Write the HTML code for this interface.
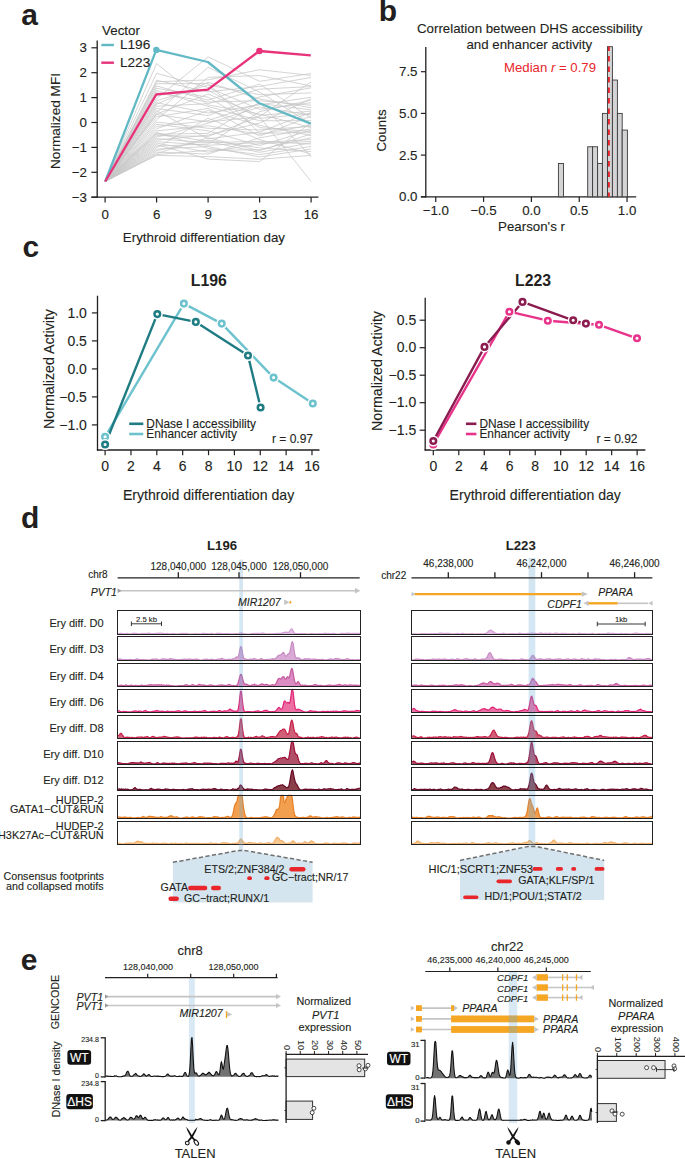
<!DOCTYPE html>
<html><head><meta charset="utf-8"><style>
html,body{margin:0;padding:0;background:#fff;overflow:hidden;width:685px;height:1158px;}
svg{display:block;}
text{font-family:"Liberation Sans", sans-serif;}
</style></head><body>
<svg width="685" height="1158" viewBox="0 0 685 1158" font-family='"Liberation Sans", sans-serif'>
<rect width="685" height="1158" fill="#fff"/>
<text x="21.3" y="24.6" font-size="30" font-weight="bold" fill="#231f20">a</text>
<text x="378.8" y="20.8" font-size="30" font-weight="bold" fill="#231f20">b</text>
<text x="22.4" y="256.6" font-size="30" font-weight="bold" fill="#231f20">c</text>
<text x="20.9" y="528.1" font-size="30" font-weight="bold" fill="#231f20">d</text>
<text x="20.7" y="970.1" font-size="30" font-weight="bold" fill="#231f20">e</text>
<line x1="97.2" y1="40.6" x2="97.2" y2="197.8" stroke="#231f20" stroke-width="1.3" />
<line x1="91.4" y1="197.2" x2="97.2" y2="197.2" stroke="#231f20" stroke-width="1.2" />
<text x="87" y="201.8" font-size="13.3" text-anchor="end" fill="#231f20" stroke="#231f20" stroke-width="0.12">−3</text>
<line x1="91.4" y1="172.3" x2="97.2" y2="172.3" stroke="#231f20" stroke-width="1.2" />
<text x="87" y="176.9" font-size="13.3" text-anchor="end" fill="#231f20" stroke="#231f20" stroke-width="0.12">−2</text>
<line x1="91.4" y1="147.4" x2="97.2" y2="147.4" stroke="#231f20" stroke-width="1.2" />
<text x="87" y="152" font-size="13.3" text-anchor="end" fill="#231f20" stroke="#231f20" stroke-width="0.12">−1</text>
<line x1="91.4" y1="122.5" x2="97.2" y2="122.5" stroke="#231f20" stroke-width="1.2" />
<text x="87" y="127.1" font-size="13.3" text-anchor="end" fill="#231f20" stroke="#231f20" stroke-width="0.12">0</text>
<line x1="91.4" y1="97.6" x2="97.2" y2="97.6" stroke="#231f20" stroke-width="1.2" />
<text x="87" y="102.2" font-size="13.3" text-anchor="end" fill="#231f20" stroke="#231f20" stroke-width="0.12">1</text>
<line x1="91.4" y1="72.7" x2="97.2" y2="72.7" stroke="#231f20" stroke-width="1.2" />
<text x="87" y="77.3" font-size="13.3" text-anchor="end" fill="#231f20" stroke="#231f20" stroke-width="0.12">2</text>
<line x1="91.4" y1="47.8" x2="97.2" y2="47.8" stroke="#231f20" stroke-width="1.2" />
<text x="87" y="52.4" font-size="13.3" text-anchor="end" fill="#231f20" stroke="#231f20" stroke-width="0.12">3</text>
<line x1="91.4" y1="197.2" x2="318.4" y2="197.2" stroke="#231f20" stroke-width="1.3" />
<line x1="105.1" y1="197.2" x2="105.1" y2="202.4" stroke="#231f20" stroke-width="1.2" />
<text x="105.1" y="219" font-size="13.3" text-anchor="middle" fill="#231f20" stroke="#231f20" stroke-width="0.12">0</text>
<line x1="156.6" y1="197.2" x2="156.6" y2="202.4" stroke="#231f20" stroke-width="1.2" />
<text x="156.6" y="219" font-size="13.3" text-anchor="middle" fill="#231f20" stroke="#231f20" stroke-width="0.12">6</text>
<line x1="208.1" y1="197.2" x2="208.1" y2="202.4" stroke="#231f20" stroke-width="1.2" />
<text x="208.1" y="219" font-size="13.3" text-anchor="middle" fill="#231f20" stroke="#231f20" stroke-width="0.12">9</text>
<line x1="259.6" y1="197.2" x2="259.6" y2="202.4" stroke="#231f20" stroke-width="1.2" />
<text x="259.6" y="219" font-size="13.3" text-anchor="middle" fill="#231f20" stroke="#231f20" stroke-width="0.12">13</text>
<line x1="311.1" y1="197.2" x2="311.1" y2="202.4" stroke="#231f20" stroke-width="1.2" />
<text x="311.1" y="219" font-size="13.3" text-anchor="middle" fill="#231f20" stroke="#231f20" stroke-width="0.12">16</text>
<text x="203.9" y="241.9" font-size="13.35" text-anchor="middle" fill="#231f20" stroke="#231f20" stroke-width="0.12">Erythroid differentiation day</text>
<text transform="translate(59.9,121) rotate(-90)" x="0" y="0" font-size="13.6" text-anchor="middle" fill="#231f20" stroke="#231f20" stroke-width="0.12">Normalized MFI</text>
<polyline points="105.1,181.5 156.6,98.49 208.1,56.87 259.6,81.32 311.1,73.5" fill="none" stroke="#c6c6c6" stroke-width="0.75" />
<polyline points="105.1,181.5 156.6,154.63 208.1,150.25 259.6,149.7 311.1,137.58" fill="none" stroke="#c6c6c6" stroke-width="0.75" />
<polyline points="105.1,181.5 156.6,108.5 208.1,115.6 259.6,96.93 311.1,87.84" fill="none" stroke="#c6c6c6" stroke-width="0.75" />
<polyline points="105.1,181.5 156.6,92.74 208.1,101.98 259.6,100.74 311.1,105.21" fill="none" stroke="#c6c6c6" stroke-width="0.75" />
<polyline points="105.1,181.5 156.6,126.5 208.1,120.67 259.6,103.48 311.1,109.88" fill="none" stroke="#c6c6c6" stroke-width="0.75" />
<polyline points="105.1,181.5 156.6,153.62 208.1,137.64 259.6,150.85 311.1,133.95" fill="none" stroke="#c6c6c6" stroke-width="0.75" />
<polyline points="105.1,181.5 156.6,141.62 208.1,145.26 259.6,142.6 311.1,139.49" fill="none" stroke="#c6c6c6" stroke-width="0.75" />
<polyline points="105.1,181.5 156.6,114.15 208.1,94.07 259.6,115.36 311.1,111.15" fill="none" stroke="#c6c6c6" stroke-width="0.75" />
<polyline points="105.1,181.5 156.6,90.49 208.1,106.45 259.6,120.73 311.1,120.62" fill="none" stroke="#c6c6c6" stroke-width="0.75" />
<polyline points="105.1,181.5 156.6,104.17 208.1,82.3 259.6,99.01 311.1,107.75" fill="none" stroke="#c6c6c6" stroke-width="0.75" />
<polyline points="105.1,181.5 156.6,143.12 208.1,152.15 259.6,143.76 311.1,141.39" fill="none" stroke="#c6c6c6" stroke-width="0.75" />
<polyline points="105.1,181.5 156.6,122 208.1,128.29 259.6,129.96 311.1,126.33" fill="none" stroke="#c6c6c6" stroke-width="0.75" />
<polyline points="105.1,181.5 156.6,81.72 208.1,79.88 259.6,69.78 311.1,75.4" fill="none" stroke="#c6c6c6" stroke-width="0.75" />
<polyline points="105.1,181.5 156.6,128.75 208.1,110.52 259.6,125.35 311.1,135.68" fill="none" stroke="#c6c6c6" stroke-width="0.75" />
<polyline points="105.1,181.5 156.6,133.46 208.1,141.45 259.6,152.36 311.1,142.78" fill="none" stroke="#c6c6c6" stroke-width="0.75" />
<polyline points="105.1,181.5 156.6,138.62 208.1,142.72 259.6,141.3 311.1,144.05" fill="none" stroke="#c6c6c6" stroke-width="0.75" />
<polyline points="105.1,181.5 156.6,110.75 208.1,138.91 259.6,132.04 311.1,112.42" fill="none" stroke="#c6c6c6" stroke-width="0.75" />
<polyline points="105.1,181.5 156.6,63.57 208.1,104.95 259.6,113.98 311.1,127.6" fill="none" stroke="#c6c6c6" stroke-width="0.75" />
<polyline points="105.1,181.5 156.6,85.99 208.1,100.07 259.6,84.15 311.1,118.08" fill="none" stroke="#c6c6c6" stroke-width="0.75" />
<polyline points="105.1,181.5 156.6,132.36 208.1,148.34 259.6,154.66 311.1,146.41" fill="none" stroke="#c6c6c6" stroke-width="0.75" />
<polyline points="105.1,181.5 156.6,106.25 208.1,103.68 259.6,89.17 311.1,86.6" fill="none" stroke="#c6c6c6" stroke-width="0.75" />
<polyline points="105.1,181.5 156.6,149.12 208.1,146.53 259.6,156.97 311.1,148.95" fill="none" stroke="#c6c6c6" stroke-width="0.75" />
<polyline points="105.1,181.5 156.6,116.87 208.1,108.35 259.6,136.11 311.1,116.23" fill="none" stroke="#c6c6c6" stroke-width="0.75" />
<polyline points="105.1,181.5 156.6,73.33 208.1,87.55 259.6,109.36 311.1,102.67" fill="none" stroke="#c6c6c6" stroke-width="0.75" />
<polyline points="105.1,181.5 156.6,119.75 208.1,77.34 259.6,75.55 311.1,85.96" fill="none" stroke="#c6c6c6" stroke-width="0.75" />
<polyline points="105.1,181.5 156.6,124.25 208.1,130.83 259.6,145.6 311.1,130.14" fill="none" stroke="#c6c6c6" stroke-width="0.75" />
<polyline points="105.1,181.5 156.6,130.86 208.1,125.75 259.6,134.38 311.1,125.06" fill="none" stroke="#c6c6c6" stroke-width="0.75" />
<polyline points="105.1,181.5 156.6,112.65 208.1,67.28 259.6,92.05 311.1,123.79" fill="none" stroke="#c6c6c6" stroke-width="0.75" />
<polyline points="105.1,181.5 156.6,80.22 208.1,91.88 259.6,86.45 311.1,77.42" fill="none" stroke="#c6c6c6" stroke-width="0.75" />
<polyline points="105.1,181.5 156.6,83.74 208.1,83.57 259.6,133.2 311.1,132.68" fill="none" stroke="#c6c6c6" stroke-width="0.75" />
<polyline points="105.1,181.5 156.6,95.54 208.1,89.97 259.6,118.42 311.1,113.69" fill="none" stroke="#c6c6c6" stroke-width="0.75" />
<polyline points="105.1,181.5 156.6,152.12 208.1,154.06 259.6,137.84 311.1,128.87" fill="none" stroke="#c6c6c6" stroke-width="0.75" />
<polyline points="105.1,181.5 156.6,88.24 208.1,97.25 259.6,127.66 311.1,131.41" fill="none" stroke="#c6c6c6" stroke-width="0.75" />
<polyline points="105.1,181.5 156.6,146.12 208.1,143.99 259.6,111.67 311.1,100.13" fill="none" stroke="#c6c6c6" stroke-width="0.75" />
<polyline points="105.1,181.5 156.6,137.12 208.1,123.21 259.6,107.06 311.1,114.96" fill="none" stroke="#c6c6c6" stroke-width="0.75" />
<polyline points="105.1,181.5 156.6,150.62 208.1,140.18 259.6,147.91 311.1,151.49" fill="none" stroke="#c6c6c6" stroke-width="0.75" />
<polyline points="105.1,181.5 156.6,100.74 208.1,85.01 259.6,94.62 311.1,92.92" fill="none" stroke="#c6c6c6" stroke-width="0.75" />
<polyline points="105.1,181.5 156.6,102.67 208.1,113.06 259.6,104.75 311.1,97.3" fill="none" stroke="#c6c6c6" stroke-width="0.75" />
<polyline points="105.1,181.5 156.6,147.62 208.1,118.13 259.6,139.57 311.1,154.03" fill="none" stroke="#c6c6c6" stroke-width="0.75" />
<polyline points="105.1,181.5 156.6,140.12 208.1,135.1 259.6,123.04 311.1,98.57" fill="none" stroke="#c6c6c6" stroke-width="0.75" />
<polyline points="105.1,181.5 156.6,155.38 208.1,156.57 259.6,159.28 311.1,155.36" fill="none" stroke="#c6c6c6" stroke-width="0.75" />
<polyline points="105.1,181.5 156.6,135.62 208.1,136.37 259.6,116.52 311.1,81.87" fill="none" stroke="#c6c6c6" stroke-width="0.75" />
<polyline points="105.1,181.5 156.6,144.62 208.1,159.11 259.6,161.59 311.1,122.52" fill="none" stroke="#c6c6c6" stroke-width="0.75" />
<polyline points="105.1,181.5 156.6,134.21 208.1,133.37 259.6,102.32 311.1,156.63" fill="none" stroke="#c6c6c6" stroke-width="0.75" />
<polyline points="105.1,181.5 156.6,114.44 208.1,121.89 259.6,116.92 311.1,181.44" fill="none" stroke="#c6c6c6" stroke-width="0.75" />
<polyline points="105.2,181.5 156.3,49.9 207.8,62 259.4,103.3 310.8,123.6" fill="none" stroke="#62b9c5" stroke-width="2.3" stroke-linejoin="round"/>
<polyline points="105.2,181.5 156.3,94.3 207.8,89.6 259.4,51 310.8,55.4" fill="none" stroke="#e8327a" stroke-width="2.3" stroke-linejoin="round"/>
<circle cx="156.3" cy="49.9" r="3.2" fill="#62b9c5" stroke="none" stroke-width="0"/>
<circle cx="259.4" cy="51" r="3.2" fill="#e8327a" stroke="none" stroke-width="0"/>
<text x="102" y="35.2" font-size="13.4" fill="#231f20" stroke="#231f20" stroke-width="0.12">Vector</text>
<line x1="101.3" y1="45" x2="113.9" y2="45" stroke="#62b9c5" stroke-width="2.4" />
<line x1="101.3" y1="62.7" x2="113.9" y2="62.7" stroke="#e8327a" stroke-width="2.4" />
<text x="120" y="49.4" font-size="13.6" fill="#231f20" stroke="#231f20" stroke-width="0.12">L196</text>
<text x="120" y="67.2" font-size="13.6" fill="#231f20" stroke="#231f20" stroke-width="0.12">L223</text>
<text x="529.7" y="33.3" font-size="13.3" text-anchor="middle" fill="#231f20" stroke="#231f20" stroke-width="0.12">Correlation between DHS accessibility</text>
<text x="529.3" y="49.1" font-size="13.3" text-anchor="middle" fill="#231f20" stroke="#231f20" stroke-width="0.12">and enhancer activity</text>
<line x1="425.8" y1="47.1" x2="425.8" y2="197.4" stroke="#231f20" stroke-width="1.3" />
<line x1="420.9" y1="196.8" x2="425.8" y2="196.8" stroke="#231f20" stroke-width="1.2" />
<text x="417.5" y="201.4" font-size="13.3" text-anchor="end" fill="#231f20" stroke="#231f20" stroke-width="0.12">0.0</text>
<line x1="420.9" y1="155.1" x2="425.8" y2="155.1" stroke="#231f20" stroke-width="1.2" />
<text x="417.5" y="159.7" font-size="13.3" text-anchor="end" fill="#231f20" stroke="#231f20" stroke-width="0.12">2.5</text>
<line x1="420.9" y1="113.4" x2="425.8" y2="113.4" stroke="#231f20" stroke-width="1.2" />
<text x="417.5" y="118" font-size="13.3" text-anchor="end" fill="#231f20" stroke="#231f20" stroke-width="0.12">5.0</text>
<line x1="420.9" y1="71.7" x2="425.8" y2="71.7" stroke="#231f20" stroke-width="1.2" />
<text x="417.5" y="76.3" font-size="13.3" text-anchor="end" fill="#231f20" stroke="#231f20" stroke-width="0.12">7.5</text>
<line x1="420.9" y1="196.8" x2="636.2" y2="196.8" stroke="#231f20" stroke-width="1.3" />
<line x1="435.75" y1="196.8" x2="435.75" y2="201.9" stroke="#231f20" stroke-width="1.2" />
<text x="435.75" y="215.4" font-size="13.3" text-anchor="middle" fill="#231f20" stroke="#231f20" stroke-width="0.12">−1.0</text>
<line x1="483.57" y1="196.8" x2="483.57" y2="201.9" stroke="#231f20" stroke-width="1.2" />
<text x="483.57" y="215.4" font-size="13.3" text-anchor="middle" fill="#231f20" stroke="#231f20" stroke-width="0.12">−0.5</text>
<line x1="531.4" y1="196.8" x2="531.4" y2="201.9" stroke="#231f20" stroke-width="1.2" />
<text x="531.4" y="215.4" font-size="13.3" text-anchor="middle" fill="#231f20" stroke="#231f20" stroke-width="0.12">0.0</text>
<line x1="579.23" y1="196.8" x2="579.23" y2="201.9" stroke="#231f20" stroke-width="1.2" />
<text x="579.23" y="215.4" font-size="13.3" text-anchor="middle" fill="#231f20" stroke="#231f20" stroke-width="0.12">0.5</text>
<line x1="627.05" y1="196.8" x2="627.05" y2="201.9" stroke="#231f20" stroke-width="1.2" />
<text x="627.05" y="215.4" font-size="13.3" text-anchor="middle" fill="#231f20" stroke="#231f20" stroke-width="0.12">1.0</text>
<text x="531.5" y="231.4" font-size="13.3" text-anchor="middle" fill="#231f20" stroke="#231f20" stroke-width="0.12">Pearson's r</text>
<text transform="translate(386.1,130.5) rotate(-90)" x="0" y="0" font-size="13.3" text-anchor="middle" fill="#231f20" stroke="#231f20" stroke-width="0.12">Counts</text>
<rect x="558.4" y="163.44" width="5.1" height="33.36" fill="#d4d4d6" stroke="#3a3a3a" stroke-width="0.9" />
<rect x="587.7" y="146.76" width="4.9" height="50.04" fill="#d4d4d6" stroke="#3a3a3a" stroke-width="0.9" />
<rect x="592.6" y="146.76" width="5" height="50.04" fill="#d4d4d6" stroke="#3a3a3a" stroke-width="0.9" />
<rect x="597.6" y="163.44" width="4.8" height="33.36" fill="#d4d4d6" stroke="#3a3a3a" stroke-width="0.9" />
<rect x="602.4" y="113.4" width="5.1" height="83.4" fill="#d4d4d6" stroke="#3a3a3a" stroke-width="0.9" />
<rect x="607.5" y="46.68" width="4.9" height="150.12" fill="#d4d4d6" stroke="#3a3a3a" stroke-width="0.9" />
<rect x="612.4" y="80.04" width="5" height="116.76" fill="#d4d4d6" stroke="#3a3a3a" stroke-width="0.9" />
<rect x="617.4" y="113.4" width="4.8" height="83.4" fill="#d4d4d6" stroke="#3a3a3a" stroke-width="0.9" />
<rect x="622.2" y="130.08" width="5.2" height="66.72" fill="#d4d4d6" stroke="#3a3a3a" stroke-width="0.9" />
<line x1="608.9" y1="46.6" x2="608.9" y2="196.8" stroke="#e8262b" stroke-width="1.9" stroke-dasharray="5.4 5.1" stroke-dashoffset="1.1"/>
<text x="504" y="72.1" font-size="13.2" fill="#e8262b">Median <tspan font-style="italic">r</tspan> = 0.79</text>
<text x="208.8" y="285.9" font-size="15.8" text-anchor="middle" font-weight="bold" fill="#231f20">L196</text>
<line x1="97.5" y1="295.7" x2="97.5" y2="450.6" stroke="#231f20" stroke-width="1.3" />
<line x1="91.9" y1="312.9" x2="97.5" y2="312.9" stroke="#231f20" stroke-width="1.2" />
<text x="86.9" y="317.5" font-size="14" text-anchor="end" fill="#231f20" stroke="#231f20" stroke-width="0.12">1.0</text>
<line x1="91.9" y1="340.9" x2="97.5" y2="340.9" stroke="#231f20" stroke-width="1.2" />
<text x="86.9" y="345.5" font-size="14" text-anchor="end" fill="#231f20" stroke="#231f20" stroke-width="0.12">0.5</text>
<line x1="91.9" y1="368.9" x2="97.5" y2="368.9" stroke="#231f20" stroke-width="1.2" />
<text x="86.9" y="373.5" font-size="14" text-anchor="end" fill="#231f20" stroke="#231f20" stroke-width="0.12">0.0</text>
<line x1="91.9" y1="396.9" x2="97.5" y2="396.9" stroke="#231f20" stroke-width="1.2" />
<text x="86.9" y="401.5" font-size="14" text-anchor="end" fill="#231f20" stroke="#231f20" stroke-width="0.12">−0.5</text>
<line x1="91.9" y1="424.9" x2="97.5" y2="424.9" stroke="#231f20" stroke-width="1.2" />
<text x="86.9" y="429.5" font-size="14" text-anchor="end" fill="#231f20" stroke="#231f20" stroke-width="0.12">−1.0</text>
<line x1="96.9" y1="450" x2="319.5" y2="450" stroke="#231f20" stroke-width="1.3" />
<line x1="105.1" y1="450" x2="105.1" y2="455.2" stroke="#231f20" stroke-width="1.2" />
<text x="105.1" y="470.8" font-size="14" text-anchor="middle" fill="#231f20" stroke="#231f20" stroke-width="0.12">0</text>
<line x1="130.96" y1="450" x2="130.96" y2="455.2" stroke="#231f20" stroke-width="1.2" />
<text x="130.96" y="470.8" font-size="14" text-anchor="middle" fill="#231f20" stroke="#231f20" stroke-width="0.12">2</text>
<line x1="156.82" y1="450" x2="156.82" y2="455.2" stroke="#231f20" stroke-width="1.2" />
<text x="156.82" y="470.8" font-size="14" text-anchor="middle" fill="#231f20" stroke="#231f20" stroke-width="0.12">4</text>
<line x1="182.68" y1="450" x2="182.68" y2="455.2" stroke="#231f20" stroke-width="1.2" />
<text x="182.68" y="470.8" font-size="14" text-anchor="middle" fill="#231f20" stroke="#231f20" stroke-width="0.12">6</text>
<line x1="208.54" y1="450" x2="208.54" y2="455.2" stroke="#231f20" stroke-width="1.2" />
<text x="208.54" y="470.8" font-size="14" text-anchor="middle" fill="#231f20" stroke="#231f20" stroke-width="0.12">8</text>
<line x1="234.4" y1="450" x2="234.4" y2="455.2" stroke="#231f20" stroke-width="1.2" />
<text x="234.4" y="470.8" font-size="14" text-anchor="middle" fill="#231f20" stroke="#231f20" stroke-width="0.12">10</text>
<line x1="260.26" y1="450" x2="260.26" y2="455.2" stroke="#231f20" stroke-width="1.2" />
<text x="260.26" y="470.8" font-size="14" text-anchor="middle" fill="#231f20" stroke="#231f20" stroke-width="0.12">12</text>
<line x1="286.12" y1="450" x2="286.12" y2="455.2" stroke="#231f20" stroke-width="1.2" />
<text x="286.12" y="470.8" font-size="14" text-anchor="middle" fill="#231f20" stroke="#231f20" stroke-width="0.12">14</text>
<line x1="311.98" y1="450" x2="311.98" y2="455.2" stroke="#231f20" stroke-width="1.2" />
<text x="311.98" y="470.8" font-size="14" text-anchor="middle" fill="#231f20" stroke="#231f20" stroke-width="0.12">16</text>
<text x="208.54" y="499.6" font-size="14.1" text-anchor="middle" fill="#231f20" stroke="#231f20" stroke-width="0.12">Erythroid differentiation day</text>
<text transform="translate(53.6,369) rotate(-90)" x="0" y="0" font-size="14.2" text-anchor="middle" fill="#231f20" stroke="#231f20" stroke-width="0.12">Normalized Activity</text>
<polyline points="105.1,436.8 183.9,303.6 221.7,323.6 273.6,377.6 312.8,403.5" fill="none" stroke="#6cc2cd" stroke-width="2.4" stroke-linejoin="round"/>
<polyline points="105.1,444.5 157.3,314.1 195.8,321.9 248,355.5 260.6,407.5" fill="none" stroke="#1f7c83" stroke-width="2.4" stroke-linejoin="round"/>
<circle cx="105.1" cy="436.8" r="5.5" fill="white" stroke="none" stroke-width="0"/>
<circle cx="105.1" cy="436.8" r="2.8" fill="white" stroke="#6cc2cd" stroke-width="2.5"/>
<circle cx="183.9" cy="303.6" r="5.5" fill="white" stroke="none" stroke-width="0"/>
<circle cx="183.9" cy="303.6" r="2.8" fill="white" stroke="#6cc2cd" stroke-width="2.5"/>
<circle cx="221.7" cy="323.6" r="5.5" fill="white" stroke="none" stroke-width="0"/>
<circle cx="221.7" cy="323.6" r="2.8" fill="white" stroke="#6cc2cd" stroke-width="2.5"/>
<circle cx="273.6" cy="377.6" r="5.5" fill="white" stroke="none" stroke-width="0"/>
<circle cx="273.6" cy="377.6" r="2.8" fill="white" stroke="#6cc2cd" stroke-width="2.5"/>
<circle cx="312.8" cy="403.5" r="5.5" fill="white" stroke="none" stroke-width="0"/>
<circle cx="312.8" cy="403.5" r="2.8" fill="white" stroke="#6cc2cd" stroke-width="2.5"/>
<circle cx="105.1" cy="444.5" r="5.5" fill="white" stroke="none" stroke-width="0"/>
<circle cx="105.1" cy="444.5" r="2.8" fill="white" stroke="#1f7c83" stroke-width="2.5"/>
<circle cx="157.3" cy="314.1" r="5.5" fill="white" stroke="none" stroke-width="0"/>
<circle cx="157.3" cy="314.1" r="2.8" fill="white" stroke="#1f7c83" stroke-width="2.5"/>
<circle cx="195.8" cy="321.9" r="5.5" fill="white" stroke="none" stroke-width="0"/>
<circle cx="195.8" cy="321.9" r="2.8" fill="white" stroke="#1f7c83" stroke-width="2.5"/>
<circle cx="248" cy="355.5" r="5.5" fill="white" stroke="none" stroke-width="0"/>
<circle cx="248" cy="355.5" r="2.8" fill="white" stroke="#1f7c83" stroke-width="2.5"/>
<circle cx="260.6" cy="407.5" r="5.5" fill="white" stroke="none" stroke-width="0"/>
<circle cx="260.6" cy="407.5" r="2.8" fill="white" stroke="#1f7c83" stroke-width="2.5"/>
<line x1="129.2" y1="423.8" x2="143.3" y2="423.8" stroke="#1f7c83" stroke-width="2.6" />
<line x1="129.2" y1="434" x2="143.3" y2="434" stroke="#6cc2cd" stroke-width="2.6" />
<text x="146.3" y="427.5" font-size="11.9" fill="#231f20" stroke="#231f20" stroke-width="0.12">DNase I accessibility</text>
<text x="146.3" y="437.9" font-size="11.9" fill="#231f20" stroke="#231f20" stroke-width="0.12">Enhancer activity</text>
<text x="313" y="442.6" font-size="12.0" text-anchor="end" fill="#231f20" stroke="#231f20" stroke-width="0.12">r = 0.97</text>
<text x="533" y="285.9" font-size="15.8" text-anchor="middle" font-weight="bold" fill="#231f20">L223</text>
<line x1="425.2" y1="297.8" x2="425.2" y2="450.6" stroke="#231f20" stroke-width="1.3" />
<line x1="419.6" y1="320.2" x2="425.2" y2="320.2" stroke="#231f20" stroke-width="1.2" />
<text x="416.2" y="324.8" font-size="14" text-anchor="end" fill="#231f20" stroke="#231f20" stroke-width="0.12">0.5</text>
<line x1="419.6" y1="347.7" x2="425.2" y2="347.7" stroke="#231f20" stroke-width="1.2" />
<text x="416.2" y="352.3" font-size="14" text-anchor="end" fill="#231f20" stroke="#231f20" stroke-width="0.12">0.0</text>
<line x1="419.6" y1="375.2" x2="425.2" y2="375.2" stroke="#231f20" stroke-width="1.2" />
<text x="416.2" y="379.8" font-size="14" text-anchor="end" fill="#231f20" stroke="#231f20" stroke-width="0.12">−0.5</text>
<line x1="419.6" y1="402.7" x2="425.2" y2="402.7" stroke="#231f20" stroke-width="1.2" />
<text x="416.2" y="407.3" font-size="14" text-anchor="end" fill="#231f20" stroke="#231f20" stroke-width="0.12">−1.0</text>
<line x1="419.6" y1="430.2" x2="425.2" y2="430.2" stroke="#231f20" stroke-width="1.2" />
<text x="416.2" y="434.8" font-size="14" text-anchor="end" fill="#231f20" stroke="#231f20" stroke-width="0.12">−1.5</text>
<line x1="424.6" y1="450" x2="645.4" y2="450" stroke="#231f20" stroke-width="1.3" />
<line x1="433.3" y1="450" x2="433.3" y2="455.2" stroke="#231f20" stroke-width="1.2" />
<text x="433.3" y="470.8" font-size="14" text-anchor="middle" fill="#231f20" stroke="#231f20" stroke-width="0.12">0</text>
<line x1="458.78" y1="450" x2="458.78" y2="455.2" stroke="#231f20" stroke-width="1.2" />
<text x="458.78" y="470.8" font-size="14" text-anchor="middle" fill="#231f20" stroke="#231f20" stroke-width="0.12">2</text>
<line x1="484.26" y1="450" x2="484.26" y2="455.2" stroke="#231f20" stroke-width="1.2" />
<text x="484.26" y="470.8" font-size="14" text-anchor="middle" fill="#231f20" stroke="#231f20" stroke-width="0.12">4</text>
<line x1="509.74" y1="450" x2="509.74" y2="455.2" stroke="#231f20" stroke-width="1.2" />
<text x="509.74" y="470.8" font-size="14" text-anchor="middle" fill="#231f20" stroke="#231f20" stroke-width="0.12">6</text>
<line x1="535.22" y1="450" x2="535.22" y2="455.2" stroke="#231f20" stroke-width="1.2" />
<text x="535.22" y="470.8" font-size="14" text-anchor="middle" fill="#231f20" stroke="#231f20" stroke-width="0.12">8</text>
<line x1="560.7" y1="450" x2="560.7" y2="455.2" stroke="#231f20" stroke-width="1.2" />
<text x="560.7" y="470.8" font-size="14" text-anchor="middle" fill="#231f20" stroke="#231f20" stroke-width="0.12">10</text>
<line x1="586.18" y1="450" x2="586.18" y2="455.2" stroke="#231f20" stroke-width="1.2" />
<text x="586.18" y="470.8" font-size="14" text-anchor="middle" fill="#231f20" stroke="#231f20" stroke-width="0.12">12</text>
<line x1="611.66" y1="450" x2="611.66" y2="455.2" stroke="#231f20" stroke-width="1.2" />
<text x="611.66" y="470.8" font-size="14" text-anchor="middle" fill="#231f20" stroke="#231f20" stroke-width="0.12">14</text>
<line x1="637.14" y1="450" x2="637.14" y2="455.2" stroke="#231f20" stroke-width="1.2" />
<text x="637.14" y="470.8" font-size="14" text-anchor="middle" fill="#231f20" stroke="#231f20" stroke-width="0.12">16</text>
<text x="535.22" y="499.6" font-size="14.1" text-anchor="middle" fill="#231f20" stroke="#231f20" stroke-width="0.12">Erythroid differentiation day</text>
<text transform="translate(381.6,371) rotate(-90)" x="0" y="0" font-size="14.2" text-anchor="middle" fill="#231f20" stroke="#231f20" stroke-width="0.12">Normalized Activity</text>
<polyline points="433.3,444.5 509.4,311.7 547.8,320.7 599,324.8 637,338.3" fill="none" stroke="#e8338a" stroke-width="2.4" stroke-linejoin="round"/>
<polyline points="433.3,441 484.5,346.9 522.5,301.9 573.2,320.3 585.9,323.6" fill="none" stroke="#8b1c50" stroke-width="2.4" stroke-linejoin="round"/>
<circle cx="433.3" cy="444.5" r="5.5" fill="white" stroke="none" stroke-width="0"/>
<circle cx="433.3" cy="444.5" r="2.8" fill="white" stroke="#e8338a" stroke-width="2.5"/>
<circle cx="509.4" cy="311.7" r="5.5" fill="white" stroke="none" stroke-width="0"/>
<circle cx="509.4" cy="311.7" r="2.8" fill="white" stroke="#e8338a" stroke-width="2.5"/>
<circle cx="547.8" cy="320.7" r="5.5" fill="white" stroke="none" stroke-width="0"/>
<circle cx="547.8" cy="320.7" r="2.8" fill="white" stroke="#e8338a" stroke-width="2.5"/>
<circle cx="599" cy="324.8" r="5.5" fill="white" stroke="none" stroke-width="0"/>
<circle cx="599" cy="324.8" r="2.8" fill="white" stroke="#e8338a" stroke-width="2.5"/>
<circle cx="637" cy="338.3" r="5.5" fill="white" stroke="none" stroke-width="0"/>
<circle cx="637" cy="338.3" r="2.8" fill="white" stroke="#e8338a" stroke-width="2.5"/>
<circle cx="433.3" cy="441" r="5.5" fill="white" stroke="none" stroke-width="0"/>
<circle cx="433.3" cy="441" r="2.8" fill="white" stroke="#8b1c50" stroke-width="2.5"/>
<circle cx="484.5" cy="346.9" r="5.5" fill="white" stroke="none" stroke-width="0"/>
<circle cx="484.5" cy="346.9" r="2.8" fill="white" stroke="#8b1c50" stroke-width="2.5"/>
<circle cx="522.5" cy="301.9" r="5.5" fill="white" stroke="none" stroke-width="0"/>
<circle cx="522.5" cy="301.9" r="2.8" fill="white" stroke="#8b1c50" stroke-width="2.5"/>
<circle cx="573.2" cy="320.3" r="5.5" fill="white" stroke="none" stroke-width="0"/>
<circle cx="573.2" cy="320.3" r="2.8" fill="white" stroke="#8b1c50" stroke-width="2.5"/>
<circle cx="585.9" cy="323.6" r="5.5" fill="white" stroke="none" stroke-width="0"/>
<circle cx="585.9" cy="323.6" r="2.8" fill="white" stroke="#8b1c50" stroke-width="2.5"/>
<line x1="465.9" y1="423.8" x2="476.4" y2="423.8" stroke="#8b1c50" stroke-width="2.6" />
<line x1="465.9" y1="434" x2="476.4" y2="434" stroke="#e8338a" stroke-width="2.6" />
<text x="479.4" y="427.5" font-size="11.9" fill="#231f20" stroke="#231f20" stroke-width="0.12">DNase I accessibility</text>
<text x="479.4" y="437.9" font-size="11.9" fill="#231f20" stroke="#231f20" stroke-width="0.12">Enhancer activity</text>
<text x="637.5" y="442.6" font-size="12.0" text-anchor="end" fill="#231f20" stroke="#231f20" stroke-width="0.12">r = 0.92</text>
<rect x="239.3" y="559.6" width="3.6" height="51" fill="#d3e5f1" stroke="none" stroke-width="0" />
<rect x="528.6" y="558" width="6.7" height="52.6" fill="#d3e5f1" stroke="none" stroke-width="0" />
<text x="222.1" y="549.8" font-size="13.2" text-anchor="middle" font-weight="bold" fill="#231f20">L196</text>
<text x="520.7" y="549.9" font-size="13.2" text-anchor="middle" font-weight="bold" fill="#231f20">L223</text>
<line x1="117.6" y1="577.9" x2="359.7" y2="577.9" stroke="#231f20" stroke-width="1.3" />
<line x1="178.3" y1="572.2" x2="178.3" y2="577.9" stroke="#231f20" stroke-width="1.3" />
<text x="178.3" y="569.5" font-size="10" text-anchor="middle" fill="#231f20" stroke="#231f20" stroke-width="0.12">128,040,000</text>
<line x1="239" y1="572.2" x2="239" y2="577.9" stroke="#231f20" stroke-width="1.3" />
<text x="239" y="569.5" font-size="10" text-anchor="middle" fill="#231f20" stroke="#231f20" stroke-width="0.12">128,045,000</text>
<line x1="300.5" y1="572.2" x2="300.5" y2="577.9" stroke="#231f20" stroke-width="1.3" />
<text x="300.5" y="569.5" font-size="10" text-anchor="middle" fill="#231f20" stroke="#231f20" stroke-width="0.12">128,050,000</text>
<text x="107.6" y="578" font-size="10" text-anchor="end" fill="#231f20" stroke="#231f20" stroke-width="0.12">chr8</text>
<line x1="411.5" y1="577.9" x2="652.4" y2="577.9" stroke="#231f20" stroke-width="1.3" />
<line x1="448.3" y1="572.2" x2="448.3" y2="577.9" stroke="#231f20" stroke-width="1.3" />
<line x1="494.9" y1="572.2" x2="494.9" y2="577.9" stroke="#231f20" stroke-width="1.3" />
<line x1="541.5" y1="572.2" x2="541.5" y2="577.9" stroke="#231f20" stroke-width="1.3" />
<line x1="588" y1="572.2" x2="588" y2="577.9" stroke="#231f20" stroke-width="1.3" />
<line x1="634.6" y1="572.2" x2="634.6" y2="577.9" stroke="#231f20" stroke-width="1.3" />
<text x="448.3" y="567.3" font-size="10" text-anchor="middle" fill="#231f20" stroke="#231f20" stroke-width="0.12">46,238,000</text>
<text x="541.5" y="567.3" font-size="10" text-anchor="middle" fill="#231f20" stroke="#231f20" stroke-width="0.12">46,242,000</text>
<text x="634.6" y="567.3" font-size="10" text-anchor="middle" fill="#231f20" stroke="#231f20" stroke-width="0.12">46,246,000</text>
<text x="406.2" y="578.6" font-size="10" text-anchor="end" fill="#231f20" stroke="#231f20" stroke-width="0.12">chr22</text>
<line x1="119" y1="590.7" x2="355" y2="590.7" stroke="#c4c4c4" stroke-width="1.6" />
<polygon points="355,587.9 360.5,590.7 355,593.5" fill="#c4c4c4" stroke="none" stroke-width="0" />
<polygon points="117.6,588.5 121.6,590.7 117.6,592.9" fill="#9a9a9a" stroke="none" stroke-width="0" />
<text x="116.9" y="595.5" font-size="10.5" text-anchor="end" font-style="italic" fill="#231f20" stroke="#231f20" stroke-width="0.12">PVT1</text>
<text x="238" y="605.9" font-size="10.5" font-style="italic" fill="#231f20" stroke="#231f20" stroke-width="0.12">MIR1207</text>
<polygon points="284.2,599.5 289.6,602.2 284.2,604.9" fill="#c4c4c4" stroke="none" stroke-width="0" />
<ellipse cx="290.4" cy="602.3" rx="0.9" ry="1.5" fill="#f5a623"/>
<line x1="414.5" y1="594.1" x2="581.7" y2="594.1" stroke="#f5a623" stroke-width="2.2" />
<polygon points="581.7,591.5 588,594.1 581.7,596.7" fill="#c4c4c4" stroke="none" stroke-width="0" />
<polygon points="411.5,591.9 415.5,594.1 411.5,596.3" fill="#c4c4c4" stroke="none" stroke-width="0" />
<text x="598.2" y="595.6" font-size="10.5" font-style="italic" fill="#231f20" stroke="#231f20" stroke-width="0.12">PPARA</text>
<line x1="617.7" y1="603.3" x2="648" y2="603.3" stroke="#c4c4c4" stroke-width="1.6" />
<line x1="588" y1="603.3" x2="617.7" y2="603.3" stroke="#f5a623" stroke-width="2.4" />
<polygon points="588.5,600.8 583.4,603.3 588.5,605.8" fill="#c4c4c4" stroke="none" stroke-width="0" />
<polygon points="652.6,601.1 648.2,603.3 652.6,605.5" fill="#c4c4c4" stroke="none" stroke-width="0" />
<text x="581.8" y="608.3" font-size="10.5" text-anchor="end" font-style="italic" fill="#231f20" stroke="#231f20" stroke-width="0.12">CDPF1</text>
<polygon points="118.1,634.5 118.1,633.73 118.8,633.63 119.5,633.54 120.2,633.42 120.9,633.27 121.6,633.38 122.3,633.63 123,633.73 123.7,633.84 124.4,633.8 125.1,633.67 125.8,633.58 126.5,633.63 127.2,633.34 127.9,633.64 128.6,633.87 129.3,633.91 130,633.9 130.7,633.93 131.4,633.73 132.1,633.72 132.8,633.42 133.5,633.33 134.2,633.19 134.9,633.27 135.6,633.29 136.3,633.43 137,633.6 137.7,633.88 138.4,633.97 139.1,633.83 139.8,633.86 140.5,633.84 141.2,633.56 141.9,633.34 142.6,633.57 143.3,633.61 144,633.43 144.7,633.41 145.4,633.71 146.1,633.6 146.8,633.38 147.5,633.4 148.2,633.48 148.9,633.18 149.6,633.2 150.3,633.51 151,633.52 151.7,633.59 152.4,633.74 153.1,633.62 153.8,633.59 154.5,633.63 155.2,633.55 155.9,633.34 156.6,633.33 157.3,633.19 158,633.3 158.7,633.26 159.4,633.21 160.1,633.3 160.8,633.24 161.5,633.11 162.2,633.29 162.9,633.44 163.6,633.66 164.3,633.69 165,633.56 165.7,633.68 166.4,633.62 167.1,633.4 167.8,633.62 168.5,633.87 169.2,633.75 169.9,633.9 170.6,633.98 171.3,633.87 172,633.7 172.7,633.64 173.4,633.51 174.1,633.5 174.8,633.72 175.5,633.88 176.2,633.99 176.9,634 177.6,633.93 178.3,633.88 179,633.81 179.7,633.56 180.4,633.6 181.1,633.61 181.8,633.44 182.5,633.32 183.2,633.52 183.9,633.46 184.6,633.47 185.3,633.64 186,633.59 186.7,633.43 187.4,633.63 188.1,633.8 188.8,633.77 189.5,633.95 190.2,634.06 190.9,633.98 191.6,633.99 192.3,634.02 193,633.84 193.7,633.77 194.4,633.8 195.1,633.68 195.8,633.58 196.5,633.75 197.2,633.82 197.9,633.81 198.6,633.87 199.3,633.91 200,633.97 200.7,633.92 201.4,633.83 202.1,633.73 202.8,633.41 203.5,633.32 204.2,633.39 204.9,633.49 205.6,633.64 206.3,633.64 207,633.64 207.7,633.64 208.4,633.78 209.1,633.75 209.8,633.77 210.5,633.56 211.2,633.44 211.9,633.46 212.6,633.58 213.3,633.85 214,634 214.7,633.99 215.4,633.91 216.1,633.66 216.8,633.36 217.5,633.34 218.2,633.32 218.9,633.4 219.6,633.46 220.3,633.7 221,633.46 221.7,633.71 222.4,633.65 223.1,633.77 223.8,633.56 224.5,633.84 225.2,633.55 225.9,633.76 226.6,633.63 227.3,633.67 228,633.53 228.7,633.78 229.4,633.66 230.1,633.75 230.8,633.89 231.5,633.97 232.2,633.81 232.9,633.76 233.6,633.81 234.3,633.68 235,633.5 235.7,633.75 236.4,633.74 237.1,633.63 237.8,633.78 238.5,633.78 239.2,633.39 239.9,633.12 240.6,633.02 241.3,632.95 242,633.13 242.7,633.45 243.4,633.52 244.1,633.63 244.8,633.77 245.5,633.78 246.2,633.95 246.9,634.06 247.6,634.06 248.3,634.05 249,634.03 249.7,634.02 250.4,633.95 251.1,633.71 251.8,633.7 252.5,633.65 253.2,633.46 253.9,633.62 254.6,633.62 255.3,633.38 256,633.54 256.7,633.41 257.4,633.44 258.1,633.49 258.8,633.45 259.5,633.55 260.2,633.54 260.9,633.24 261.6,633.2 262.3,633.46 263,633.17 263.7,633.24 264.4,633.44 265.1,633.76 265.8,633.84 266.5,633.9 267.2,633.95 267.9,633.99 268.6,633.87 269.3,633.86 270,633.86 270.7,633.87 271.4,633.85 272.1,633.98 272.8,633.78 273.5,633.65 274.2,633.63 274.9,633.69 275.6,633.51 276.3,633.48 277,633.51 277.7,633.46 278.4,633.43 279.1,633.36 279.8,633.55 280.5,633.35 281.2,633.39 281.9,633.11 282.6,632.77 283.3,632.56 284,632.55 284.7,632.37 285.4,632.18 286.1,632.35 286.8,632.2 287.5,632.35 288.2,632.35 288.9,632.1 289.6,631.22 290.3,630.26 291,629.2 291.7,628.79 292.4,629.56 293.1,630.86 293.8,632.14 294.5,633.15 295.2,633.62 295.9,633.74 296.6,633.69 297.3,633.77 298,633.55 298.7,633.73 299.4,633.63 300.1,633.6 300.8,633.59 301.5,633.72 302.2,633.4 302.9,633.69 303.6,633.8 304.3,633.68 305,633.73 305.7,633.94 306.4,633.9 307.1,633.95 307.8,633.99 308.5,634.01 309.2,633.86 309.9,633.61 310.6,633.62 311.3,633.68 312,633.69 312.7,633.71 313.4,633.92 314.1,633.82 314.8,633.8 315.5,633.78 316.2,633.95 316.9,633.85 317.6,633.92 318.3,633.73 319,633.68 319.7,633.59 320.4,633.79 321.1,633.64 321.8,633.87 322.5,633.87 323.2,633.7 323.9,633.4 324.6,633.6 325.3,633.21 326,633.32 326.7,633.5 327.4,633.59 328.1,633.44 328.8,633.69 329.5,633.64 330.2,633.73 330.9,633.61 331.6,633.6 332.3,633.58 333,633.43 333.7,633.29 334.4,633.58 335.1,633.67 335.8,633.75 336.5,633.9 337.2,634.01 337.9,634.03 338.6,634.02 339.3,633.87 340,633.68 340.7,633.63 341.4,633.26 342.1,633.39 342.8,633.45 343.5,633.55 344.2,633.45 344.9,633.55 345.6,633.31 346.3,633.31 347,633.35 347.7,633.16 348.4,633.13 349.1,633.38 349.8,633.25 350.5,633.3 351.2,633.64 351.9,633.56 352.6,633.32 353.3,633.51 354,633.36 354.7,633.04 355.4,633.46 356.1,633.52 356.8,633.48 357.5,633.39 358.2,633.48 358.9,633.4 359.6,633.49 359.9,633.52 359.9,634.5" fill="#e4bee4" stroke="none" stroke-width="0" />
<polyline points="118.1,633.73 118.8,633.63 119.5,633.54 120.2,633.42 120.9,633.27 121.6,633.38 122.3,633.63 123,633.73 123.7,633.84 124.4,633.8 125.1,633.67 125.8,633.58 126.5,633.63 127.2,633.34 127.9,633.64 128.6,633.87 129.3,633.91 130,633.9 130.7,633.93 131.4,633.73 132.1,633.72 132.8,633.42 133.5,633.33 134.2,633.19 134.9,633.27 135.6,633.29 136.3,633.43 137,633.6 137.7,633.88 138.4,633.97 139.1,633.83 139.8,633.86 140.5,633.84 141.2,633.56 141.9,633.34 142.6,633.57 143.3,633.61 144,633.43 144.7,633.41 145.4,633.71 146.1,633.6 146.8,633.38 147.5,633.4 148.2,633.48 148.9,633.18 149.6,633.2 150.3,633.51 151,633.52 151.7,633.59 152.4,633.74 153.1,633.62 153.8,633.59 154.5,633.63 155.2,633.55 155.9,633.34 156.6,633.33 157.3,633.19 158,633.3 158.7,633.26 159.4,633.21 160.1,633.3 160.8,633.24 161.5,633.11 162.2,633.29 162.9,633.44 163.6,633.66 164.3,633.69 165,633.56 165.7,633.68 166.4,633.62 167.1,633.4 167.8,633.62 168.5,633.87 169.2,633.75 169.9,633.9 170.6,633.98 171.3,633.87 172,633.7 172.7,633.64 173.4,633.51 174.1,633.5 174.8,633.72 175.5,633.88 176.2,633.99 176.9,634 177.6,633.93 178.3,633.88 179,633.81 179.7,633.56 180.4,633.6 181.1,633.61 181.8,633.44 182.5,633.32 183.2,633.52 183.9,633.46 184.6,633.47 185.3,633.64 186,633.59 186.7,633.43 187.4,633.63 188.1,633.8 188.8,633.77 189.5,633.95 190.2,634.06 190.9,633.98 191.6,633.99 192.3,634.02 193,633.84 193.7,633.77 194.4,633.8 195.1,633.68 195.8,633.58 196.5,633.75 197.2,633.82 197.9,633.81 198.6,633.87 199.3,633.91 200,633.97 200.7,633.92 201.4,633.83 202.1,633.73 202.8,633.41 203.5,633.32 204.2,633.39 204.9,633.49 205.6,633.64 206.3,633.64 207,633.64 207.7,633.64 208.4,633.78 209.1,633.75 209.8,633.77 210.5,633.56 211.2,633.44 211.9,633.46 212.6,633.58 213.3,633.85 214,634 214.7,633.99 215.4,633.91 216.1,633.66 216.8,633.36 217.5,633.34 218.2,633.32 218.9,633.4 219.6,633.46 220.3,633.7 221,633.46 221.7,633.71 222.4,633.65 223.1,633.77 223.8,633.56 224.5,633.84 225.2,633.55 225.9,633.76 226.6,633.63 227.3,633.67 228,633.53 228.7,633.78 229.4,633.66 230.1,633.75 230.8,633.89 231.5,633.97 232.2,633.81 232.9,633.76 233.6,633.81 234.3,633.68 235,633.5 235.7,633.75 236.4,633.74 237.1,633.63 237.8,633.78 238.5,633.78 239.2,633.39 239.9,633.12 240.6,633.02 241.3,632.95 242,633.13 242.7,633.45 243.4,633.52 244.1,633.63 244.8,633.77 245.5,633.78 246.2,633.95 246.9,634.06 247.6,634.06 248.3,634.05 249,634.03 249.7,634.02 250.4,633.95 251.1,633.71 251.8,633.7 252.5,633.65 253.2,633.46 253.9,633.62 254.6,633.62 255.3,633.38 256,633.54 256.7,633.41 257.4,633.44 258.1,633.49 258.8,633.45 259.5,633.55 260.2,633.54 260.9,633.24 261.6,633.2 262.3,633.46 263,633.17 263.7,633.24 264.4,633.44 265.1,633.76 265.8,633.84 266.5,633.9 267.2,633.95 267.9,633.99 268.6,633.87 269.3,633.86 270,633.86 270.7,633.87 271.4,633.85 272.1,633.98 272.8,633.78 273.5,633.65 274.2,633.63 274.9,633.69 275.6,633.51 276.3,633.48 277,633.51 277.7,633.46 278.4,633.43 279.1,633.36 279.8,633.55 280.5,633.35 281.2,633.39 281.9,633.11 282.6,632.77 283.3,632.56 284,632.55 284.7,632.37 285.4,632.18 286.1,632.35 286.8,632.2 287.5,632.35 288.2,632.35 288.9,632.1 289.6,631.22 290.3,630.26 291,629.2 291.7,628.79 292.4,629.56 293.1,630.86 293.8,632.14 294.5,633.15 295.2,633.62 295.9,633.74 296.6,633.69 297.3,633.77 298,633.55 298.7,633.73 299.4,633.63 300.1,633.6 300.8,633.59 301.5,633.72 302.2,633.4 302.9,633.69 303.6,633.8 304.3,633.68 305,633.73 305.7,633.94 306.4,633.9 307.1,633.95 307.8,633.99 308.5,634.01 309.2,633.86 309.9,633.61 310.6,633.62 311.3,633.68 312,633.69 312.7,633.71 313.4,633.92 314.1,633.82 314.8,633.8 315.5,633.78 316.2,633.95 316.9,633.85 317.6,633.92 318.3,633.73 319,633.68 319.7,633.59 320.4,633.79 321.1,633.64 321.8,633.87 322.5,633.87 323.2,633.7 323.9,633.4 324.6,633.6 325.3,633.21 326,633.32 326.7,633.5 327.4,633.59 328.1,633.44 328.8,633.69 329.5,633.64 330.2,633.73 330.9,633.61 331.6,633.6 332.3,633.58 333,633.43 333.7,633.29 334.4,633.58 335.1,633.67 335.8,633.75 336.5,633.9 337.2,634.01 337.9,634.03 338.6,634.02 339.3,633.87 340,633.68 340.7,633.63 341.4,633.26 342.1,633.39 342.8,633.45 343.5,633.55 344.2,633.45 344.9,633.55 345.6,633.31 346.3,633.31 347,633.35 347.7,633.16 348.4,633.13 349.1,633.38 349.8,633.25 350.5,633.3 351.2,633.64 351.9,633.56 352.6,633.32 353.3,633.51 354,633.36 354.7,633.04 355.4,633.46 356.1,633.52 356.8,633.48 357.5,633.39 358.2,633.48 358.9,633.4 359.6,633.49 359.9,633.52" fill="none" stroke="#d2a0d2" stroke-width="1.25" stroke-linejoin="round"/>
<polygon points="412.1,634.5 412.1,633.92 412.8,633.97 413.5,633.83 414.2,633.76 414.9,633.82 415.6,633.89 416.3,633.89 417,634.04 417.7,634.04 418.4,633.97 419.1,634.01 419.8,633.87 420.5,633.79 421.2,633.66 421.9,633.7 422.6,633.73 423.3,633.85 424,633.74 424.7,633.8 425.4,633.71 426.1,633.7 426.8,633.8 427.5,633.94 428.2,633.94 428.9,633.89 429.6,633.82 430.3,633.59 431,633.6 431.7,633.69 432.4,633.76 433.1,633.62 433.8,633.63 434.5,633.62 435.2,633.49 435.9,633.66 436.6,633.67 437.3,633.74 438,633.55 438.7,633.45 439.4,633.09 440.1,633.24 440.8,633.02 441.5,633.23 442.2,633.18 442.9,633.57 443.6,633.47 444.3,633.51 445,633.4 445.7,633.61 446.4,633.31 447.1,633.26 447.8,633.35 448.5,633.44 449.2,633.37 449.9,633.7 450.6,633.79 451.3,633.9 452,633.81 452.7,633.93 453.4,633.82 454.1,633.93 454.8,633.92 455.5,633.84 456.2,633.61 456.9,633.53 457.6,633.43 458.3,633.53 459,633.85 459.7,633.9 460.4,633.81 461.1,633.7 461.8,633.66 462.5,633.26 463.2,633.41 463.9,633.76 464.6,633.83 465.3,633.76 466,633.98 466.7,633.82 467.4,633.75 468.1,633.78 468.8,633.89 469.5,633.91 470.2,633.9 470.9,633.71 471.6,633.63 472.3,633.62 473,633.58 473.7,633.84 474.4,634.03 475.1,634.01 475.8,633.93 476.5,633.96 477.2,633.93 477.9,633.82 478.6,633.89 479.3,633.87 480,633.85 480.7,633.68 481.4,633.8 482.1,633.82 482.8,633.75 483.5,633.75 484.2,633.91 484.9,633.6 485.6,633.36 486.3,633.26 487,632.64 487.7,632.02 488.4,631.36 489.1,630.86 489.8,630.33 490.5,630.18 491.2,630.2 491.9,630.66 492.6,631.28 493.3,631.78 494,632.35 494.7,632.9 495.4,633.29 496.1,633.47 496.8,633.59 497.5,633.66 498.2,633.77 498.9,633.79 499.6,633.71 500.3,633.9 501,633.73 501.7,633.5 502.4,633.58 503.1,633.47 503.8,633.13 504.5,633.55 505.2,633.79 505.9,633.78 506.6,633.88 507.3,633.9 508,633.87 508.7,633.85 509.4,633.88 510.1,633.71 510.8,633.9 511.5,633.67 512.2,633.49 512.9,633.5 513.6,633.81 514.3,633.68 515,633.84 515.7,633.97 516.4,633.96 517.1,633.74 517.8,633.56 518.5,633.45 519.2,633.3 519.9,633.06 520.6,633.49 521.3,633.58 522,633.58 522.7,633.67 523.4,633.82 524.1,633.71 524.8,633.69 525.5,633.72 526.2,633.69 526.9,633.52 527.6,633.49 528.3,633.47 529,633.51 529.7,633.37 530.4,633.39 531.1,633.32 531.8,633.23 532.5,633.17 533.2,633.29 533.9,633.36 534.6,633.29 535.3,633.28 536,633.54 536.7,633.66 537.4,633.56 538.1,633.46 538.8,633.55 539.5,633.38 540.2,632.95 540.9,632.95 541.6,633.38 542.3,633.39 543,633.27 543.7,633.57 544.4,633.6 545.1,633.24 545.8,633.33 546.5,633.5 547.2,633.37 547.9,633.37 548.6,633.48 549.3,633.26 550,633.23 550.7,633.35 551.4,633.62 552.1,633.6 552.8,633.75 553.5,633.71 554.2,633.46 554.9,633.12 555.6,633.1 556.3,633.06 557,633.24 557.7,633.46 558.4,633.67 559.1,633.76 559.8,633.64 560.5,633.52 561.2,633.4 561.9,633.27 562.6,633.29 563.3,633.34 564,633.3 564.7,633.5 565.4,633.57 566.1,633.48 566.8,633.48 567.5,633.69 568.2,633.78 568.9,633.71 569.6,633.83 570.3,633.99 571,633.8 571.7,633.64 572.4,633.79 573.1,633.57 573.8,633.46 574.5,633.77 575.2,633.92 575.9,633.92 576.6,633.93 577.3,633.88 578,633.67 578.7,633.42 579.4,633.15 580.1,633.41 580.8,633.52 581.5,633.63 582.2,633.61 582.9,633.74 583.6,633.59 584.3,633.66 585,633.65 585.7,633.72 586.4,633.8 587.1,633.96 587.8,633.87 588.5,633.94 589.2,633.95 589.9,633.74 590.6,633.55 591.3,633.54 592,633.36 592.7,633.44 593.4,633.72 594.1,633.83 594.8,633.95 595.5,634.02 596.2,633.98 596.9,633.9 597.6,633.77 598.3,633.64 599,633.67 599.7,633.71 600.4,633.77 601.1,633.93 601.8,633.82 602.5,633.79 603.2,633.69 603.9,633.75 604.6,633.64 605.3,633.87 606,633.65 606.7,633.66 607.4,633.4 608.1,633.16 608.8,633.11 609.5,633.35 610.2,633.42 610.9,633.47 611.6,633.53 612.3,633.43 613,633.45 613.7,633.3 614.4,633.52 615.1,633.65 615.8,633.78 616.5,633.71 617.2,633.84 617.9,633.89 618.6,633.83 619.3,633.56 620,633.61 620.7,633.74 621.4,633.39 622.1,633.57 622.8,633.69 623.5,633.82 624.2,633.64 624.9,633.69 625.6,633.7 626.3,633.79 627,633.45 627.7,633.66 628.4,633.76 629.1,633.84 629.8,633.84 630.5,633.88 631.2,633.87 631.9,633.85 632.6,633.67 633.3,633.5 634,633.5 634.7,633.21 635.4,633.17 636.1,633.01 636.8,633.07 637.5,633.34 638.2,633.62 638.9,633.62 639.6,633.76 640.3,633.69 641,633.73 641.7,633.64 642.4,633.64 643.1,633.68 643.8,633.85 644.5,633.76 645.2,633.74 645.9,633.68 646.6,633.46 647.3,633.5 648,633.57 648.7,633.68 649.4,633.8 650.1,633.8 650.8,633.76 651.5,633.69 651.9,633.42 651.9,634.5" fill="#e4bee4" stroke="none" stroke-width="0" />
<polyline points="412.1,633.92 412.8,633.97 413.5,633.83 414.2,633.76 414.9,633.82 415.6,633.89 416.3,633.89 417,634.04 417.7,634.04 418.4,633.97 419.1,634.01 419.8,633.87 420.5,633.79 421.2,633.66 421.9,633.7 422.6,633.73 423.3,633.85 424,633.74 424.7,633.8 425.4,633.71 426.1,633.7 426.8,633.8 427.5,633.94 428.2,633.94 428.9,633.89 429.6,633.82 430.3,633.59 431,633.6 431.7,633.69 432.4,633.76 433.1,633.62 433.8,633.63 434.5,633.62 435.2,633.49 435.9,633.66 436.6,633.67 437.3,633.74 438,633.55 438.7,633.45 439.4,633.09 440.1,633.24 440.8,633.02 441.5,633.23 442.2,633.18 442.9,633.57 443.6,633.47 444.3,633.51 445,633.4 445.7,633.61 446.4,633.31 447.1,633.26 447.8,633.35 448.5,633.44 449.2,633.37 449.9,633.7 450.6,633.79 451.3,633.9 452,633.81 452.7,633.93 453.4,633.82 454.1,633.93 454.8,633.92 455.5,633.84 456.2,633.61 456.9,633.53 457.6,633.43 458.3,633.53 459,633.85 459.7,633.9 460.4,633.81 461.1,633.7 461.8,633.66 462.5,633.26 463.2,633.41 463.9,633.76 464.6,633.83 465.3,633.76 466,633.98 466.7,633.82 467.4,633.75 468.1,633.78 468.8,633.89 469.5,633.91 470.2,633.9 470.9,633.71 471.6,633.63 472.3,633.62 473,633.58 473.7,633.84 474.4,634.03 475.1,634.01 475.8,633.93 476.5,633.96 477.2,633.93 477.9,633.82 478.6,633.89 479.3,633.87 480,633.85 480.7,633.68 481.4,633.8 482.1,633.82 482.8,633.75 483.5,633.75 484.2,633.91 484.9,633.6 485.6,633.36 486.3,633.26 487,632.64 487.7,632.02 488.4,631.36 489.1,630.86 489.8,630.33 490.5,630.18 491.2,630.2 491.9,630.66 492.6,631.28 493.3,631.78 494,632.35 494.7,632.9 495.4,633.29 496.1,633.47 496.8,633.59 497.5,633.66 498.2,633.77 498.9,633.79 499.6,633.71 500.3,633.9 501,633.73 501.7,633.5 502.4,633.58 503.1,633.47 503.8,633.13 504.5,633.55 505.2,633.79 505.9,633.78 506.6,633.88 507.3,633.9 508,633.87 508.7,633.85 509.4,633.88 510.1,633.71 510.8,633.9 511.5,633.67 512.2,633.49 512.9,633.5 513.6,633.81 514.3,633.68 515,633.84 515.7,633.97 516.4,633.96 517.1,633.74 517.8,633.56 518.5,633.45 519.2,633.3 519.9,633.06 520.6,633.49 521.3,633.58 522,633.58 522.7,633.67 523.4,633.82 524.1,633.71 524.8,633.69 525.5,633.72 526.2,633.69 526.9,633.52 527.6,633.49 528.3,633.47 529,633.51 529.7,633.37 530.4,633.39 531.1,633.32 531.8,633.23 532.5,633.17 533.2,633.29 533.9,633.36 534.6,633.29 535.3,633.28 536,633.54 536.7,633.66 537.4,633.56 538.1,633.46 538.8,633.55 539.5,633.38 540.2,632.95 540.9,632.95 541.6,633.38 542.3,633.39 543,633.27 543.7,633.57 544.4,633.6 545.1,633.24 545.8,633.33 546.5,633.5 547.2,633.37 547.9,633.37 548.6,633.48 549.3,633.26 550,633.23 550.7,633.35 551.4,633.62 552.1,633.6 552.8,633.75 553.5,633.71 554.2,633.46 554.9,633.12 555.6,633.1 556.3,633.06 557,633.24 557.7,633.46 558.4,633.67 559.1,633.76 559.8,633.64 560.5,633.52 561.2,633.4 561.9,633.27 562.6,633.29 563.3,633.34 564,633.3 564.7,633.5 565.4,633.57 566.1,633.48 566.8,633.48 567.5,633.69 568.2,633.78 568.9,633.71 569.6,633.83 570.3,633.99 571,633.8 571.7,633.64 572.4,633.79 573.1,633.57 573.8,633.46 574.5,633.77 575.2,633.92 575.9,633.92 576.6,633.93 577.3,633.88 578,633.67 578.7,633.42 579.4,633.15 580.1,633.41 580.8,633.52 581.5,633.63 582.2,633.61 582.9,633.74 583.6,633.59 584.3,633.66 585,633.65 585.7,633.72 586.4,633.8 587.1,633.96 587.8,633.87 588.5,633.94 589.2,633.95 589.9,633.74 590.6,633.55 591.3,633.54 592,633.36 592.7,633.44 593.4,633.72 594.1,633.83 594.8,633.95 595.5,634.02 596.2,633.98 596.9,633.9 597.6,633.77 598.3,633.64 599,633.67 599.7,633.71 600.4,633.77 601.1,633.93 601.8,633.82 602.5,633.79 603.2,633.69 603.9,633.75 604.6,633.64 605.3,633.87 606,633.65 606.7,633.66 607.4,633.4 608.1,633.16 608.8,633.11 609.5,633.35 610.2,633.42 610.9,633.47 611.6,633.53 612.3,633.43 613,633.45 613.7,633.3 614.4,633.52 615.1,633.65 615.8,633.78 616.5,633.71 617.2,633.84 617.9,633.89 618.6,633.83 619.3,633.56 620,633.61 620.7,633.74 621.4,633.39 622.1,633.57 622.8,633.69 623.5,633.82 624.2,633.64 624.9,633.69 625.6,633.7 626.3,633.79 627,633.45 627.7,633.66 628.4,633.76 629.1,633.84 629.8,633.84 630.5,633.88 631.2,633.87 631.9,633.85 632.6,633.67 633.3,633.5 634,633.5 634.7,633.21 635.4,633.17 636.1,633.01 636.8,633.07 637.5,633.34 638.2,633.62 638.9,633.62 639.6,633.76 640.3,633.69 641,633.73 641.7,633.64 642.4,633.64 643.1,633.68 643.8,633.85 644.5,633.76 645.2,633.74 645.9,633.68 646.6,633.46 647.3,633.5 648,633.57 648.7,633.68 649.4,633.8 650.1,633.8 650.8,633.76 651.5,633.69 651.9,633.42" fill="none" stroke="#d2a0d2" stroke-width="1.25" stroke-linejoin="round"/>
<text x="103.6" y="626.8" font-size="11" text-anchor="end" fill="#231f20" stroke="#231f20" stroke-width="0.12">Ery diff. D0</text>
<polygon points="118.1,660.5 118.1,659.21 118.8,658.93 119.5,659.06 120.2,659.01 120.9,659 121.6,659.44 122.3,659.74 123,659.64 123.7,659.82 124.4,659.5 125.1,659.57 125.8,659.62 126.5,659.85 127.2,659.64 127.9,659.87 128.6,659.72 129.3,659.67 130,659.4 130.7,659.59 131.4,659.66 132.1,659.68 132.8,659.68 133.5,659.88 134.2,659.73 134.9,659.52 135.6,659.4 136.3,659.04 137,658.85 137.7,659.15 138.4,659.3 139.1,659.45 139.8,659.56 140.5,659.73 141.2,659.69 141.9,659.64 142.6,659.67 143.3,659.9 144,659.65 144.7,659.82 145.4,659.81 146.1,659.88 146.8,659.87 147.5,660.01 148.2,659.99 148.9,660.06 149.6,659.97 150.3,659.75 151,659.68 151.7,659.4 152.4,659.21 153.1,659.32 153.8,659.23 154.5,659.26 155.2,659.13 155.9,658.99 156.6,658.86 157.3,659.41 158,659.52 158.7,659.86 159.4,659.96 160.1,659.89 160.8,659.55 161.5,659.13 162.2,659.07 162.9,658.82 163.6,658.94 164.3,658.99 165,659.02 165.7,659 166.4,659.33 167.1,659.32 167.8,659.36 168.5,659.31 169.2,659.12 169.9,658.61 170.6,659.08 171.3,658.93 172,658.94 172.7,659.01 173.4,659.5 174.1,659.27 174.8,659.43 175.5,659.68 176.2,659.79 176.9,659.71 177.6,659.59 178.3,659.83 179,659.59 179.7,659.5 180.4,659.54 181.1,659.83 181.8,659.45 182.5,659.47 183.2,659.43 183.9,659.49 184.6,659.18 185.3,659.24 186,659.69 186.7,659.55 187.4,659.12 188.1,659.24 188.8,659.42 189.5,658.93 190.2,659.19 190.9,659.52 191.6,659.42 192.3,659.42 193,659.56 193.7,659.51 194.4,659.14 195.1,659.36 195.8,659.29 196.5,659.06 197.2,659.02 197.9,659.53 198.6,659.57 199.3,659.82 200,660.02 200.7,660.06 201.4,660.01 202.1,659.98 202.8,659.88 203.5,659.7 204.2,659.44 204.9,659.24 205.6,659.25 206.3,659.11 207,659.19 207.7,659.5 208.4,659.57 209.1,659.59 209.8,659.58 210.5,659.49 211.2,659.43 211.9,659.49 212.6,659.42 213.3,659.61 214,659.87 214.7,659.93 215.4,659.74 216.1,659.63 216.8,659.56 217.5,659.22 218.2,659.08 218.9,659.26 219.6,659.13 220.3,658.9 221,659.04 221.7,658.51 222.4,658.33 223.1,659.02 223.8,659.25 224.5,659.26 225.2,659.63 225.9,659.75 226.6,659.72 227.3,659.57 228,659.36 228.7,659.48 229.4,659.44 230.1,659.37 230.8,659.43 231.5,659.52 232.2,658.97 232.9,658.9 233.6,658.81 234.3,658.56 235,658.34 235.7,657.49 236.4,656.95 237.1,657.13 237.8,657.53 238.5,656.29 239.2,653.18 239.9,649.36 240.6,646.64 241.3,646.89 242,649.96 242.7,653.98 243.4,656.98 244.1,658.54 244.8,658.85 245.5,658.87 246.2,659.35 246.9,659.57 247.6,659.64 248.3,659.72 249,659.5 249.7,659.24 250.4,659.22 251.1,659.17 251.8,659.03 252.5,659.39 253.2,659.14 253.9,658.66 254.6,658.67 255.3,659 256,659.14 256.7,659.59 257.4,659.91 258.1,659.9 258.8,659.83 259.5,659.46 260.2,659.17 260.9,658.48 261.6,658.65 262.3,659.07 263,659.59 263.7,659.73 264.4,659.89 265.1,659.68 265.8,659.61 266.5,659.52 267.2,659.29 267.9,659.37 268.6,659.59 269.3,659.65 270,659.34 270.7,659.23 271.4,658.99 272.1,658.71 272.8,658.54 273.5,659.06 274.2,659.26 274.9,658.89 275.6,658.6 276.3,657.91 277,656.94 277.7,656.08 278.4,655.58 279.1,655.19 279.8,655.05 280.5,654.99 281.2,654.46 281.9,653.84 282.6,652.72 283.3,652.41 284,653.01 284.7,654.75 285.4,655.74 286.1,656.34 286.8,655.54 287.5,654.6 288.2,653.82 288.9,653.84 289.6,652.98 290.3,650.52 291,646.5 291.7,642.94 292.4,641.6 293.1,643.42 293.8,648.37 294.5,652.91 295.2,656.17 295.9,657.71 296.6,658.28 297.3,657.88 298,658.16 298.7,657.81 299.4,658.39 300.1,658.84 300.8,659.41 301.5,659.63 302.2,659.78 302.9,659.6 303.6,659.2 304.3,659.11 305,658.72 305.7,658.86 306.4,658.94 307.1,659.35 307.8,658.84 308.5,658.81 309.2,658.89 309.9,659.19 310.6,659.11 311.3,659.24 312,659.36 312.7,659.47 313.4,659.1 314.1,659.08 314.8,659.02 315.5,659.31 316.2,659.29 316.9,659.4 317.6,659.61 318.3,659.68 319,659.57 319.7,659.53 320.4,659.57 321.1,659.51 321.8,659.38 322.5,659.4 323.2,659.64 323.9,659.72 324.6,659.75 325.3,660 326,659.86 326.7,659.87 327.4,659.84 328.1,659.5 328.8,659.31 329.5,659.28 330.2,658.79 330.9,659.05 331.6,659.52 332.3,659.35 333,659.32 333.7,659.3 334.4,658.95 335.1,658.63 335.8,658.49 336.5,658.6 337.2,658.67 337.9,658.51 338.6,658.86 339.3,659.01 340,659.11 340.7,659.54 341.4,659.81 342.1,659.54 342.8,659.64 343.5,659.65 344.2,659.52 344.9,659.35 345.6,659.26 346.3,658.97 347,658.97 347.7,658.65 348.4,659 349.1,659.44 349.8,659.65 350.5,659.52 351.2,659.78 351.9,659.76 352.6,659.61 353.3,659.72 354,659.94 354.7,659.93 355.4,659.85 356.1,659.75 356.8,659.8 357.5,659.52 358.2,659.56 358.9,659.64 359.6,659.82 359.9,659.72 359.9,660.5" fill="#daaad6" stroke="none" stroke-width="0" />
<polyline points="118.1,659.21 118.8,658.93 119.5,659.06 120.2,659.01 120.9,659 121.6,659.44 122.3,659.74 123,659.64 123.7,659.82 124.4,659.5 125.1,659.57 125.8,659.62 126.5,659.85 127.2,659.64 127.9,659.87 128.6,659.72 129.3,659.67 130,659.4 130.7,659.59 131.4,659.66 132.1,659.68 132.8,659.68 133.5,659.88 134.2,659.73 134.9,659.52 135.6,659.4 136.3,659.04 137,658.85 137.7,659.15 138.4,659.3 139.1,659.45 139.8,659.56 140.5,659.73 141.2,659.69 141.9,659.64 142.6,659.67 143.3,659.9 144,659.65 144.7,659.82 145.4,659.81 146.1,659.88 146.8,659.87 147.5,660.01 148.2,659.99 148.9,660.06 149.6,659.97 150.3,659.75 151,659.68 151.7,659.4 152.4,659.21 153.1,659.32 153.8,659.23 154.5,659.26 155.2,659.13 155.9,658.99 156.6,658.86 157.3,659.41 158,659.52 158.7,659.86 159.4,659.96 160.1,659.89 160.8,659.55 161.5,659.13 162.2,659.07 162.9,658.82 163.6,658.94 164.3,658.99 165,659.02 165.7,659 166.4,659.33 167.1,659.32 167.8,659.36 168.5,659.31 169.2,659.12 169.9,658.61 170.6,659.08 171.3,658.93 172,658.94 172.7,659.01 173.4,659.5 174.1,659.27 174.8,659.43 175.5,659.68 176.2,659.79 176.9,659.71 177.6,659.59 178.3,659.83 179,659.59 179.7,659.5 180.4,659.54 181.1,659.83 181.8,659.45 182.5,659.47 183.2,659.43 183.9,659.49 184.6,659.18 185.3,659.24 186,659.69 186.7,659.55 187.4,659.12 188.1,659.24 188.8,659.42 189.5,658.93 190.2,659.19 190.9,659.52 191.6,659.42 192.3,659.42 193,659.56 193.7,659.51 194.4,659.14 195.1,659.36 195.8,659.29 196.5,659.06 197.2,659.02 197.9,659.53 198.6,659.57 199.3,659.82 200,660.02 200.7,660.06 201.4,660.01 202.1,659.98 202.8,659.88 203.5,659.7 204.2,659.44 204.9,659.24 205.6,659.25 206.3,659.11 207,659.19 207.7,659.5 208.4,659.57 209.1,659.59 209.8,659.58 210.5,659.49 211.2,659.43 211.9,659.49 212.6,659.42 213.3,659.61 214,659.87 214.7,659.93 215.4,659.74 216.1,659.63 216.8,659.56 217.5,659.22 218.2,659.08 218.9,659.26 219.6,659.13 220.3,658.9 221,659.04 221.7,658.51 222.4,658.33 223.1,659.02 223.8,659.25 224.5,659.26 225.2,659.63 225.9,659.75 226.6,659.72 227.3,659.57 228,659.36 228.7,659.48 229.4,659.44 230.1,659.37 230.8,659.43 231.5,659.52 232.2,658.97 232.9,658.9 233.6,658.81 234.3,658.56 235,658.34 235.7,657.49 236.4,656.95 237.1,657.13 237.8,657.53 238.5,656.29 239.2,653.18 239.9,649.36 240.6,646.64 241.3,646.89 242,649.96 242.7,653.98 243.4,656.98 244.1,658.54 244.8,658.85 245.5,658.87 246.2,659.35 246.9,659.57 247.6,659.64 248.3,659.72 249,659.5 249.7,659.24 250.4,659.22 251.1,659.17 251.8,659.03 252.5,659.39 253.2,659.14 253.9,658.66 254.6,658.67 255.3,659 256,659.14 256.7,659.59 257.4,659.91 258.1,659.9 258.8,659.83 259.5,659.46 260.2,659.17 260.9,658.48 261.6,658.65 262.3,659.07 263,659.59 263.7,659.73 264.4,659.89 265.1,659.68 265.8,659.61 266.5,659.52 267.2,659.29 267.9,659.37 268.6,659.59 269.3,659.65 270,659.34 270.7,659.23 271.4,658.99 272.1,658.71 272.8,658.54 273.5,659.06 274.2,659.26 274.9,658.89 275.6,658.6 276.3,657.91 277,656.94 277.7,656.08 278.4,655.58 279.1,655.19 279.8,655.05 280.5,654.99 281.2,654.46 281.9,653.84 282.6,652.72 283.3,652.41 284,653.01 284.7,654.75 285.4,655.74 286.1,656.34 286.8,655.54 287.5,654.6 288.2,653.82 288.9,653.84 289.6,652.98 290.3,650.52 291,646.5 291.7,642.94 292.4,641.6 293.1,643.42 293.8,648.37 294.5,652.91 295.2,656.17 295.9,657.71 296.6,658.28 297.3,657.88 298,658.16 298.7,657.81 299.4,658.39 300.1,658.84 300.8,659.41 301.5,659.63 302.2,659.78 302.9,659.6 303.6,659.2 304.3,659.11 305,658.72 305.7,658.86 306.4,658.94 307.1,659.35 307.8,658.84 308.5,658.81 309.2,658.89 309.9,659.19 310.6,659.11 311.3,659.24 312,659.36 312.7,659.47 313.4,659.1 314.1,659.08 314.8,659.02 315.5,659.31 316.2,659.29 316.9,659.4 317.6,659.61 318.3,659.68 319,659.57 319.7,659.53 320.4,659.57 321.1,659.51 321.8,659.38 322.5,659.4 323.2,659.64 323.9,659.72 324.6,659.75 325.3,660 326,659.86 326.7,659.87 327.4,659.84 328.1,659.5 328.8,659.31 329.5,659.28 330.2,658.79 330.9,659.05 331.6,659.52 332.3,659.35 333,659.32 333.7,659.3 334.4,658.95 335.1,658.63 335.8,658.49 336.5,658.6 337.2,658.67 337.9,658.51 338.6,658.86 339.3,659.01 340,659.11 340.7,659.54 341.4,659.81 342.1,659.54 342.8,659.64 343.5,659.65 344.2,659.52 344.9,659.35 345.6,659.26 346.3,658.97 347,658.97 347.7,658.65 348.4,659 349.1,659.44 349.8,659.65 350.5,659.52 351.2,659.78 351.9,659.76 352.6,659.61 353.3,659.72 354,659.94 354.7,659.93 355.4,659.85 356.1,659.75 356.8,659.8 357.5,659.52 358.2,659.56 358.9,659.64 359.6,659.82 359.9,659.72" fill="none" stroke="#c88cc3" stroke-width="1.25" stroke-linejoin="round"/>
<polygon points="412.1,660.5 412.1,660.05 412.8,660.02 413.5,659.88 414.2,659.65 414.9,659.59 415.6,659.18 416.3,659.07 417,659 417.7,659.05 418.4,659.26 419.1,659.37 419.8,659.35 420.5,659.53 421.2,659.71 421.9,659.45 422.6,659.63 423.3,659.7 424,659.82 424.7,659.8 425.4,659.95 426.1,659.78 426.8,659.63 427.5,659.72 428.2,659.59 428.9,659.63 429.6,659.68 430.3,659.78 431,659.57 431.7,659.48 432.4,659.07 433.1,659.04 433.8,659.11 434.5,659.38 435.2,659.47 435.9,659.59 436.6,659.49 437.3,659.16 438,659.1 438.7,659.21 439.4,659.1 440.1,659.38 440.8,659.33 441.5,659.43 442.2,659.43 442.9,659.36 443.6,659.03 444.3,659.32 445,659.17 445.7,659.06 446.4,659.38 447.1,659.51 447.8,659.59 448.5,659.62 449.2,659.62 449.9,659.39 450.6,659.5 451.3,659.37 452,659.14 452.7,659.18 453.4,659.6 454.1,659.65 454.8,659.52 455.5,659.55 456.2,659.41 456.9,658.81 457.6,659.05 458.3,659.14 459,659.15 459.7,659.58 460.4,659.87 461.1,659.71 461.8,659.81 462.5,659.66 463.2,659.49 463.9,659.17 464.6,659.22 465.3,658.9 466,658.83 466.7,658.96 467.4,658.94 468.1,659.14 468.8,659.49 469.5,659.53 470.2,659.39 470.9,659.76 471.6,659.8 472.3,659.53 473,659.54 473.7,659.25 474.4,659.05 475.1,658.84 475.8,659.05 476.5,659.52 477.2,659.69 477.9,659.76 478.6,659.8 479.3,659.78 480,659.71 480.7,659.53 481.4,659.25 482.1,658.98 482.8,659.06 483.5,659.05 484.2,659.03 484.9,659.3 485.6,658.88 486.3,658.4 487,657.21 487.7,656.05 488.4,654.22 489.1,653.23 489.8,652.67 490.5,653.02 491.2,654.34 491.9,655.78 492.6,657 493.3,658.28 494,659.19 494.7,659.26 495.4,659.52 496.1,659.8 496.8,659.61 497.5,659.39 498.2,659.46 498.9,659.49 499.6,659.02 500.3,659.34 501,659.14 501.7,659.14 502.4,659.2 503.1,659.64 503.8,659.58 504.5,659.66 505.2,659.68 505.9,659.61 506.6,659.62 507.3,659.64 508,659.73 508.7,659.92 509.4,659.98 510.1,659.99 510.8,659.96 511.5,659.95 512.2,659.72 512.9,659.82 513.6,659.72 514.3,659.68 515,659.81 515.7,659.93 516.4,659.93 517.1,659.96 517.8,659.98 518.5,659.79 519.2,659.83 519.9,659.54 520.6,659.23 521.3,658.95 522,659.22 522.7,659.21 523.4,659.31 524.1,659.53 524.8,659.7 525.5,659.73 526.2,659.82 526.9,659.79 527.6,659.76 528.3,659.77 529,659.6 529.7,659.18 530.4,658.48 531.1,657.43 531.8,656.06 532.5,655.6 533.2,655.49 533.9,656.11 534.6,657.34 535.3,658.52 536,658.89 536.7,659.42 537.4,659.69 538.1,659.43 538.8,659.17 539.5,658.96 540.2,659.03 540.9,658.88 541.6,658.99 542.3,659.36 543,659.69 543.7,659.37 544.4,659.53 545.1,659.44 545.8,659.44 546.5,659.07 547.2,659.06 547.9,659.03 548.6,659.16 549.3,658.76 550,658.86 550.7,659.15 551.4,659.31 552.1,659.38 552.8,659.45 553.5,659.51 554.2,659.53 554.9,659.24 555.6,659.17 556.3,659.39 557,659.34 557.7,659.07 558.4,658.86 559.1,659.31 559.8,658.95 560.5,658.93 561.2,659.28 561.9,659.68 562.6,659.52 563.3,659.67 564,659.73 564.7,659.61 565.4,659.25 566.1,659.15 566.8,659.16 567.5,659.09 568.2,658.79 568.9,659.26 569.6,659.5 570.3,659.56 571,659.5 571.7,659.47 572.4,659.26 573.1,659.22 573.8,659.12 574.5,659.1 575.2,659.19 575.9,659.41 576.6,659.46 577.3,659.55 578,659.8 578.7,659.94 579.4,659.75 580.1,659.42 580.8,659.36 581.5,658.93 582.2,658.65 582.9,659.07 583.6,659.3 584.3,659.45 585,659.41 585.7,659.56 586.4,659.5 587.1,659.25 587.8,658.81 588.5,659.23 589.2,659.31 589.9,659.28 590.6,659.69 591.3,659.81 592,659.91 592.7,659.67 593.4,659.43 594.1,659.23 594.8,659.27 595.5,658.72 596.2,659.31 596.9,659.38 597.6,659.1 598.3,659.15 599,659.12 599.7,659.04 600.4,659.44 601.1,659.73 601.8,659.52 602.5,659.75 603.2,659.72 603.9,659.69 604.6,659.62 605.3,659.9 606,659.85 606.7,659.94 607.4,659.93 608.1,660.01 608.8,659.83 609.5,659.73 610.2,659.66 610.9,659.57 611.6,659.47 612.3,659.67 613,659.78 613.7,659.56 614.4,659.4 615.1,659.5 615.8,659.45 616.5,659.68 617.2,659.79 617.9,659.96 618.6,659.87 619.3,659.99 620,659.8 620.7,659.8 621.4,659.49 622.1,659.63 622.8,659.58 623.5,659.67 624.2,659.63 624.9,659.85 625.6,659.59 626.3,659.34 627,658.99 627.7,658.46 628.4,657.73 629.1,657.79 629.8,657.61 630.5,657.9 631.2,658.59 631.9,658.9 632.6,659.15 633.3,659.52 634,659.61 634.7,659.62 635.4,659.52 636.1,659.19 636.8,659.23 637.5,659.01 638.2,659.04 638.9,659.23 639.6,659.23 640.3,659.14 641,659.26 641.7,659.07 642.4,659.32 643.1,659.37 643.8,659.27 644.5,659.28 645.2,659.02 645.9,658.88 646.6,658.74 647.3,658.56 648,658.6 648.7,658.87 649.4,658.59 650.1,659.2 650.8,659.53 651.5,659.67 651.9,659.78 651.9,660.5" fill="#daaad6" stroke="none" stroke-width="0" />
<polyline points="412.1,660.05 412.8,660.02 413.5,659.88 414.2,659.65 414.9,659.59 415.6,659.18 416.3,659.07 417,659 417.7,659.05 418.4,659.26 419.1,659.37 419.8,659.35 420.5,659.53 421.2,659.71 421.9,659.45 422.6,659.63 423.3,659.7 424,659.82 424.7,659.8 425.4,659.95 426.1,659.78 426.8,659.63 427.5,659.72 428.2,659.59 428.9,659.63 429.6,659.68 430.3,659.78 431,659.57 431.7,659.48 432.4,659.07 433.1,659.04 433.8,659.11 434.5,659.38 435.2,659.47 435.9,659.59 436.6,659.49 437.3,659.16 438,659.1 438.7,659.21 439.4,659.1 440.1,659.38 440.8,659.33 441.5,659.43 442.2,659.43 442.9,659.36 443.6,659.03 444.3,659.32 445,659.17 445.7,659.06 446.4,659.38 447.1,659.51 447.8,659.59 448.5,659.62 449.2,659.62 449.9,659.39 450.6,659.5 451.3,659.37 452,659.14 452.7,659.18 453.4,659.6 454.1,659.65 454.8,659.52 455.5,659.55 456.2,659.41 456.9,658.81 457.6,659.05 458.3,659.14 459,659.15 459.7,659.58 460.4,659.87 461.1,659.71 461.8,659.81 462.5,659.66 463.2,659.49 463.9,659.17 464.6,659.22 465.3,658.9 466,658.83 466.7,658.96 467.4,658.94 468.1,659.14 468.8,659.49 469.5,659.53 470.2,659.39 470.9,659.76 471.6,659.8 472.3,659.53 473,659.54 473.7,659.25 474.4,659.05 475.1,658.84 475.8,659.05 476.5,659.52 477.2,659.69 477.9,659.76 478.6,659.8 479.3,659.78 480,659.71 480.7,659.53 481.4,659.25 482.1,658.98 482.8,659.06 483.5,659.05 484.2,659.03 484.9,659.3 485.6,658.88 486.3,658.4 487,657.21 487.7,656.05 488.4,654.22 489.1,653.23 489.8,652.67 490.5,653.02 491.2,654.34 491.9,655.78 492.6,657 493.3,658.28 494,659.19 494.7,659.26 495.4,659.52 496.1,659.8 496.8,659.61 497.5,659.39 498.2,659.46 498.9,659.49 499.6,659.02 500.3,659.34 501,659.14 501.7,659.14 502.4,659.2 503.1,659.64 503.8,659.58 504.5,659.66 505.2,659.68 505.9,659.61 506.6,659.62 507.3,659.64 508,659.73 508.7,659.92 509.4,659.98 510.1,659.99 510.8,659.96 511.5,659.95 512.2,659.72 512.9,659.82 513.6,659.72 514.3,659.68 515,659.81 515.7,659.93 516.4,659.93 517.1,659.96 517.8,659.98 518.5,659.79 519.2,659.83 519.9,659.54 520.6,659.23 521.3,658.95 522,659.22 522.7,659.21 523.4,659.31 524.1,659.53 524.8,659.7 525.5,659.73 526.2,659.82 526.9,659.79 527.6,659.76 528.3,659.77 529,659.6 529.7,659.18 530.4,658.48 531.1,657.43 531.8,656.06 532.5,655.6 533.2,655.49 533.9,656.11 534.6,657.34 535.3,658.52 536,658.89 536.7,659.42 537.4,659.69 538.1,659.43 538.8,659.17 539.5,658.96 540.2,659.03 540.9,658.88 541.6,658.99 542.3,659.36 543,659.69 543.7,659.37 544.4,659.53 545.1,659.44 545.8,659.44 546.5,659.07 547.2,659.06 547.9,659.03 548.6,659.16 549.3,658.76 550,658.86 550.7,659.15 551.4,659.31 552.1,659.38 552.8,659.45 553.5,659.51 554.2,659.53 554.9,659.24 555.6,659.17 556.3,659.39 557,659.34 557.7,659.07 558.4,658.86 559.1,659.31 559.8,658.95 560.5,658.93 561.2,659.28 561.9,659.68 562.6,659.52 563.3,659.67 564,659.73 564.7,659.61 565.4,659.25 566.1,659.15 566.8,659.16 567.5,659.09 568.2,658.79 568.9,659.26 569.6,659.5 570.3,659.56 571,659.5 571.7,659.47 572.4,659.26 573.1,659.22 573.8,659.12 574.5,659.1 575.2,659.19 575.9,659.41 576.6,659.46 577.3,659.55 578,659.8 578.7,659.94 579.4,659.75 580.1,659.42 580.8,659.36 581.5,658.93 582.2,658.65 582.9,659.07 583.6,659.3 584.3,659.45 585,659.41 585.7,659.56 586.4,659.5 587.1,659.25 587.8,658.81 588.5,659.23 589.2,659.31 589.9,659.28 590.6,659.69 591.3,659.81 592,659.91 592.7,659.67 593.4,659.43 594.1,659.23 594.8,659.27 595.5,658.72 596.2,659.31 596.9,659.38 597.6,659.1 598.3,659.15 599,659.12 599.7,659.04 600.4,659.44 601.1,659.73 601.8,659.52 602.5,659.75 603.2,659.72 603.9,659.69 604.6,659.62 605.3,659.9 606,659.85 606.7,659.94 607.4,659.93 608.1,660.01 608.8,659.83 609.5,659.73 610.2,659.66 610.9,659.57 611.6,659.47 612.3,659.67 613,659.78 613.7,659.56 614.4,659.4 615.1,659.5 615.8,659.45 616.5,659.68 617.2,659.79 617.9,659.96 618.6,659.87 619.3,659.99 620,659.8 620.7,659.8 621.4,659.49 622.1,659.63 622.8,659.58 623.5,659.67 624.2,659.63 624.9,659.85 625.6,659.59 626.3,659.34 627,658.99 627.7,658.46 628.4,657.73 629.1,657.79 629.8,657.61 630.5,657.9 631.2,658.59 631.9,658.9 632.6,659.15 633.3,659.52 634,659.61 634.7,659.62 635.4,659.52 636.1,659.19 636.8,659.23 637.5,659.01 638.2,659.04 638.9,659.23 639.6,659.23 640.3,659.14 641,659.26 641.7,659.07 642.4,659.32 643.1,659.37 643.8,659.27 644.5,659.28 645.2,659.02 645.9,658.88 646.6,658.74 647.3,658.56 648,658.6 648.7,658.87 649.4,658.59 650.1,659.2 650.8,659.53 651.5,659.67 651.9,659.78" fill="none" stroke="#c88cc3" stroke-width="1.25" stroke-linejoin="round"/>
<text x="103.6" y="652.8" font-size="11" text-anchor="end" fill="#231f20" stroke="#231f20" stroke-width="0.12">Ery diff. D3</text>
<polygon points="118.1,686.5 118.1,685.84 118.8,685.65 119.5,685.56 120.2,685.45 120.9,685.44 121.6,685.22 122.3,685.58 123,685.62 123.7,685.5 124.4,685.55 125.1,685.39 125.8,684.96 126.5,685.06 127.2,685.31 127.9,685.52 128.6,685.55 129.3,685.57 130,685.46 130.7,685.34 131.4,685.12 132.1,685.46 132.8,685.54 133.5,685.74 134.2,685.67 134.9,685.61 135.6,685.39 136.3,685.53 137,685.56 137.7,685.69 138.4,685.67 139.1,685.73 139.8,685.51 140.5,685.32 141.2,685.29 141.9,685.15 142.6,685.36 143.3,685.63 144,685.56 144.7,685.44 145.4,685.67 146.1,685.48 146.8,685.36 147.5,685.31 148.2,685.16 148.9,684.89 149.6,684.83 150.3,684.81 151,684.6 151.7,684.93 152.4,685.07 153.1,684.91 153.8,684.75 154.5,685.14 155.2,684.94 155.9,684.96 156.6,684.93 157.3,684.97 158,684.87 158.7,684.7 159.4,684.75 160.1,685.11 160.8,684.9 161.5,684.59 162.2,685.16 162.9,685.43 163.6,685.16 164.3,685.19 165,685.51 165.7,685.46 166.4,685.11 167.1,685.05 167.8,685.45 168.5,685.42 169.2,685.18 169.9,685.45 170.6,685.69 171.3,685.72 172,685.71 172.7,685.87 173.4,685.91 174.1,685.92 174.8,685.91 175.5,686 176.2,686.02 176.9,685.94 177.6,685.96 178.3,685.78 179,685.67 179.7,685.62 180.4,685.72 181.1,685.73 181.8,685.72 182.5,685.8 183.2,685.72 183.9,685.43 184.6,685.12 185.3,685.29 186,684.87 186.7,684.74 187.4,685.15 188.1,685.56 188.8,685.69 189.5,685.71 190.2,685.81 190.9,685.55 191.6,685.05 192.3,684.49 193,684.74 193.7,685.02 194.4,685.36 195.1,685.72 195.8,685.82 196.5,685.74 197.2,685.29 197.9,685.02 198.6,684.46 199.3,684.47 200,684.65 200.7,684.72 201.4,685.03 202.1,685.15 202.8,685.09 203.5,684.82 204.2,685.33 204.9,685.37 205.6,685.28 206.3,685.59 207,685.76 207.7,685.53 208.4,685.37 209.1,685.41 209.8,684.9 210.5,684.98 211.2,685.28 211.9,685 212.6,685.27 213.3,685.64 214,685.72 214.7,685.77 215.4,685.88 216.1,685.93 216.8,685.84 217.5,685.52 218.2,685.26 218.9,685.02 219.6,685.16 220.3,685.03 221,685.14 221.7,684.81 222.4,685.4 223.1,685.14 223.8,685.27 224.5,685.36 225.2,685.61 225.9,685.49 226.6,685.27 227.3,685.07 228,685 228.7,684.64 229.4,684.41 230.1,685.04 230.8,685.16 231.5,685.5 232.2,685.6 232.9,685.55 233.6,685.49 234.3,685.73 235,685.73 235.7,685.88 236.4,685.62 237.1,685.14 237.8,683.76 238.5,681.76 239.2,678.87 239.9,676.19 240.6,674.29 241.3,674.4 242,676.38 242.7,679.19 243.4,681.84 244.1,683.45 244.8,684.11 245.5,684.14 246.2,684.21 246.9,684.27 247.6,684.69 248.3,685.34 249,685.47 249.7,685.36 250.4,685.72 251.1,685.58 251.8,685.05 252.5,684.96 253.2,684.96 253.9,684.58 254.6,684.13 255.3,684.89 256,685.14 256.7,685.22 257.4,685.3 258.1,685.54 258.8,685.25 259.5,685.11 260.2,684.82 260.9,684.12 261.6,683.99 262.3,684.05 263,684.02 263.7,684.42 264.4,684.84 265.1,684.75 265.8,684.39 266.5,684.4 267.2,684.5 267.9,684.91 268.6,685.29 269.3,685.33 270,685.32 270.7,685.16 271.4,685.17 272.1,684.71 272.8,684.63 273.5,685 274.2,685.26 274.9,684.83 275.6,684.21 276.3,683.07 277,681.46 277.7,679.84 278.4,678.86 279.1,678.32 279.8,678.52 280.5,679.14 281.2,678.7 281.9,677.65 282.6,677 283.3,676.57 284,677.02 284.7,678.31 285.4,679.07 286.1,678.83 286.8,677.57 287.5,676.66 288.2,677.18 288.9,677.94 289.6,676.52 290.3,673.46 291,670.15 291.7,668.4 292.4,669.22 293.1,672.77 293.8,676.89 294.5,680.66 295.2,683.04 295.9,684.05 296.6,683.31 297.3,682.3 298,681.41 298.7,682.1 299.4,683.31 300.1,684.35 300.8,685.11 301.5,685.34 302.2,685.13 302.9,685.22 303.6,685.47 304.3,685.22 305,685.39 305.7,685.32 306.4,685.34 307.1,685.54 307.8,685.74 308.5,685.76 309.2,685.85 309.9,685.6 310.6,685.59 311.3,685.59 312,685.55 312.7,685.39 313.4,685.35 314.1,684.8 314.8,684.62 315.5,684.64 316.2,684.85 316.9,685.06 317.6,685.38 318.3,685.6 319,685.46 319.7,685.3 320.4,685.47 321.1,685.48 321.8,685.54 322.5,685.67 323.2,685.86 323.9,685.9 324.6,685.81 325.3,685.74 326,685.55 326.7,685.62 327.4,685.29 328.1,685.08 328.8,685.19 329.5,685.44 330.2,685 330.9,685.22 331.6,685.57 332.3,685.58 333,685.34 333.7,685.66 334.4,685.43 335.1,685.3 335.8,685.29 336.5,685.19 337.2,684.8 337.9,684.89 338.6,684.86 339.3,684.41 340,684.45 340.7,684.99 341.4,685.31 342.1,685.21 342.8,685.4 343.5,685.38 344.2,684.99 344.9,684.79 345.6,685.2 346.3,685.08 347,685.31 347.7,685.45 348.4,685.31 349.1,685.12 349.8,684.93 350.5,684.93 351.2,685.21 351.9,685.18 352.6,685.37 353.3,685.36 354,685.16 354.7,685.14 355.4,685.49 356.1,685.19 356.8,685.45 357.5,685.71 358.2,685.45 358.9,685.37 359.6,685.49 359.9,685.47 359.9,686.5" fill="#da8cc3" stroke="none" stroke-width="0" />
<polyline points="118.1,685.84 118.8,685.65 119.5,685.56 120.2,685.45 120.9,685.44 121.6,685.22 122.3,685.58 123,685.62 123.7,685.5 124.4,685.55 125.1,685.39 125.8,684.96 126.5,685.06 127.2,685.31 127.9,685.52 128.6,685.55 129.3,685.57 130,685.46 130.7,685.34 131.4,685.12 132.1,685.46 132.8,685.54 133.5,685.74 134.2,685.67 134.9,685.61 135.6,685.39 136.3,685.53 137,685.56 137.7,685.69 138.4,685.67 139.1,685.73 139.8,685.51 140.5,685.32 141.2,685.29 141.9,685.15 142.6,685.36 143.3,685.63 144,685.56 144.7,685.44 145.4,685.67 146.1,685.48 146.8,685.36 147.5,685.31 148.2,685.16 148.9,684.89 149.6,684.83 150.3,684.81 151,684.6 151.7,684.93 152.4,685.07 153.1,684.91 153.8,684.75 154.5,685.14 155.2,684.94 155.9,684.96 156.6,684.93 157.3,684.97 158,684.87 158.7,684.7 159.4,684.75 160.1,685.11 160.8,684.9 161.5,684.59 162.2,685.16 162.9,685.43 163.6,685.16 164.3,685.19 165,685.51 165.7,685.46 166.4,685.11 167.1,685.05 167.8,685.45 168.5,685.42 169.2,685.18 169.9,685.45 170.6,685.69 171.3,685.72 172,685.71 172.7,685.87 173.4,685.91 174.1,685.92 174.8,685.91 175.5,686 176.2,686.02 176.9,685.94 177.6,685.96 178.3,685.78 179,685.67 179.7,685.62 180.4,685.72 181.1,685.73 181.8,685.72 182.5,685.8 183.2,685.72 183.9,685.43 184.6,685.12 185.3,685.29 186,684.87 186.7,684.74 187.4,685.15 188.1,685.56 188.8,685.69 189.5,685.71 190.2,685.81 190.9,685.55 191.6,685.05 192.3,684.49 193,684.74 193.7,685.02 194.4,685.36 195.1,685.72 195.8,685.82 196.5,685.74 197.2,685.29 197.9,685.02 198.6,684.46 199.3,684.47 200,684.65 200.7,684.72 201.4,685.03 202.1,685.15 202.8,685.09 203.5,684.82 204.2,685.33 204.9,685.37 205.6,685.28 206.3,685.59 207,685.76 207.7,685.53 208.4,685.37 209.1,685.41 209.8,684.9 210.5,684.98 211.2,685.28 211.9,685 212.6,685.27 213.3,685.64 214,685.72 214.7,685.77 215.4,685.88 216.1,685.93 216.8,685.84 217.5,685.52 218.2,685.26 218.9,685.02 219.6,685.16 220.3,685.03 221,685.14 221.7,684.81 222.4,685.4 223.1,685.14 223.8,685.27 224.5,685.36 225.2,685.61 225.9,685.49 226.6,685.27 227.3,685.07 228,685 228.7,684.64 229.4,684.41 230.1,685.04 230.8,685.16 231.5,685.5 232.2,685.6 232.9,685.55 233.6,685.49 234.3,685.73 235,685.73 235.7,685.88 236.4,685.62 237.1,685.14 237.8,683.76 238.5,681.76 239.2,678.87 239.9,676.19 240.6,674.29 241.3,674.4 242,676.38 242.7,679.19 243.4,681.84 244.1,683.45 244.8,684.11 245.5,684.14 246.2,684.21 246.9,684.27 247.6,684.69 248.3,685.34 249,685.47 249.7,685.36 250.4,685.72 251.1,685.58 251.8,685.05 252.5,684.96 253.2,684.96 253.9,684.58 254.6,684.13 255.3,684.89 256,685.14 256.7,685.22 257.4,685.3 258.1,685.54 258.8,685.25 259.5,685.11 260.2,684.82 260.9,684.12 261.6,683.99 262.3,684.05 263,684.02 263.7,684.42 264.4,684.84 265.1,684.75 265.8,684.39 266.5,684.4 267.2,684.5 267.9,684.91 268.6,685.29 269.3,685.33 270,685.32 270.7,685.16 271.4,685.17 272.1,684.71 272.8,684.63 273.5,685 274.2,685.26 274.9,684.83 275.6,684.21 276.3,683.07 277,681.46 277.7,679.84 278.4,678.86 279.1,678.32 279.8,678.52 280.5,679.14 281.2,678.7 281.9,677.65 282.6,677 283.3,676.57 284,677.02 284.7,678.31 285.4,679.07 286.1,678.83 286.8,677.57 287.5,676.66 288.2,677.18 288.9,677.94 289.6,676.52 290.3,673.46 291,670.15 291.7,668.4 292.4,669.22 293.1,672.77 293.8,676.89 294.5,680.66 295.2,683.04 295.9,684.05 296.6,683.31 297.3,682.3 298,681.41 298.7,682.1 299.4,683.31 300.1,684.35 300.8,685.11 301.5,685.34 302.2,685.13 302.9,685.22 303.6,685.47 304.3,685.22 305,685.39 305.7,685.32 306.4,685.34 307.1,685.54 307.8,685.74 308.5,685.76 309.2,685.85 309.9,685.6 310.6,685.59 311.3,685.59 312,685.55 312.7,685.39 313.4,685.35 314.1,684.8 314.8,684.62 315.5,684.64 316.2,684.85 316.9,685.06 317.6,685.38 318.3,685.6 319,685.46 319.7,685.3 320.4,685.47 321.1,685.48 321.8,685.54 322.5,685.67 323.2,685.86 323.9,685.9 324.6,685.81 325.3,685.74 326,685.55 326.7,685.62 327.4,685.29 328.1,685.08 328.8,685.19 329.5,685.44 330.2,685 330.9,685.22 331.6,685.57 332.3,685.58 333,685.34 333.7,685.66 334.4,685.43 335.1,685.3 335.8,685.29 336.5,685.19 337.2,684.8 337.9,684.89 338.6,684.86 339.3,684.41 340,684.45 340.7,684.99 341.4,685.31 342.1,685.21 342.8,685.4 343.5,685.38 344.2,684.99 344.9,684.79 345.6,685.2 346.3,685.08 347,685.31 347.7,685.45 348.4,685.31 349.1,685.12 349.8,684.93 350.5,684.93 351.2,685.21 351.9,685.18 352.6,685.37 353.3,685.36 354,685.16 354.7,685.14 355.4,685.49 356.1,685.19 356.8,685.45 357.5,685.71 358.2,685.45 358.9,685.37 359.6,685.49 359.9,685.47" fill="none" stroke="#c85aa0" stroke-width="1.25" stroke-linejoin="round"/>
<polygon points="412.1,686.5 412.1,685.13 412.8,685.43 413.5,685.33 414.2,685.21 414.9,685.34 415.6,685.07 416.3,685.17 417,685.27 417.7,685.66 418.4,685.63 419.1,685.73 419.8,685.34 420.5,685.34 421.2,684.91 421.9,685.03 422.6,685.33 423.3,685.54 424,685.44 424.7,685.52 425.4,685.65 426.1,685.6 426.8,685.69 427.5,685.79 428.2,685.73 428.9,685.63 429.6,685.72 430.3,685.41 431,685.18 431.7,685.24 432.4,685.37 433.1,685.25 433.8,685.63 434.5,685.61 435.2,685.86 435.9,685.83 436.6,685.84 437.3,685.6 438,685.87 438.7,685.53 439.4,685.44 440.1,685.19 440.8,685.53 441.5,685.48 442.2,685.54 442.9,685.15 443.6,685.39 444.3,685.3 445,685.43 445.7,685.74 446.4,685.94 447.1,685.86 447.8,685.78 448.5,685.67 449.2,685.68 449.9,685.61 450.6,685.68 451.3,685.77 452,685.5 452.7,685.27 453.4,685.56 454.1,685.23 454.8,684.8 455.5,685.2 456.2,684.94 456.9,684.88 457.6,684.91 458.3,685.41 459,685.13 459.7,685.31 460.4,684.74 461.1,685.17 461.8,684.84 462.5,684.78 463.2,685.16 463.9,685.58 464.6,685.46 465.3,685.7 466,685.98 466.7,686.01 467.4,685.97 468.1,685.95 468.8,685.85 469.5,685.64 470.2,685.64 470.9,685.74 471.6,685.77 472.3,685.88 473,686.02 473.7,686.01 474.4,685.87 475.1,685.72 475.8,685.56 476.5,685.51 477.2,685.37 477.9,685.21 478.6,685.07 479.3,684.89 480,684.3 480.7,683.96 481.4,683.62 482.1,683.33 482.8,683.05 483.5,682.92 484.2,683.01 484.9,683.24 485.6,683.71 486.3,683.83 487,684.13 487.7,683.66 488.4,683.04 489.1,682.39 489.8,681.77 490.5,681.5 491.2,681.71 491.9,682.18 492.6,682.8 493.3,683.61 494,683.63 494.7,683.66 495.4,683.91 496.1,683.81 496.8,683.23 497.5,683.19 498.2,683.27 498.9,683.54 499.6,684.01 500.3,684.74 501,685.11 501.7,685.38 502.4,685.38 503.1,685.33 503.8,685.27 504.5,685.32 505.2,685.48 505.9,685.38 506.6,685.28 507.3,685.33 508,685.36 508.7,685 509.4,685.01 510.1,684.96 510.8,684.53 511.5,684.26 512.2,684.65 512.9,685.04 513.6,685.19 514.3,685.63 515,685.72 515.7,685.64 516.4,685.47 517.1,685.53 517.8,684.99 518.5,684.88 519.2,684.86 519.9,685.23 520.6,684.84 521.3,685.04 522,685.11 522.7,685.35 523.4,685.36 524.1,685.72 524.8,685.62 525.5,685.7 526.2,685.46 526.9,685.17 527.6,684.71 528.3,685.03 529,684.85 529.7,683.97 530.4,683 531.1,681.14 531.8,679.34 532.5,678.4 533.2,678.77 533.9,679.35 534.6,680.58 535.3,681.35 536,681.96 536.7,682.98 537.4,684.16 538.1,685.11 538.8,685.48 539.5,685.68 540.2,685.65 540.9,685.67 541.6,685.69 542.3,685.68 543,685.63 543.7,685.39 544.4,685.33 545.1,685.28 545.8,685.28 546.5,685.23 547.2,685.12 547.9,685.07 548.6,685.15 549.3,685.06 550,684.86 550.7,684.9 551.4,684.92 552.1,684.44 552.8,684.68 553.5,684.89 554.2,684.97 554.9,684.79 555.6,684.99 556.3,684.77 557,684.41 557.7,684.46 558.4,684.63 559.1,684.37 559.8,684.51 560.5,684.61 561.2,684.58 561.9,684.73 562.6,685.07 563.3,684.84 564,684.89 564.7,685.13 565.4,685.29 566.1,685.11 566.8,685.47 567.5,685.4 568.2,685.16 568.9,684.72 569.6,685.09 570.3,684.69 571,684.73 571.7,685.26 572.4,685.66 573.1,685.65 573.8,685.79 574.5,685.85 575.2,685.9 575.9,685.56 576.6,685.64 577.3,685.52 578,685.51 578.7,685.05 579.4,685.14 580.1,684.7 580.8,685.03 581.5,685.02 582.2,685.38 582.9,685.65 583.6,685.9 584.3,685.9 585,685.77 585.7,685.56 586.4,685.65 587.1,685.5 587.8,685.46 588.5,685.64 589.2,685.73 589.9,685.36 590.6,685.44 591.3,685.33 592,685.25 592.7,685.52 593.4,685.81 594.1,685.84 594.8,685.85 595.5,685.77 596.2,685.37 596.9,684.94 597.6,684.62 598.3,684.62 599,684.77 599.7,685.17 600.4,685.38 601.1,685.59 601.8,685.71 602.5,685.82 603.2,685.55 603.9,685.68 604.6,685.52 605.3,685.64 606,685.77 606.7,685.91 607.4,685.79 608.1,685.78 608.8,685.34 609.5,685.09 610.2,685.01 610.9,684.8 611.6,685.05 612.3,685.13 613,685.22 613.7,684.89 614.4,684.7 615.1,683.98 615.8,683.62 616.5,683.48 617.2,683.93 617.9,684.24 618.6,684.78 619.3,685.08 620,685.32 620.7,685.49 621.4,685.5 622.1,685.55 622.8,685.61 623.5,685.54 624.2,685.39 624.9,685.33 625.6,685.35 626.3,685.66 627,685.64 627.7,685.56 628.4,685.79 629.1,685.65 629.8,685.67 630.5,685.58 631.2,685.71 631.9,685.55 632.6,685.73 633.3,685.58 634,685.4 634.7,685.49 635.4,685.68 636.1,685.3 636.8,685.52 637.5,685.72 638.2,685.65 638.9,685.67 639.6,685.84 640.3,685.58 641,685.52 641.7,685.6 642.4,685.39 643.1,684.97 643.8,685.37 644.5,685.32 645.2,685.38 645.9,685.55 646.6,685.89 647.3,685.75 648,685.78 648.7,685.53 649.4,685.35 650.1,685.06 650.8,685.3 651.5,685.38 651.9,685.54 651.9,686.5" fill="#da8cc3" stroke="none" stroke-width="0" />
<polyline points="412.1,685.13 412.8,685.43 413.5,685.33 414.2,685.21 414.9,685.34 415.6,685.07 416.3,685.17 417,685.27 417.7,685.66 418.4,685.63 419.1,685.73 419.8,685.34 420.5,685.34 421.2,684.91 421.9,685.03 422.6,685.33 423.3,685.54 424,685.44 424.7,685.52 425.4,685.65 426.1,685.6 426.8,685.69 427.5,685.79 428.2,685.73 428.9,685.63 429.6,685.72 430.3,685.41 431,685.18 431.7,685.24 432.4,685.37 433.1,685.25 433.8,685.63 434.5,685.61 435.2,685.86 435.9,685.83 436.6,685.84 437.3,685.6 438,685.87 438.7,685.53 439.4,685.44 440.1,685.19 440.8,685.53 441.5,685.48 442.2,685.54 442.9,685.15 443.6,685.39 444.3,685.3 445,685.43 445.7,685.74 446.4,685.94 447.1,685.86 447.8,685.78 448.5,685.67 449.2,685.68 449.9,685.61 450.6,685.68 451.3,685.77 452,685.5 452.7,685.27 453.4,685.56 454.1,685.23 454.8,684.8 455.5,685.2 456.2,684.94 456.9,684.88 457.6,684.91 458.3,685.41 459,685.13 459.7,685.31 460.4,684.74 461.1,685.17 461.8,684.84 462.5,684.78 463.2,685.16 463.9,685.58 464.6,685.46 465.3,685.7 466,685.98 466.7,686.01 467.4,685.97 468.1,685.95 468.8,685.85 469.5,685.64 470.2,685.64 470.9,685.74 471.6,685.77 472.3,685.88 473,686.02 473.7,686.01 474.4,685.87 475.1,685.72 475.8,685.56 476.5,685.51 477.2,685.37 477.9,685.21 478.6,685.07 479.3,684.89 480,684.3 480.7,683.96 481.4,683.62 482.1,683.33 482.8,683.05 483.5,682.92 484.2,683.01 484.9,683.24 485.6,683.71 486.3,683.83 487,684.13 487.7,683.66 488.4,683.04 489.1,682.39 489.8,681.77 490.5,681.5 491.2,681.71 491.9,682.18 492.6,682.8 493.3,683.61 494,683.63 494.7,683.66 495.4,683.91 496.1,683.81 496.8,683.23 497.5,683.19 498.2,683.27 498.9,683.54 499.6,684.01 500.3,684.74 501,685.11 501.7,685.38 502.4,685.38 503.1,685.33 503.8,685.27 504.5,685.32 505.2,685.48 505.9,685.38 506.6,685.28 507.3,685.33 508,685.36 508.7,685 509.4,685.01 510.1,684.96 510.8,684.53 511.5,684.26 512.2,684.65 512.9,685.04 513.6,685.19 514.3,685.63 515,685.72 515.7,685.64 516.4,685.47 517.1,685.53 517.8,684.99 518.5,684.88 519.2,684.86 519.9,685.23 520.6,684.84 521.3,685.04 522,685.11 522.7,685.35 523.4,685.36 524.1,685.72 524.8,685.62 525.5,685.7 526.2,685.46 526.9,685.17 527.6,684.71 528.3,685.03 529,684.85 529.7,683.97 530.4,683 531.1,681.14 531.8,679.34 532.5,678.4 533.2,678.77 533.9,679.35 534.6,680.58 535.3,681.35 536,681.96 536.7,682.98 537.4,684.16 538.1,685.11 538.8,685.48 539.5,685.68 540.2,685.65 540.9,685.67 541.6,685.69 542.3,685.68 543,685.63 543.7,685.39 544.4,685.33 545.1,685.28 545.8,685.28 546.5,685.23 547.2,685.12 547.9,685.07 548.6,685.15 549.3,685.06 550,684.86 550.7,684.9 551.4,684.92 552.1,684.44 552.8,684.68 553.5,684.89 554.2,684.97 554.9,684.79 555.6,684.99 556.3,684.77 557,684.41 557.7,684.46 558.4,684.63 559.1,684.37 559.8,684.51 560.5,684.61 561.2,684.58 561.9,684.73 562.6,685.07 563.3,684.84 564,684.89 564.7,685.13 565.4,685.29 566.1,685.11 566.8,685.47 567.5,685.4 568.2,685.16 568.9,684.72 569.6,685.09 570.3,684.69 571,684.73 571.7,685.26 572.4,685.66 573.1,685.65 573.8,685.79 574.5,685.85 575.2,685.9 575.9,685.56 576.6,685.64 577.3,685.52 578,685.51 578.7,685.05 579.4,685.14 580.1,684.7 580.8,685.03 581.5,685.02 582.2,685.38 582.9,685.65 583.6,685.9 584.3,685.9 585,685.77 585.7,685.56 586.4,685.65 587.1,685.5 587.8,685.46 588.5,685.64 589.2,685.73 589.9,685.36 590.6,685.44 591.3,685.33 592,685.25 592.7,685.52 593.4,685.81 594.1,685.84 594.8,685.85 595.5,685.77 596.2,685.37 596.9,684.94 597.6,684.62 598.3,684.62 599,684.77 599.7,685.17 600.4,685.38 601.1,685.59 601.8,685.71 602.5,685.82 603.2,685.55 603.9,685.68 604.6,685.52 605.3,685.64 606,685.77 606.7,685.91 607.4,685.79 608.1,685.78 608.8,685.34 609.5,685.09 610.2,685.01 610.9,684.8 611.6,685.05 612.3,685.13 613,685.22 613.7,684.89 614.4,684.7 615.1,683.98 615.8,683.62 616.5,683.48 617.2,683.93 617.9,684.24 618.6,684.78 619.3,685.08 620,685.32 620.7,685.49 621.4,685.5 622.1,685.55 622.8,685.61 623.5,685.54 624.2,685.39 624.9,685.33 625.6,685.35 626.3,685.66 627,685.64 627.7,685.56 628.4,685.79 629.1,685.65 629.8,685.67 630.5,685.58 631.2,685.71 631.9,685.55 632.6,685.73 633.3,685.58 634,685.4 634.7,685.49 635.4,685.68 636.1,685.3 636.8,685.52 637.5,685.72 638.2,685.65 638.9,685.67 639.6,685.84 640.3,685.58 641,685.52 641.7,685.6 642.4,685.39 643.1,684.97 643.8,685.37 644.5,685.32 645.2,685.38 645.9,685.55 646.6,685.89 647.3,685.75 648,685.78 648.7,685.53 649.4,685.35 650.1,685.06 650.8,685.3 651.5,685.38 651.9,685.54" fill="none" stroke="#c85aa0" stroke-width="1.25" stroke-linejoin="round"/>
<text x="103.6" y="679.8" font-size="11" text-anchor="end" fill="#231f20" stroke="#231f20" stroke-width="0.12">Ery diff. D4</text>
<polygon points="118.1,712.5 118.1,710.74 118.8,710.72 119.5,711.08 120.2,711.59 120.9,711.52 121.6,711.78 122.3,711.89 123,711.65 123.7,711.23 124.4,711.5 125.1,711.52 125.8,711.6 126.5,711.62 127.2,711.93 127.9,711.9 128.6,711.89 129.3,711.92 130,711.99 130.7,711.96 131.4,711.91 132.1,711.69 132.8,711.4 133.5,711.46 134.2,711.11 134.9,711 135.6,710.93 136.3,711.24 137,711.27 137.7,711.39 138.4,711.17 139.1,711.29 139.8,711.16 140.5,711.23 141.2,711.4 141.9,711.74 142.6,711.58 143.3,711.37 144,710.97 144.7,710.8 145.4,710.41 146.1,710.94 146.8,711.21 147.5,711.61 148.2,711.66 148.9,711.83 149.6,711.89 150.3,711.74 151,711.76 151.7,711.6 152.4,711.37 153.1,711.38 153.8,711.6 154.5,711.1 155.2,710.98 155.9,711.07 156.6,710.57 157.3,710.39 158,710.93 158.7,711.22 159.4,711.2 160.1,711.42 160.8,711.36 161.5,711.27 162.2,711.15 162.9,711.45 163.6,711.43 164.3,711.78 165,711.7 165.7,711.65 166.4,711.41 167.1,711.35 167.8,710.98 168.5,711.25 169.2,711.52 169.9,711.5 170.6,711.46 171.3,711.58 172,711.46 172.7,711.49 173.4,711.5 174.1,711.48 174.8,711.51 175.5,711.4 176.2,711.09 176.9,711.1 177.6,710.89 178.3,710.91 179,710.74 179.7,711.19 180.4,711.3 181.1,711.39 181.8,711.53 182.5,711.67 183.2,711.33 183.9,710.96 184.6,711.06 185.3,710.84 186,711.04 186.7,711.19 187.4,711.65 188.1,711.89 188.8,711.7 189.5,711.57 190.2,711.77 190.9,711.62 191.6,711.5 192.3,711.5 193,711.66 193.7,711.39 194.4,711.2 195.1,711.19 195.8,711.53 196.5,711.41 197.2,711.57 197.9,711.64 198.6,711.64 199.3,711.37 200,711.42 200.7,711.55 201.4,711.46 202.1,711.14 202.8,711.21 203.5,711.13 204.2,710.6 204.9,710.47 205.6,711.12 206.3,711.24 207,711.53 207.7,711.76 208.4,711.97 209.1,711.85 209.8,711.78 210.5,711.4 211.2,711.44 211.9,711.55 212.6,711.27 213.3,711.2 214,711.38 214.7,711.46 215.4,711.44 216.1,711.48 216.8,711.6 217.5,711.45 218.2,711.05 218.9,710.53 219.6,710.63 220.3,710.84 221,711.25 221.7,711.45 222.4,711.44 223.1,711.44 223.8,711.14 224.5,710.89 225.2,710.81 225.9,711.09 226.6,710.99 227.3,710.8 228,710.53 228.7,710.08 229.4,709.34 230.1,709.06 230.8,709.59 231.5,709.99 232.2,710.37 232.9,710.84 233.6,711.39 234.3,711.12 235,711.1 235.7,711.03 236.4,711.38 237.1,711.16 237.8,710.64 238.5,707.98 239.2,703.09 239.9,696.15 240.6,691.25 241.3,691.47 242,696.96 242.7,703.52 243.4,708.51 244.1,710.91 244.8,711.57 245.5,711.78 246.2,711.78 246.9,711.57 247.6,711.49 248.3,711.59 249,711.59 249.7,711.65 250.4,711.67 251.1,711.74 251.8,711.75 252.5,711.83 253.2,711.7 253.9,711.84 254.6,711.47 255.3,711.43 256,711.1 256.7,711.19 257.4,710.84 258.1,711.03 258.8,710.92 259.5,711.32 260.2,711.52 260.9,711.56 261.6,711.69 262.3,711.54 263,711.2 263.7,710.73 264.4,710.74 265.1,710.29 265.8,710.55 266.5,710.3 267.2,710.63 267.9,710.98 268.6,711.49 269.3,711.68 270,711.7 270.7,711.6 271.4,711.69 272.1,711.72 272.8,711.61 273.5,711.7 274.2,711.69 274.9,711.46 275.6,710.99 276.3,710.24 277,709.45 277.7,708.5 278.4,707.83 279.1,707.41 279.8,708.1 280.5,708.83 281.2,709.19 281.9,708.94 282.6,707.55 283.3,704.75 284,701.74 284.7,700.9 285.4,701.68 286.1,702.73 286.8,702.92 287.5,702.47 288.2,702.32 288.9,703.05 289.6,703.3 290.3,700.71 291,695.84 291.7,690.63 292.4,689.3 293.1,691.88 293.8,698.25 294.5,704.41 295.2,708.18 295.9,709.5 296.6,709.82 297.3,709.49 298,709.17 298.7,709.36 299.4,709.65 300.1,709.91 300.8,710.29 301.5,710.6 302.2,710.72 302.9,711.18 303.6,711.58 304.3,711.87 305,711.95 305.7,712.02 306.4,712.02 307.1,711.96 307.8,711.9 308.5,711.72 309.2,711.4 309.9,710.86 310.6,710.55 311.3,710.81 312,711.2 312.7,711.16 313.4,711.34 314.1,711.27 314.8,711.16 315.5,711.15 316.2,711.64 316.9,711.71 317.6,711.88 318.3,711.79 319,711.83 319.7,711.85 320.4,711.9 321.1,711.7 321.8,711.62 322.5,711.41 323.2,711.39 323.9,711.36 324.6,711.64 325.3,711.65 326,711.72 326.7,711.37 327.4,711.45 328.1,711.25 328.8,711.58 329.5,711.7 330.2,711.7 330.9,711.42 331.6,711.63 332.3,711.54 333,711.08 333.7,711.21 334.4,711.61 335.1,711.25 335.8,711.02 336.5,711.42 337.2,711.47 337.9,711.31 338.6,711.53 339.3,711.6 340,711.57 340.7,711.46 341.4,711.49 342.1,711.35 342.8,711.16 343.5,710.76 344.2,711.16 344.9,710.78 345.6,710.87 346.3,711.24 347,711.26 347.7,711.04 348.4,711.45 349.1,711.68 349.8,711.27 350.5,711.34 351.2,711.48 351.9,711.06 352.6,711.17 353.3,711.35 354,711.44 354.7,711.07 355.4,711.06 356.1,710.54 356.8,710.42 357.5,710.56 358.2,710.51 358.9,710.88 359.6,710.92 359.9,711.12 359.9,712.5" fill="#ec70a4" stroke="none" stroke-width="0" />
<polyline points="118.1,710.74 118.8,710.72 119.5,711.08 120.2,711.59 120.9,711.52 121.6,711.78 122.3,711.89 123,711.65 123.7,711.23 124.4,711.5 125.1,711.52 125.8,711.6 126.5,711.62 127.2,711.93 127.9,711.9 128.6,711.89 129.3,711.92 130,711.99 130.7,711.96 131.4,711.91 132.1,711.69 132.8,711.4 133.5,711.46 134.2,711.11 134.9,711 135.6,710.93 136.3,711.24 137,711.27 137.7,711.39 138.4,711.17 139.1,711.29 139.8,711.16 140.5,711.23 141.2,711.4 141.9,711.74 142.6,711.58 143.3,711.37 144,710.97 144.7,710.8 145.4,710.41 146.1,710.94 146.8,711.21 147.5,711.61 148.2,711.66 148.9,711.83 149.6,711.89 150.3,711.74 151,711.76 151.7,711.6 152.4,711.37 153.1,711.38 153.8,711.6 154.5,711.1 155.2,710.98 155.9,711.07 156.6,710.57 157.3,710.39 158,710.93 158.7,711.22 159.4,711.2 160.1,711.42 160.8,711.36 161.5,711.27 162.2,711.15 162.9,711.45 163.6,711.43 164.3,711.78 165,711.7 165.7,711.65 166.4,711.41 167.1,711.35 167.8,710.98 168.5,711.25 169.2,711.52 169.9,711.5 170.6,711.46 171.3,711.58 172,711.46 172.7,711.49 173.4,711.5 174.1,711.48 174.8,711.51 175.5,711.4 176.2,711.09 176.9,711.1 177.6,710.89 178.3,710.91 179,710.74 179.7,711.19 180.4,711.3 181.1,711.39 181.8,711.53 182.5,711.67 183.2,711.33 183.9,710.96 184.6,711.06 185.3,710.84 186,711.04 186.7,711.19 187.4,711.65 188.1,711.89 188.8,711.7 189.5,711.57 190.2,711.77 190.9,711.62 191.6,711.5 192.3,711.5 193,711.66 193.7,711.39 194.4,711.2 195.1,711.19 195.8,711.53 196.5,711.41 197.2,711.57 197.9,711.64 198.6,711.64 199.3,711.37 200,711.42 200.7,711.55 201.4,711.46 202.1,711.14 202.8,711.21 203.5,711.13 204.2,710.6 204.9,710.47 205.6,711.12 206.3,711.24 207,711.53 207.7,711.76 208.4,711.97 209.1,711.85 209.8,711.78 210.5,711.4 211.2,711.44 211.9,711.55 212.6,711.27 213.3,711.2 214,711.38 214.7,711.46 215.4,711.44 216.1,711.48 216.8,711.6 217.5,711.45 218.2,711.05 218.9,710.53 219.6,710.63 220.3,710.84 221,711.25 221.7,711.45 222.4,711.44 223.1,711.44 223.8,711.14 224.5,710.89 225.2,710.81 225.9,711.09 226.6,710.99 227.3,710.8 228,710.53 228.7,710.08 229.4,709.34 230.1,709.06 230.8,709.59 231.5,709.99 232.2,710.37 232.9,710.84 233.6,711.39 234.3,711.12 235,711.1 235.7,711.03 236.4,711.38 237.1,711.16 237.8,710.64 238.5,707.98 239.2,703.09 239.9,696.15 240.6,691.25 241.3,691.47 242,696.96 242.7,703.52 243.4,708.51 244.1,710.91 244.8,711.57 245.5,711.78 246.2,711.78 246.9,711.57 247.6,711.49 248.3,711.59 249,711.59 249.7,711.65 250.4,711.67 251.1,711.74 251.8,711.75 252.5,711.83 253.2,711.7 253.9,711.84 254.6,711.47 255.3,711.43 256,711.1 256.7,711.19 257.4,710.84 258.1,711.03 258.8,710.92 259.5,711.32 260.2,711.52 260.9,711.56 261.6,711.69 262.3,711.54 263,711.2 263.7,710.73 264.4,710.74 265.1,710.29 265.8,710.55 266.5,710.3 267.2,710.63 267.9,710.98 268.6,711.49 269.3,711.68 270,711.7 270.7,711.6 271.4,711.69 272.1,711.72 272.8,711.61 273.5,711.7 274.2,711.69 274.9,711.46 275.6,710.99 276.3,710.24 277,709.45 277.7,708.5 278.4,707.83 279.1,707.41 279.8,708.1 280.5,708.83 281.2,709.19 281.9,708.94 282.6,707.55 283.3,704.75 284,701.74 284.7,700.9 285.4,701.68 286.1,702.73 286.8,702.92 287.5,702.47 288.2,702.32 288.9,703.05 289.6,703.3 290.3,700.71 291,695.84 291.7,690.63 292.4,689.3 293.1,691.88 293.8,698.25 294.5,704.41 295.2,708.18 295.9,709.5 296.6,709.82 297.3,709.49 298,709.17 298.7,709.36 299.4,709.65 300.1,709.91 300.8,710.29 301.5,710.6 302.2,710.72 302.9,711.18 303.6,711.58 304.3,711.87 305,711.95 305.7,712.02 306.4,712.02 307.1,711.96 307.8,711.9 308.5,711.72 309.2,711.4 309.9,710.86 310.6,710.55 311.3,710.81 312,711.2 312.7,711.16 313.4,711.34 314.1,711.27 314.8,711.16 315.5,711.15 316.2,711.64 316.9,711.71 317.6,711.88 318.3,711.79 319,711.83 319.7,711.85 320.4,711.9 321.1,711.7 321.8,711.62 322.5,711.41 323.2,711.39 323.9,711.36 324.6,711.64 325.3,711.65 326,711.72 326.7,711.37 327.4,711.45 328.1,711.25 328.8,711.58 329.5,711.7 330.2,711.7 330.9,711.42 331.6,711.63 332.3,711.54 333,711.08 333.7,711.21 334.4,711.61 335.1,711.25 335.8,711.02 336.5,711.42 337.2,711.47 337.9,711.31 338.6,711.53 339.3,711.6 340,711.57 340.7,711.46 341.4,711.49 342.1,711.35 342.8,711.16 343.5,710.76 344.2,711.16 344.9,710.78 345.6,710.87 346.3,711.24 347,711.26 347.7,711.04 348.4,711.45 349.1,711.68 349.8,711.27 350.5,711.34 351.2,711.48 351.9,711.06 352.6,711.17 353.3,711.35 354,711.44 354.7,711.07 355.4,711.06 356.1,710.54 356.8,710.42 357.5,710.56 358.2,710.51 358.9,710.88 359.6,710.92 359.9,711.12" fill="none" stroke="#e12878" stroke-width="1.25" stroke-linejoin="round"/>
<polygon points="412.1,712.5 412.1,709.47 412.8,708.91 413.5,708.43 414.2,708.44 414.9,709.2 415.6,710.01 416.3,710.25 417,710.58 417.7,710.9 418.4,711.4 419.1,711.25 419.8,711.57 420.5,711.67 421.2,711.35 421.9,711.2 422.6,711.55 423.3,711.42 424,711.59 424.7,711.7 425.4,711.72 426.1,711.79 426.8,711.71 427.5,711.69 428.2,711.89 428.9,711.97 429.6,711.72 430.3,711.8 431,711.67 431.7,711.53 432.4,711.04 433.1,711.49 433.8,711.36 434.5,711.22 435.2,711.34 435.9,711.57 436.6,711.43 437.3,711.59 438,711.53 438.7,711.56 439.4,711.4 440.1,711.55 440.8,711.31 441.5,711.73 442.2,711.47 442.9,711.77 443.6,711.71 444.3,711.89 445,711.82 445.7,711.83 446.4,711.66 447.1,711.73 447.8,711.76 448.5,711.71 449.2,711.73 449.9,711.68 450.6,711.47 451.3,711.11 452,710.74 452.7,710.56 453.4,710.26 454.1,709.85 454.8,709.67 455.5,709.9 456.2,710.14 456.9,710.5 457.6,710.9 458.3,711 459,711.22 459.7,711.09 460.4,711.18 461.1,711.39 461.8,711.39 462.5,711.33 463.2,711.76 463.9,711.6 464.6,711.18 465.3,711.16 466,711.18 466.7,711.07 467.4,711.43 468.1,711.56 468.8,711.65 469.5,711.61 470.2,711.58 470.9,711.61 471.6,711.39 472.3,711.2 473,710.95 473.7,710.75 474.4,710.8 475.1,711.29 475.8,711.52 476.5,711.54 477.2,711.41 477.9,711.31 478.6,710.77 479.3,710.48 480,710.44 480.7,709.98 481.4,709.29 482.1,709.03 482.8,708.93 483.5,708.81 484.2,708.69 484.9,708.86 485.6,709.09 486.3,709.34 487,709.55 487.7,710.22 488.4,709.98 489.1,709.93 489.8,709.16 490.5,708.51 491.2,707.66 491.9,707.46 492.6,707.13 493.3,707.31 494,707.66 494.7,708.17 495.4,708.72 496.1,708.97 496.8,709.63 497.5,709.73 498.2,709.53 498.9,709.09 499.6,709.24 500.3,709.03 501,709.28 501.7,709.82 502.4,710.3 503.1,710.61 503.8,710.87 504.5,711 505.2,710.67 505.9,710.55 506.6,710.31 507.3,710.5 508,710.56 508.7,710.8 509.4,710.86 510.1,711.32 510.8,711.6 511.5,711.64 512.2,711.68 512.9,711.91 513.6,711.88 514.3,711.89 515,711.66 515.7,711.7 516.4,711.46 517.1,711.57 517.8,711.42 518.5,711.4 519.2,711.18 519.9,710.94 520.6,710.91 521.3,710.53 522,710.48 522.7,710.45 523.4,710.28 524.1,709.28 524.8,709.32 525.5,709.69 526.2,709.96 526.9,710.28 527.6,710.51 528.3,709.59 529,707.25 529.7,703.85 530.4,699.98 531.1,696.69 531.8,696.15 532.5,698.31 533.2,701.62 533.9,704.33 534.6,705.37 535.3,705.2 536,705.54 536.7,706.98 537.4,708.77 538.1,710.31 538.8,711.11 539.5,711.39 540.2,711.52 540.9,711.33 541.6,711.59 542.3,711.42 543,711.53 543.7,711.62 544.4,711.79 545.1,711.38 545.8,711.7 546.5,711.73 547.2,711.46 547.9,711.42 548.6,711.8 549.3,711.52 550,711.23 550.7,711.28 551.4,711.49 552.1,711.23 552.8,711.66 553.5,711.79 554.2,711.83 554.9,711.45 555.6,711.27 556.3,711.19 557,710.74 557.7,710.48 558.4,711.13 559.1,711.61 559.8,711.61 560.5,711.56 561.2,711.83 561.9,711.65 562.6,711.35 563.3,711.23 564,711.58 564.7,711.43 565.4,711.28 566.1,711.52 566.8,711.69 567.5,711.65 568.2,711.46 568.9,711.43 569.6,711.51 570.3,711.11 571,710.79 571.7,710.88 572.4,711.4 573.1,711.44 573.8,711.57 574.5,711.55 575.2,711.52 575.9,711.37 576.6,710.76 577.3,710.48 578,710.89 578.7,711.34 579.4,711.41 580.1,711.65 580.8,711.79 581.5,711.61 582.2,711.24 582.9,710.56 583.6,710.39 584.3,710.15 585,710.01 585.7,710.3 586.4,710.8 587.1,710.97 587.8,711.03 588.5,711.19 589.2,711.24 589.9,711.34 590.6,711.66 591.3,711.63 592,711.66 592.7,711.77 593.4,711.59 594.1,711.57 594.8,711.72 595.5,711.68 596.2,711.22 596.9,711.22 597.6,710.65 598.3,710.62 599,710.52 599.7,711.06 600.4,711.4 601.1,711.59 601.8,711.34 602.5,711.51 603.2,711.26 603.9,710.75 604.6,710.58 605.3,710.77 606,710.99 606.7,711.21 607.4,711.15 608.1,711.42 608.8,711.53 609.5,711.58 610.2,711.43 610.9,711.62 611.6,711.29 612.3,711.41 613,711.44 613.7,711.73 614.4,711.89 615.1,712.04 615.8,711.92 616.5,711.63 617.2,711.57 617.9,711.06 618.6,711.17 619.3,711.2 620,711.53 620.7,711.54 621.4,711.8 622.1,711.42 622.8,711.44 623.5,711.33 624.2,710.94 624.9,710.51 625.6,710.85 626.3,710.76 627,710.59 627.7,710.64 628.4,710.9 629.1,710.62 629.8,711.2 630.5,711.51 631.2,711.48 631.9,711.42 632.6,711.67 633.3,711.64 634,711.42 634.7,711.67 635.4,711.53 636.1,711.22 636.8,710.99 637.5,710.8 638.2,710.02 638.9,709.8 639.6,709.54 640.3,709.21 641,709.42 641.7,709.94 642.4,710.3 643.1,710.61 643.8,710.72 644.5,710.87 645.2,711.23 645.9,711.26 646.6,711.63 647.3,711.66 648,711.59 648.7,711.61 649.4,711.6 650.1,711.6 650.8,711.73 651.5,711.8 651.9,711.67 651.9,712.5" fill="#ec70a4" stroke="none" stroke-width="0" />
<polyline points="412.1,709.47 412.8,708.91 413.5,708.43 414.2,708.44 414.9,709.2 415.6,710.01 416.3,710.25 417,710.58 417.7,710.9 418.4,711.4 419.1,711.25 419.8,711.57 420.5,711.67 421.2,711.35 421.9,711.2 422.6,711.55 423.3,711.42 424,711.59 424.7,711.7 425.4,711.72 426.1,711.79 426.8,711.71 427.5,711.69 428.2,711.89 428.9,711.97 429.6,711.72 430.3,711.8 431,711.67 431.7,711.53 432.4,711.04 433.1,711.49 433.8,711.36 434.5,711.22 435.2,711.34 435.9,711.57 436.6,711.43 437.3,711.59 438,711.53 438.7,711.56 439.4,711.4 440.1,711.55 440.8,711.31 441.5,711.73 442.2,711.47 442.9,711.77 443.6,711.71 444.3,711.89 445,711.82 445.7,711.83 446.4,711.66 447.1,711.73 447.8,711.76 448.5,711.71 449.2,711.73 449.9,711.68 450.6,711.47 451.3,711.11 452,710.74 452.7,710.56 453.4,710.26 454.1,709.85 454.8,709.67 455.5,709.9 456.2,710.14 456.9,710.5 457.6,710.9 458.3,711 459,711.22 459.7,711.09 460.4,711.18 461.1,711.39 461.8,711.39 462.5,711.33 463.2,711.76 463.9,711.6 464.6,711.18 465.3,711.16 466,711.18 466.7,711.07 467.4,711.43 468.1,711.56 468.8,711.65 469.5,711.61 470.2,711.58 470.9,711.61 471.6,711.39 472.3,711.2 473,710.95 473.7,710.75 474.4,710.8 475.1,711.29 475.8,711.52 476.5,711.54 477.2,711.41 477.9,711.31 478.6,710.77 479.3,710.48 480,710.44 480.7,709.98 481.4,709.29 482.1,709.03 482.8,708.93 483.5,708.81 484.2,708.69 484.9,708.86 485.6,709.09 486.3,709.34 487,709.55 487.7,710.22 488.4,709.98 489.1,709.93 489.8,709.16 490.5,708.51 491.2,707.66 491.9,707.46 492.6,707.13 493.3,707.31 494,707.66 494.7,708.17 495.4,708.72 496.1,708.97 496.8,709.63 497.5,709.73 498.2,709.53 498.9,709.09 499.6,709.24 500.3,709.03 501,709.28 501.7,709.82 502.4,710.3 503.1,710.61 503.8,710.87 504.5,711 505.2,710.67 505.9,710.55 506.6,710.31 507.3,710.5 508,710.56 508.7,710.8 509.4,710.86 510.1,711.32 510.8,711.6 511.5,711.64 512.2,711.68 512.9,711.91 513.6,711.88 514.3,711.89 515,711.66 515.7,711.7 516.4,711.46 517.1,711.57 517.8,711.42 518.5,711.4 519.2,711.18 519.9,710.94 520.6,710.91 521.3,710.53 522,710.48 522.7,710.45 523.4,710.28 524.1,709.28 524.8,709.32 525.5,709.69 526.2,709.96 526.9,710.28 527.6,710.51 528.3,709.59 529,707.25 529.7,703.85 530.4,699.98 531.1,696.69 531.8,696.15 532.5,698.31 533.2,701.62 533.9,704.33 534.6,705.37 535.3,705.2 536,705.54 536.7,706.98 537.4,708.77 538.1,710.31 538.8,711.11 539.5,711.39 540.2,711.52 540.9,711.33 541.6,711.59 542.3,711.42 543,711.53 543.7,711.62 544.4,711.79 545.1,711.38 545.8,711.7 546.5,711.73 547.2,711.46 547.9,711.42 548.6,711.8 549.3,711.52 550,711.23 550.7,711.28 551.4,711.49 552.1,711.23 552.8,711.66 553.5,711.79 554.2,711.83 554.9,711.45 555.6,711.27 556.3,711.19 557,710.74 557.7,710.48 558.4,711.13 559.1,711.61 559.8,711.61 560.5,711.56 561.2,711.83 561.9,711.65 562.6,711.35 563.3,711.23 564,711.58 564.7,711.43 565.4,711.28 566.1,711.52 566.8,711.69 567.5,711.65 568.2,711.46 568.9,711.43 569.6,711.51 570.3,711.11 571,710.79 571.7,710.88 572.4,711.4 573.1,711.44 573.8,711.57 574.5,711.55 575.2,711.52 575.9,711.37 576.6,710.76 577.3,710.48 578,710.89 578.7,711.34 579.4,711.41 580.1,711.65 580.8,711.79 581.5,711.61 582.2,711.24 582.9,710.56 583.6,710.39 584.3,710.15 585,710.01 585.7,710.3 586.4,710.8 587.1,710.97 587.8,711.03 588.5,711.19 589.2,711.24 589.9,711.34 590.6,711.66 591.3,711.63 592,711.66 592.7,711.77 593.4,711.59 594.1,711.57 594.8,711.72 595.5,711.68 596.2,711.22 596.9,711.22 597.6,710.65 598.3,710.62 599,710.52 599.7,711.06 600.4,711.4 601.1,711.59 601.8,711.34 602.5,711.51 603.2,711.26 603.9,710.75 604.6,710.58 605.3,710.77 606,710.99 606.7,711.21 607.4,711.15 608.1,711.42 608.8,711.53 609.5,711.58 610.2,711.43 610.9,711.62 611.6,711.29 612.3,711.41 613,711.44 613.7,711.73 614.4,711.89 615.1,712.04 615.8,711.92 616.5,711.63 617.2,711.57 617.9,711.06 618.6,711.17 619.3,711.2 620,711.53 620.7,711.54 621.4,711.8 622.1,711.42 622.8,711.44 623.5,711.33 624.2,710.94 624.9,710.51 625.6,710.85 626.3,710.76 627,710.59 627.7,710.64 628.4,710.9 629.1,710.62 629.8,711.2 630.5,711.51 631.2,711.48 631.9,711.42 632.6,711.67 633.3,711.64 634,711.42 634.7,711.67 635.4,711.53 636.1,711.22 636.8,710.99 637.5,710.8 638.2,710.02 638.9,709.8 639.6,709.54 640.3,709.21 641,709.42 641.7,709.94 642.4,710.3 643.1,710.61 643.8,710.72 644.5,710.87 645.2,711.23 645.9,711.26 646.6,711.63 647.3,711.66 648,711.59 648.7,711.61 649.4,711.6 650.1,711.6 650.8,711.73 651.5,711.8 651.9,711.67" fill="none" stroke="#e12878" stroke-width="1.25" stroke-linejoin="round"/>
<text x="103.6" y="705.8" font-size="11" text-anchor="end" fill="#231f20" stroke="#231f20" stroke-width="0.12">Ery diff. D6</text>
<polygon points="118.1,738.5 118.1,735.55 118.8,735.45 119.5,734.64 120.2,733.76 120.9,733.27 121.6,733.94 122.3,734.92 123,735.74 123.7,736.88 124.4,737.43 125.1,737.51 125.8,737.34 126.5,737.38 127.2,737.1 127.9,737.27 128.6,737.27 129.3,737.28 130,737.42 130.7,737.51 131.4,737.47 132.1,737.35 132.8,737.54 133.5,737.74 134.2,737.67 134.9,737.81 135.6,737.79 136.3,737.57 137,737.21 137.7,737.4 138.4,737.22 139.1,737 139.8,737.29 140.5,737.19 141.2,737.22 141.9,736.95 142.6,737.48 143.3,737.31 144,737.41 144.7,737.21 145.4,737.33 146.1,736.76 146.8,736.5 147.5,736.97 148.2,736.98 148.9,737.32 149.6,737.51 150.3,737.63 151,737.32 151.7,736.88 152.4,736.51 153.1,736.46 153.8,736.69 154.5,736.89 155.2,737.41 155.9,737.69 156.6,737.69 157.3,737.43 158,737.54 158.7,737.39 159.4,737.12 160.1,737.05 160.8,737.31 161.5,737.18 162.2,737.08 162.9,736.86 163.6,736.73 164.3,736.3 165,736.57 165.7,736.71 166.4,736.8 167.1,737.02 167.8,737.5 168.5,737.28 169.2,737.46 169.9,737.59 170.6,737.64 171.3,737.61 172,737.76 172.7,737.59 173.4,737.43 174.1,737.34 174.8,737.21 175.5,737.22 176.2,736.98 176.9,737.1 177.6,736.94 178.3,737.14 179,737.06 179.7,737.5 180.4,737.71 181.1,737.89 181.8,737.84 182.5,738 183.2,738 183.9,737.99 184.6,738 185.3,737.84 186,737.84 186.7,737.84 187.4,737.9 188.1,737.81 188.8,737.98 189.5,737.86 190.2,737.84 190.9,737.79 191.6,737.8 192.3,737.85 193,737.73 193.7,737.59 194.4,737.49 195.1,737.46 195.8,736.92 196.5,737.18 197.2,737.28 197.9,737.38 198.6,737.47 199.3,737.56 200,737.5 200.7,737.56 201.4,737.19 202.1,737.33 202.8,737.55 203.5,737.47 204.2,737.1 204.9,737.36 205.6,737.43 206.3,737.32 207,737.51 207.7,737.87 208.4,737.9 209.1,737.57 209.8,737.79 210.5,737.87 211.2,737.83 211.9,737.65 212.6,737.87 213.3,737.62 214,737.37 214.7,737.45 215.4,737.63 216.1,737.71 216.8,737.66 217.5,737.74 218.2,737.58 218.9,737.39 219.6,736.96 220.3,737.41 221,737.6 221.7,737.63 222.4,737.82 223.1,737.94 223.8,737.83 224.5,737.45 225.2,737.26 225.9,736.83 226.6,736.69 227.3,736.84 228,737.12 228.7,737.42 229.4,737.61 230.1,737.8 230.8,737.5 231.5,737.62 232.2,737.24 232.9,737.44 233.6,737.41 234.3,737.73 235,737.5 235.7,737.52 236.4,737.19 237.1,736.73 237.8,735.94 238.5,733.88 239.2,729.49 239.9,723.2 240.6,718.88 241.3,719.06 242,724.12 242.7,730.18 243.4,734.71 244.1,736.82 244.8,737.75 245.5,737.62 246.2,737.66 246.9,737.88 247.6,737.69 248.3,737.22 249,737.42 249.7,737.55 250.4,737.33 251.1,737.39 251.8,737.74 252.5,737.79 253.2,737.48 253.9,737.35 254.6,737.22 255.3,736.73 256,736.65 256.7,736.46 257.4,736.88 258.1,737.09 258.8,737.26 259.5,736.98 260.2,737.23 260.9,736.81 261.6,736.12 262.3,735.76 263,736.03 263.7,736.27 264.4,736.86 265.1,737.39 265.8,737.47 266.5,737.55 267.2,737.63 267.9,737.31 268.6,737.22 269.3,737.24 270,737.02 270.7,736.55 271.4,736.58 272.1,736.57 272.8,736.73 273.5,736.48 274.2,736.93 274.9,737.11 275.6,736.94 276.3,736.36 277,735.5 277.7,734.35 278.4,733.28 279.1,732.24 279.8,731.33 280.5,730.62 281.2,730.69 281.9,730.12 282.6,729.34 283.3,729.1 284,729.14 284.7,729.5 285.4,730.64 286.1,732.23 286.8,733.46 287.5,734.48 288.2,734.23 288.9,732.67 289.6,729.63 290.3,725.43 291,721.77 291.7,720.09 292.4,721.09 293.1,724.49 293.8,728.71 294.5,731.38 295.2,733.1 295.9,733.27 296.6,733.41 297.3,734.35 298,736.07 298.7,736.88 299.4,737.38 300.1,737.13 300.8,737.44 301.5,737.43 302.2,737.8 302.9,737.9 303.6,738.06 304.3,737.98 305,737.9 305.7,737.64 306.4,737.55 307.1,737.33 307.8,737.09 308.5,737.23 309.2,737.5 309.9,737.53 310.6,737.33 311.3,737.52 312,737.43 312.7,737.29 313.4,737.35 314.1,737.71 314.8,737.68 315.5,737.78 316.2,737.77 316.9,737.39 317.6,737.41 318.3,737.53 319,737.25 319.7,737.11 320.4,737.16 321.1,736.64 321.8,736.56 322.5,736.96 323.2,737.12 323.9,737.05 324.6,737.47 325.3,737.61 326,737.62 326.7,737.44 327.4,737.81 328.1,737.82 328.8,737.71 329.5,737.46 330.2,737.67 330.9,737.35 331.6,737.01 332.3,737.15 333,737.52 333.7,737.38 334.4,737.45 335.1,737.31 335.8,737.12 336.5,737.13 337.2,737.42 337.9,737.58 338.6,737.68 339.3,737.83 340,737.77 340.7,737.77 341.4,737.78 342.1,737.86 342.8,737.72 343.5,737.43 344.2,737.48 344.9,737.33 345.6,737.03 346.3,737.23 347,737.61 347.7,737.33 348.4,737.17 349.1,737.66 349.8,737.79 350.5,737.72 351.2,737.82 351.9,738.01 352.6,738 353.3,737.92 354,737.7 354.7,737.62 355.4,737.54 356.1,737.03 356.8,737.12 357.5,737.58 358.2,737.76 358.9,737.85 359.6,738.05 359.9,738.08 359.9,738.5" fill="#d06078" stroke="none" stroke-width="0" />
<polyline points="118.1,735.55 118.8,735.45 119.5,734.64 120.2,733.76 120.9,733.27 121.6,733.94 122.3,734.92 123,735.74 123.7,736.88 124.4,737.43 125.1,737.51 125.8,737.34 126.5,737.38 127.2,737.1 127.9,737.27 128.6,737.27 129.3,737.28 130,737.42 130.7,737.51 131.4,737.47 132.1,737.35 132.8,737.54 133.5,737.74 134.2,737.67 134.9,737.81 135.6,737.79 136.3,737.57 137,737.21 137.7,737.4 138.4,737.22 139.1,737 139.8,737.29 140.5,737.19 141.2,737.22 141.9,736.95 142.6,737.48 143.3,737.31 144,737.41 144.7,737.21 145.4,737.33 146.1,736.76 146.8,736.5 147.5,736.97 148.2,736.98 148.9,737.32 149.6,737.51 150.3,737.63 151,737.32 151.7,736.88 152.4,736.51 153.1,736.46 153.8,736.69 154.5,736.89 155.2,737.41 155.9,737.69 156.6,737.69 157.3,737.43 158,737.54 158.7,737.39 159.4,737.12 160.1,737.05 160.8,737.31 161.5,737.18 162.2,737.08 162.9,736.86 163.6,736.73 164.3,736.3 165,736.57 165.7,736.71 166.4,736.8 167.1,737.02 167.8,737.5 168.5,737.28 169.2,737.46 169.9,737.59 170.6,737.64 171.3,737.61 172,737.76 172.7,737.59 173.4,737.43 174.1,737.34 174.8,737.21 175.5,737.22 176.2,736.98 176.9,737.1 177.6,736.94 178.3,737.14 179,737.06 179.7,737.5 180.4,737.71 181.1,737.89 181.8,737.84 182.5,738 183.2,738 183.9,737.99 184.6,738 185.3,737.84 186,737.84 186.7,737.84 187.4,737.9 188.1,737.81 188.8,737.98 189.5,737.86 190.2,737.84 190.9,737.79 191.6,737.8 192.3,737.85 193,737.73 193.7,737.59 194.4,737.49 195.1,737.46 195.8,736.92 196.5,737.18 197.2,737.28 197.9,737.38 198.6,737.47 199.3,737.56 200,737.5 200.7,737.56 201.4,737.19 202.1,737.33 202.8,737.55 203.5,737.47 204.2,737.1 204.9,737.36 205.6,737.43 206.3,737.32 207,737.51 207.7,737.87 208.4,737.9 209.1,737.57 209.8,737.79 210.5,737.87 211.2,737.83 211.9,737.65 212.6,737.87 213.3,737.62 214,737.37 214.7,737.45 215.4,737.63 216.1,737.71 216.8,737.66 217.5,737.74 218.2,737.58 218.9,737.39 219.6,736.96 220.3,737.41 221,737.6 221.7,737.63 222.4,737.82 223.1,737.94 223.8,737.83 224.5,737.45 225.2,737.26 225.9,736.83 226.6,736.69 227.3,736.84 228,737.12 228.7,737.42 229.4,737.61 230.1,737.8 230.8,737.5 231.5,737.62 232.2,737.24 232.9,737.44 233.6,737.41 234.3,737.73 235,737.5 235.7,737.52 236.4,737.19 237.1,736.73 237.8,735.94 238.5,733.88 239.2,729.49 239.9,723.2 240.6,718.88 241.3,719.06 242,724.12 242.7,730.18 243.4,734.71 244.1,736.82 244.8,737.75 245.5,737.62 246.2,737.66 246.9,737.88 247.6,737.69 248.3,737.22 249,737.42 249.7,737.55 250.4,737.33 251.1,737.39 251.8,737.74 252.5,737.79 253.2,737.48 253.9,737.35 254.6,737.22 255.3,736.73 256,736.65 256.7,736.46 257.4,736.88 258.1,737.09 258.8,737.26 259.5,736.98 260.2,737.23 260.9,736.81 261.6,736.12 262.3,735.76 263,736.03 263.7,736.27 264.4,736.86 265.1,737.39 265.8,737.47 266.5,737.55 267.2,737.63 267.9,737.31 268.6,737.22 269.3,737.24 270,737.02 270.7,736.55 271.4,736.58 272.1,736.57 272.8,736.73 273.5,736.48 274.2,736.93 274.9,737.11 275.6,736.94 276.3,736.36 277,735.5 277.7,734.35 278.4,733.28 279.1,732.24 279.8,731.33 280.5,730.62 281.2,730.69 281.9,730.12 282.6,729.34 283.3,729.1 284,729.14 284.7,729.5 285.4,730.64 286.1,732.23 286.8,733.46 287.5,734.48 288.2,734.23 288.9,732.67 289.6,729.63 290.3,725.43 291,721.77 291.7,720.09 292.4,721.09 293.1,724.49 293.8,728.71 294.5,731.38 295.2,733.1 295.9,733.27 296.6,733.41 297.3,734.35 298,736.07 298.7,736.88 299.4,737.38 300.1,737.13 300.8,737.44 301.5,737.43 302.2,737.8 302.9,737.9 303.6,738.06 304.3,737.98 305,737.9 305.7,737.64 306.4,737.55 307.1,737.33 307.8,737.09 308.5,737.23 309.2,737.5 309.9,737.53 310.6,737.33 311.3,737.52 312,737.43 312.7,737.29 313.4,737.35 314.1,737.71 314.8,737.68 315.5,737.78 316.2,737.77 316.9,737.39 317.6,737.41 318.3,737.53 319,737.25 319.7,737.11 320.4,737.16 321.1,736.64 321.8,736.56 322.5,736.96 323.2,737.12 323.9,737.05 324.6,737.47 325.3,737.61 326,737.62 326.7,737.44 327.4,737.81 328.1,737.82 328.8,737.71 329.5,737.46 330.2,737.67 330.9,737.35 331.6,737.01 332.3,737.15 333,737.52 333.7,737.38 334.4,737.45 335.1,737.31 335.8,737.12 336.5,737.13 337.2,737.42 337.9,737.58 338.6,737.68 339.3,737.83 340,737.77 340.7,737.77 341.4,737.78 342.1,737.86 342.8,737.72 343.5,737.43 344.2,737.48 344.9,737.33 345.6,737.03 346.3,737.23 347,737.61 347.7,737.33 348.4,737.17 349.1,737.66 349.8,737.79 350.5,737.72 351.2,737.82 351.9,738.01 352.6,738 353.3,737.92 354,737.7 354.7,737.62 355.4,737.54 356.1,737.03 356.8,737.12 357.5,737.58 358.2,737.76 358.9,737.85 359.6,738.05 359.9,738.08" fill="none" stroke="#c82048" stroke-width="1.25" stroke-linejoin="round"/>
<polygon points="412.1,738.5 412.1,736.47 412.8,736.07 413.5,735.8 414.2,736.03 414.9,736.28 415.6,737.01 416.3,737.02 417,737.45 417.7,737.65 418.4,737.69 419.1,737.29 419.8,737.35 420.5,736.87 421.2,736.81 421.9,737.14 422.6,737.53 423.3,737.79 424,737.98 424.7,737.95 425.4,737.9 426.1,737.89 426.8,737.68 427.5,737.36 428.2,737.45 428.9,737.37 429.6,737.13 430.3,737.56 431,737.51 431.7,737.27 432.4,737.32 433.1,737.49 433.8,736.97 434.5,737.24 435.2,737.32 435.9,737 436.6,737.15 437.3,737.4 438,737.17 438.7,736.9 439.4,737.02 440.1,736.53 440.8,736.77 441.5,736.96 442.2,737.18 442.9,737.03 443.6,736.95 444.3,736.77 445,736.67 445.7,736.78 446.4,737.18 447.1,737.33 447.8,737.03 448.5,737.05 449.2,737.16 449.9,737.36 450.6,737.23 451.3,737.43 452,737.53 452.7,737.26 453.4,736.65 454.1,736.82 454.8,736.76 455.5,736.85 456.2,736.86 456.9,737 457.6,737.11 458.3,736.87 459,736.93 459.7,736.78 460.4,736.58 461.1,736.44 461.8,736.88 462.5,736.76 463.2,737.12 463.9,737.24 464.6,737.23 465.3,737.36 466,737.44 466.7,737.22 467.4,737.57 468.1,737.58 468.8,737.38 469.5,737.49 470.2,737.68 470.9,737.31 471.6,737.64 472.3,737.67 473,737.25 473.7,737.29 474.4,737.36 475.1,737.18 475.8,736.88 476.5,736.91 477.2,736.57 477.9,737 478.6,736.61 479.3,737.04 480,737.13 480.7,737.18 481.4,736.91 482.1,737.26 482.8,736.99 483.5,736.87 484.2,736.71 484.9,736.55 485.6,736.65 486.3,737.03 487,737.17 487.7,737.36 488.4,737.22 489.1,736.82 489.8,735.81 490.5,735.4 491.2,733.79 491.9,732.64 492.6,731.09 493.3,730.49 494,730.18 494.7,731.41 495.4,732.56 496.1,734.01 496.8,735.41 497.5,736.2 498.2,736.62 498.9,736.91 499.6,737.23 500.3,737.06 501,737.4 501.7,737.47 502.4,737.37 503.1,737.55 503.8,737.53 504.5,737.38 505.2,737.34 505.9,737.64 506.6,737.36 507.3,737.64 508,737.69 508.7,737.83 509.4,737.76 510.1,737.97 510.8,737.87 511.5,737.81 512.2,737.8 512.9,737.92 513.6,737.82 514.3,737.66 515,737.66 515.7,737.43 516.4,737.37 517.1,737.14 517.8,737.61 518.5,737.37 519.2,737.37 519.9,737.25 520.6,737.19 521.3,737.11 522,737.47 522.7,737.37 523.4,737.09 524.1,737.43 524.8,737.43 525.5,737.23 526.2,737.38 526.9,737.21 527.6,736.3 528.3,734.47 529,732.14 529.7,728.05 530.4,724.02 531.1,721.48 531.8,720.83 532.5,723.28 533.2,726.9 533.9,729.9 534.6,730.78 535.3,730.96 536,731.04 536.7,732.25 537.4,733.88 538.1,735.11 538.8,735.16 539.5,735.17 540.2,735.51 540.9,735.78 541.6,736.35 542.3,737.04 543,737.31 543.7,737.4 544.4,737.51 545.1,737.29 545.8,737.24 546.5,737.06 547.2,737.22 547.9,737.11 548.6,737.55 549.3,737.74 550,737.8 550.7,737.53 551.4,737.51 552.1,737.37 552.8,737.38 553.5,737.25 554.2,737.33 554.9,737.63 555.6,737.37 556.3,737.42 557,737.8 557.7,737.87 558.4,737.52 559.1,737.78 559.8,737.71 560.5,737.4 561.2,737.25 561.9,737.21 562.6,737.11 563.3,736.99 564,737.08 564.7,737.43 565.4,737.75 566.1,737.64 566.8,737.71 567.5,737.58 568.2,737.44 568.9,737.48 569.6,737.7 570.3,737.69 571,737.85 571.7,737.72 572.4,737.35 573.1,737.28 573.8,737.17 574.5,736.95 575.2,737.21 575.9,737.58 576.6,737.42 577.3,737.6 578,737.54 578.7,737.62 579.4,737.63 580.1,737.7 580.8,737.65 581.5,737.93 582.2,737.64 582.9,737.54 583.6,737.5 584.3,737.05 585,736.6 585.7,736.78 586.4,736.58 587.1,736.27 587.8,736.35 588.5,736.73 589.2,736.75 589.9,737.11 590.6,737.64 591.3,737.85 592,737.61 592.7,737.79 593.4,737.47 594.1,736.93 594.8,736.52 595.5,736.71 596.2,736.64 596.9,736.41 597.6,736.69 598.3,736.41 599,735.95 599.7,735.57 600.4,735.68 601.1,735.43 601.8,735.97 602.5,736.34 603.2,736.56 603.9,736.69 604.6,736.85 605.3,736.9 606,736.84 606.7,736.78 607.4,737.27 608.1,737.29 608.8,737.19 609.5,737.45 610.2,737.58 610.9,737.3 611.6,737.29 612.3,737.54 613,737.34 613.7,737.18 614.4,737.52 615.1,737.4 615.8,737.02 616.5,737.42 617.2,737.47 617.9,737.52 618.6,737.55 619.3,737.68 620,737.52 620.7,737.45 621.4,736.89 622.1,737.22 622.8,737.38 623.5,737.22 624.2,737.13 624.9,737.46 625.6,737.29 626.3,737.2 627,737.51 627.7,737.59 628.4,737.71 629.1,737.83 629.8,737.84 630.5,737.62 631.2,737.61 631.9,737.42 632.6,737.47 633.3,737.21 634,737.47 634.7,737.55 635.4,737.75 636.1,737.47 636.8,737.53 637.5,737.53 638.2,737.62 638.9,737.56 639.6,737.5 640.3,737.49 641,737.1 641.7,736.78 642.4,736.45 643.1,735.99 643.8,735.55 644.5,735.3 645.2,735.32 645.9,735.27 646.6,736.04 647.3,736.68 648,737.04 648.7,737.1 649.4,737.48 650.1,737.48 650.8,737.27 651.5,737.44 651.9,737.69 651.9,738.5" fill="#d06078" stroke="none" stroke-width="0" />
<polyline points="412.1,736.47 412.8,736.07 413.5,735.8 414.2,736.03 414.9,736.28 415.6,737.01 416.3,737.02 417,737.45 417.7,737.65 418.4,737.69 419.1,737.29 419.8,737.35 420.5,736.87 421.2,736.81 421.9,737.14 422.6,737.53 423.3,737.79 424,737.98 424.7,737.95 425.4,737.9 426.1,737.89 426.8,737.68 427.5,737.36 428.2,737.45 428.9,737.37 429.6,737.13 430.3,737.56 431,737.51 431.7,737.27 432.4,737.32 433.1,737.49 433.8,736.97 434.5,737.24 435.2,737.32 435.9,737 436.6,737.15 437.3,737.4 438,737.17 438.7,736.9 439.4,737.02 440.1,736.53 440.8,736.77 441.5,736.96 442.2,737.18 442.9,737.03 443.6,736.95 444.3,736.77 445,736.67 445.7,736.78 446.4,737.18 447.1,737.33 447.8,737.03 448.5,737.05 449.2,737.16 449.9,737.36 450.6,737.23 451.3,737.43 452,737.53 452.7,737.26 453.4,736.65 454.1,736.82 454.8,736.76 455.5,736.85 456.2,736.86 456.9,737 457.6,737.11 458.3,736.87 459,736.93 459.7,736.78 460.4,736.58 461.1,736.44 461.8,736.88 462.5,736.76 463.2,737.12 463.9,737.24 464.6,737.23 465.3,737.36 466,737.44 466.7,737.22 467.4,737.57 468.1,737.58 468.8,737.38 469.5,737.49 470.2,737.68 470.9,737.31 471.6,737.64 472.3,737.67 473,737.25 473.7,737.29 474.4,737.36 475.1,737.18 475.8,736.88 476.5,736.91 477.2,736.57 477.9,737 478.6,736.61 479.3,737.04 480,737.13 480.7,737.18 481.4,736.91 482.1,737.26 482.8,736.99 483.5,736.87 484.2,736.71 484.9,736.55 485.6,736.65 486.3,737.03 487,737.17 487.7,737.36 488.4,737.22 489.1,736.82 489.8,735.81 490.5,735.4 491.2,733.79 491.9,732.64 492.6,731.09 493.3,730.49 494,730.18 494.7,731.41 495.4,732.56 496.1,734.01 496.8,735.41 497.5,736.2 498.2,736.62 498.9,736.91 499.6,737.23 500.3,737.06 501,737.4 501.7,737.47 502.4,737.37 503.1,737.55 503.8,737.53 504.5,737.38 505.2,737.34 505.9,737.64 506.6,737.36 507.3,737.64 508,737.69 508.7,737.83 509.4,737.76 510.1,737.97 510.8,737.87 511.5,737.81 512.2,737.8 512.9,737.92 513.6,737.82 514.3,737.66 515,737.66 515.7,737.43 516.4,737.37 517.1,737.14 517.8,737.61 518.5,737.37 519.2,737.37 519.9,737.25 520.6,737.19 521.3,737.11 522,737.47 522.7,737.37 523.4,737.09 524.1,737.43 524.8,737.43 525.5,737.23 526.2,737.38 526.9,737.21 527.6,736.3 528.3,734.47 529,732.14 529.7,728.05 530.4,724.02 531.1,721.48 531.8,720.83 532.5,723.28 533.2,726.9 533.9,729.9 534.6,730.78 535.3,730.96 536,731.04 536.7,732.25 537.4,733.88 538.1,735.11 538.8,735.16 539.5,735.17 540.2,735.51 540.9,735.78 541.6,736.35 542.3,737.04 543,737.31 543.7,737.4 544.4,737.51 545.1,737.29 545.8,737.24 546.5,737.06 547.2,737.22 547.9,737.11 548.6,737.55 549.3,737.74 550,737.8 550.7,737.53 551.4,737.51 552.1,737.37 552.8,737.38 553.5,737.25 554.2,737.33 554.9,737.63 555.6,737.37 556.3,737.42 557,737.8 557.7,737.87 558.4,737.52 559.1,737.78 559.8,737.71 560.5,737.4 561.2,737.25 561.9,737.21 562.6,737.11 563.3,736.99 564,737.08 564.7,737.43 565.4,737.75 566.1,737.64 566.8,737.71 567.5,737.58 568.2,737.44 568.9,737.48 569.6,737.7 570.3,737.69 571,737.85 571.7,737.72 572.4,737.35 573.1,737.28 573.8,737.17 574.5,736.95 575.2,737.21 575.9,737.58 576.6,737.42 577.3,737.6 578,737.54 578.7,737.62 579.4,737.63 580.1,737.7 580.8,737.65 581.5,737.93 582.2,737.64 582.9,737.54 583.6,737.5 584.3,737.05 585,736.6 585.7,736.78 586.4,736.58 587.1,736.27 587.8,736.35 588.5,736.73 589.2,736.75 589.9,737.11 590.6,737.64 591.3,737.85 592,737.61 592.7,737.79 593.4,737.47 594.1,736.93 594.8,736.52 595.5,736.71 596.2,736.64 596.9,736.41 597.6,736.69 598.3,736.41 599,735.95 599.7,735.57 600.4,735.68 601.1,735.43 601.8,735.97 602.5,736.34 603.2,736.56 603.9,736.69 604.6,736.85 605.3,736.9 606,736.84 606.7,736.78 607.4,737.27 608.1,737.29 608.8,737.19 609.5,737.45 610.2,737.58 610.9,737.3 611.6,737.29 612.3,737.54 613,737.34 613.7,737.18 614.4,737.52 615.1,737.4 615.8,737.02 616.5,737.42 617.2,737.47 617.9,737.52 618.6,737.55 619.3,737.68 620,737.52 620.7,737.45 621.4,736.89 622.1,737.22 622.8,737.38 623.5,737.22 624.2,737.13 624.9,737.46 625.6,737.29 626.3,737.2 627,737.51 627.7,737.59 628.4,737.71 629.1,737.83 629.8,737.84 630.5,737.62 631.2,737.61 631.9,737.42 632.6,737.47 633.3,737.21 634,737.47 634.7,737.55 635.4,737.75 636.1,737.47 636.8,737.53 637.5,737.53 638.2,737.62 638.9,737.56 639.6,737.5 640.3,737.49 641,737.1 641.7,736.78 642.4,736.45 643.1,735.99 643.8,735.55 644.5,735.3 645.2,735.32 645.9,735.27 646.6,736.04 647.3,736.68 648,737.04 648.7,737.1 649.4,737.48 650.1,737.48 650.8,737.27 651.5,737.44 651.9,737.69" fill="none" stroke="#c82048" stroke-width="1.25" stroke-linejoin="round"/>
<text x="103.6" y="731.8" font-size="11" text-anchor="end" fill="#231f20" stroke="#231f20" stroke-width="0.12">Ery diff. D8</text>
<polygon points="118.1,764.5 118.1,762.91 118.8,762.65 119.5,762.96 120.2,763.04 120.9,763.05 121.6,763.42 122.3,763.71 123,763.51 123.7,763.78 124.4,763.65 125.1,763.56 125.8,763.64 126.5,763.77 127.2,763.68 127.9,763.76 128.6,763.53 129.3,763.1 130,763.23 130.7,762.82 131.4,762.71 132.1,762.65 132.8,762.73 133.5,762.49 134.2,763.04 134.9,762.82 135.6,762.79 136.3,762.93 137,763.2 137.7,762.81 138.4,762.93 139.1,763.01 139.8,762.76 140.5,762.04 141.2,762.12 141.9,762.44 142.6,762.72 143.3,763.06 144,763.2 144.7,763.26 145.4,762.98 146.1,763 146.8,762.94 147.5,762.79 148.2,762.66 148.9,762.58 149.6,762.43 150.3,762.8 151,763.17 151.7,763.46 152.4,763.76 153.1,763.94 153.8,763.95 154.5,763.93 155.2,763.77 155.9,763.51 156.6,763.01 157.3,762.67 158,763.01 158.7,763.37 159.4,763.75 160.1,763.79 160.8,763.88 161.5,763.61 162.2,763.48 162.9,763.18 163.6,763.19 164.3,762.97 165,763.38 165.7,763.27 166.4,763.4 167.1,763.33 167.8,763.54 168.5,763.45 169.2,763.29 169.9,763.26 170.6,763.71 171.3,763.46 172,763.06 172.7,763.33 173.4,763.46 174.1,762.99 174.8,763.28 175.5,763.63 176.2,763.81 176.9,763.5 177.6,763.78 178.3,763.85 179,763.81 179.7,763.54 180.4,763.48 181.1,763.5 181.8,763.22 182.5,763.27 183.2,763.18 183.9,763.47 184.6,763.2 185.3,763.06 186,762.88 186.7,763.14 187.4,763.42 188.1,763.67 188.8,763.73 189.5,763.63 190.2,763.59 190.9,763.57 191.6,763.26 192.3,763.16 193,763.1 193.7,762.98 194.4,762.52 195.1,762.83 195.8,763.16 196.5,763.53 197.2,763.59 197.9,763.73 198.6,763.52 199.3,763.58 200,763.55 200.7,763.78 201.4,763.81 202.1,763.82 202.8,763.57 203.5,763.22 204.2,763.25 204.9,762.99 205.6,763.13 206.3,763.41 207,763.4 207.7,763.01 208.4,763.24 209.1,763.07 209.8,763.01 210.5,763.31 211.2,763.42 211.9,763.33 212.6,763.72 213.3,763.56 214,763.63 214.7,763.65 215.4,763.77 216.1,763.53 216.8,763.84 217.5,763.92 218.2,763.98 218.9,763.77 219.6,763.73 220.3,763.43 221,763.39 221.7,763.26 222.4,763.34 223.1,763.3 223.8,763.45 224.5,763.46 225.2,763.5 225.9,763.39 226.6,763.3 227.3,763.21 228,763.03 228.7,762.87 229.4,763.13 230.1,763.38 230.8,763.25 231.5,763.11 232.2,763.41 232.9,763.31 233.6,763.07 234.3,763.12 235,762.4 235.7,761.21 236.4,761.3 237.1,761.9 237.8,761.71 238.5,760.29 239.2,756.83 239.9,752.46 240.6,749.25 241.3,749.74 242,753.39 242.7,758.11 243.4,761.2 244.1,762.49 244.8,762.92 245.5,763.24 246.2,763.44 246.9,763.62 247.6,763.64 248.3,763.67 249,763.55 249.7,763.19 250.4,763.15 251.1,763.42 251.8,763.3 252.5,763.38 253.2,763.71 253.9,763.51 254.6,763.71 255.3,763.84 256,763.66 256.7,763.47 257.4,763.66 258.1,763.44 258.8,763.21 259.5,763.51 260.2,763.65 260.9,763.68 261.6,763.63 262.3,763.69 263,763.54 263.7,763.71 264.4,763.41 265.1,763.69 265.8,763.63 266.5,763.72 267.2,763.69 267.9,763.69 268.6,763.49 269.3,763.63 270,763.65 270.7,763.62 271.4,763.77 272.1,763.51 272.8,762.99 273.5,762.88 274.2,762.22 274.9,761.72 275.6,761.2 276.3,760.83 277,760.01 277.7,759.41 278.4,758.63 279.1,758.49 279.8,758.34 280.5,758.15 281.2,758.09 281.9,758.13 282.6,757.71 283.3,757.54 284,757.44 284.7,757.28 285.4,757.58 286.1,758.52 286.8,759.09 287.5,759.57 288.2,759.2 288.9,757.42 289.6,754.17 290.3,749.65 291,744.63 291.7,741.3 292.4,741.3 293.1,742.22 293.8,745.91 294.5,750.41 295.2,753.26 295.9,754.1 296.6,754.45 297.3,755.45 298,757.84 298.7,760.39 299.4,762.33 300.1,763.2 300.8,763.73 301.5,763.52 302.2,763.6 302.9,763.64 303.6,763.75 304.3,763.43 305,763.39 305.7,763.48 306.4,763.48 307.1,763.39 307.8,763.71 308.5,763.73 309.2,763.54 309.9,763.26 310.6,763 311.3,762.9 312,762.93 312.7,763.26 313.4,763.44 314.1,763.53 314.8,763.65 315.5,763.84 316.2,763.68 316.9,763.85 317.6,763.97 318.3,763.82 319,763.53 319.7,763.5 320.4,762.98 321.1,762.68 321.8,763.04 322.5,763.47 323.2,763.39 323.9,763.1 324.6,762.37 325.3,761.23 326,760.65 326.7,760.68 327.4,761.55 328.1,762.58 328.8,763.19 329.5,763.49 330.2,763.51 330.9,763.38 331.6,763.35 332.3,763.56 333,763.55 333.7,763.87 334.4,764.02 335.1,763.83 335.8,763.5 336.5,763.43 337.2,762.89 337.9,762.89 338.6,762.86 339.3,763.1 340,762.98 340.7,763.36 341.4,763.46 342.1,763.67 342.8,763.65 343.5,763.61 344.2,763.35 344.9,762.75 345.6,763.11 346.3,763.08 347,763.44 347.7,763.4 348.4,763.6 349.1,763.61 349.8,763.73 350.5,763.37 351.2,763.35 351.9,763.12 352.6,762.76 353.3,762.54 354,762.66 354.7,762.95 355.4,763.06 356.1,763.28 356.8,763.52 357.5,763.55 358.2,763.43 358.9,763.31 359.6,763.01 359.9,762.49 359.9,764.5" fill="#b05068" stroke="none" stroke-width="0" />
<polyline points="118.1,762.91 118.8,762.65 119.5,762.96 120.2,763.04 120.9,763.05 121.6,763.42 122.3,763.71 123,763.51 123.7,763.78 124.4,763.65 125.1,763.56 125.8,763.64 126.5,763.77 127.2,763.68 127.9,763.76 128.6,763.53 129.3,763.1 130,763.23 130.7,762.82 131.4,762.71 132.1,762.65 132.8,762.73 133.5,762.49 134.2,763.04 134.9,762.82 135.6,762.79 136.3,762.93 137,763.2 137.7,762.81 138.4,762.93 139.1,763.01 139.8,762.76 140.5,762.04 141.2,762.12 141.9,762.44 142.6,762.72 143.3,763.06 144,763.2 144.7,763.26 145.4,762.98 146.1,763 146.8,762.94 147.5,762.79 148.2,762.66 148.9,762.58 149.6,762.43 150.3,762.8 151,763.17 151.7,763.46 152.4,763.76 153.1,763.94 153.8,763.95 154.5,763.93 155.2,763.77 155.9,763.51 156.6,763.01 157.3,762.67 158,763.01 158.7,763.37 159.4,763.75 160.1,763.79 160.8,763.88 161.5,763.61 162.2,763.48 162.9,763.18 163.6,763.19 164.3,762.97 165,763.38 165.7,763.27 166.4,763.4 167.1,763.33 167.8,763.54 168.5,763.45 169.2,763.29 169.9,763.26 170.6,763.71 171.3,763.46 172,763.06 172.7,763.33 173.4,763.46 174.1,762.99 174.8,763.28 175.5,763.63 176.2,763.81 176.9,763.5 177.6,763.78 178.3,763.85 179,763.81 179.7,763.54 180.4,763.48 181.1,763.5 181.8,763.22 182.5,763.27 183.2,763.18 183.9,763.47 184.6,763.2 185.3,763.06 186,762.88 186.7,763.14 187.4,763.42 188.1,763.67 188.8,763.73 189.5,763.63 190.2,763.59 190.9,763.57 191.6,763.26 192.3,763.16 193,763.1 193.7,762.98 194.4,762.52 195.1,762.83 195.8,763.16 196.5,763.53 197.2,763.59 197.9,763.73 198.6,763.52 199.3,763.58 200,763.55 200.7,763.78 201.4,763.81 202.1,763.82 202.8,763.57 203.5,763.22 204.2,763.25 204.9,762.99 205.6,763.13 206.3,763.41 207,763.4 207.7,763.01 208.4,763.24 209.1,763.07 209.8,763.01 210.5,763.31 211.2,763.42 211.9,763.33 212.6,763.72 213.3,763.56 214,763.63 214.7,763.65 215.4,763.77 216.1,763.53 216.8,763.84 217.5,763.92 218.2,763.98 218.9,763.77 219.6,763.73 220.3,763.43 221,763.39 221.7,763.26 222.4,763.34 223.1,763.3 223.8,763.45 224.5,763.46 225.2,763.5 225.9,763.39 226.6,763.3 227.3,763.21 228,763.03 228.7,762.87 229.4,763.13 230.1,763.38 230.8,763.25 231.5,763.11 232.2,763.41 232.9,763.31 233.6,763.07 234.3,763.12 235,762.4 235.7,761.21 236.4,761.3 237.1,761.9 237.8,761.71 238.5,760.29 239.2,756.83 239.9,752.46 240.6,749.25 241.3,749.74 242,753.39 242.7,758.11 243.4,761.2 244.1,762.49 244.8,762.92 245.5,763.24 246.2,763.44 246.9,763.62 247.6,763.64 248.3,763.67 249,763.55 249.7,763.19 250.4,763.15 251.1,763.42 251.8,763.3 252.5,763.38 253.2,763.71 253.9,763.51 254.6,763.71 255.3,763.84 256,763.66 256.7,763.47 257.4,763.66 258.1,763.44 258.8,763.21 259.5,763.51 260.2,763.65 260.9,763.68 261.6,763.63 262.3,763.69 263,763.54 263.7,763.71 264.4,763.41 265.1,763.69 265.8,763.63 266.5,763.72 267.2,763.69 267.9,763.69 268.6,763.49 269.3,763.63 270,763.65 270.7,763.62 271.4,763.77 272.1,763.51 272.8,762.99 273.5,762.88 274.2,762.22 274.9,761.72 275.6,761.2 276.3,760.83 277,760.01 277.7,759.41 278.4,758.63 279.1,758.49 279.8,758.34 280.5,758.15 281.2,758.09 281.9,758.13 282.6,757.71 283.3,757.54 284,757.44 284.7,757.28 285.4,757.58 286.1,758.52 286.8,759.09 287.5,759.57 288.2,759.2 288.9,757.42 289.6,754.17 290.3,749.65 291,744.63 291.7,741.3 292.4,741.3 293.1,742.22 293.8,745.91 294.5,750.41 295.2,753.26 295.9,754.1 296.6,754.45 297.3,755.45 298,757.84 298.7,760.39 299.4,762.33 300.1,763.2 300.8,763.73 301.5,763.52 302.2,763.6 302.9,763.64 303.6,763.75 304.3,763.43 305,763.39 305.7,763.48 306.4,763.48 307.1,763.39 307.8,763.71 308.5,763.73 309.2,763.54 309.9,763.26 310.6,763 311.3,762.9 312,762.93 312.7,763.26 313.4,763.44 314.1,763.53 314.8,763.65 315.5,763.84 316.2,763.68 316.9,763.85 317.6,763.97 318.3,763.82 319,763.53 319.7,763.5 320.4,762.98 321.1,762.68 321.8,763.04 322.5,763.47 323.2,763.39 323.9,763.1 324.6,762.37 325.3,761.23 326,760.65 326.7,760.68 327.4,761.55 328.1,762.58 328.8,763.19 329.5,763.49 330.2,763.51 330.9,763.38 331.6,763.35 332.3,763.56 333,763.55 333.7,763.87 334.4,764.02 335.1,763.83 335.8,763.5 336.5,763.43 337.2,762.89 337.9,762.89 338.6,762.86 339.3,763.1 340,762.98 340.7,763.36 341.4,763.46 342.1,763.67 342.8,763.65 343.5,763.61 344.2,763.35 344.9,762.75 345.6,763.11 346.3,763.08 347,763.44 347.7,763.4 348.4,763.6 349.1,763.61 349.8,763.73 350.5,763.37 351.2,763.35 351.9,763.12 352.6,762.76 353.3,762.54 354,762.66 354.7,762.95 355.4,763.06 356.1,763.28 356.8,763.52 357.5,763.55 358.2,763.43 358.9,763.31 359.6,763.01 359.9,762.49" fill="none" stroke="#a0103a" stroke-width="1.25" stroke-linejoin="round"/>
<polygon points="412.1,764.5 412.1,761.96 412.8,761.51 413.5,761.14 414.2,761.47 414.9,761.82 415.6,762.37 416.3,763.01 417,763.28 417.7,763.37 418.4,763.4 419.1,763.32 419.8,763.26 420.5,763.12 421.2,763.06 421.9,763.07 422.6,763.47 423.3,763.42 424,763.59 424.7,763.61 425.4,763.85 426.1,763.82 426.8,763.7 427.5,763.6 428.2,763.59 428.9,763.42 429.6,763.17 430.3,763.11 431,763.02 431.7,762.85 432.4,763.07 433.1,763.1 433.8,763.09 434.5,763.09 435.2,762.78 435.9,762.82 436.6,763.09 437.3,762.93 438,763.42 438.7,763.57 439.4,763.64 440.1,763.45 440.8,763.56 441.5,763.15 442.2,763.34 442.9,763.17 443.6,762.97 444.3,763.11 445,763.58 445.7,763.59 446.4,763.67 447.1,763.69 447.8,763.64 448.5,763.65 449.2,763.57 449.9,763.29 450.6,763.24 451.3,763.2 452,762.87 452.7,762.88 453.4,762.74 454.1,763.01 454.8,763.31 455.5,763.46 456.2,763.52 456.9,763.76 457.6,763.83 458.3,763.78 459,763.55 459.7,763.65 460.4,763.76 461.1,763.78 461.8,763.85 462.5,763.81 463.2,763.52 463.9,763.12 464.6,763.26 465.3,762.94 466,763.11 466.7,763.48 467.4,763.73 468.1,763.5 468.8,763.63 469.5,763.77 470.2,763.63 470.9,763.37 471.6,763.22 472.3,762.91 473,762.6 473.7,762.86 474.4,762.97 475.1,763.31 475.8,763.48 476.5,763.69 477.2,763.33 477.9,763.42 478.6,763.28 479.3,763.43 480,763.35 480.7,763.52 481.4,763.68 482.1,763.45 482.8,763.34 483.5,763.49 484.2,763.36 484.9,763.39 485.6,763.52 486.3,763.57 487,763.15 487.7,763.41 488.4,762.55 489.1,761.71 489.8,759.87 490.5,757.81 491.2,754.95 491.9,753 492.6,752.54 493.3,753.58 494,755.91 494.7,758.34 495.4,760.44 496.1,761.89 496.8,762.87 497.5,763.41 498.2,763.79 498.9,764 499.6,763.79 500.3,763.8 501,763.67 501.7,763.38 502.4,763.29 503.1,763.72 503.8,763.86 504.5,763.93 505.2,764.03 505.9,764.02 506.6,763.95 507.3,763.88 508,763.59 508.7,763.47 509.4,763.11 510.1,763.02 510.8,762.87 511.5,762.8 512.2,763.12 512.9,763.07 513.6,762.86 514.3,763.19 515,763.68 515.7,763.55 516.4,763.83 517.1,763.9 517.8,763.81 518.5,763.52 519.2,763.44 519.9,763.4 520.6,763.6 521.3,763.45 522,763.7 522.7,763.7 523.4,763.76 524.1,763.59 524.8,763.58 525.5,763.42 526.2,763.21 526.9,762.66 527.6,762.4 528.3,760.87 529,757.75 529.7,753.08 530.4,747.73 531.1,743.14 531.8,742.15 532.5,744.67 533.2,749.53 533.9,753.38 534.6,755.4 535.3,755.54 536,756.18 536.7,757.94 537.4,760.11 538.1,762.06 538.8,763.28 539.5,763.77 540.2,763.85 540.9,763.88 541.6,763.5 542.3,763.58 543,763.54 543.7,763.05 544.4,762.89 545.1,762.98 545.8,762.59 546.5,762.63 547.2,763.28 547.9,763.67 548.6,763.78 549.3,763.99 550,763.86 550.7,763.87 551.4,763.53 552.1,763.45 552.8,763.03 553.5,763.21 554.2,762.7 554.9,762.77 555.6,762.83 556.3,763.03 557,762.9 557.7,762.87 558.4,763.4 559.1,763.41 559.8,763.57 560.5,763.61 561.2,763.9 561.9,763.61 562.6,763.7 563.3,763.48 564,763.42 564.7,763.18 565.4,763.45 566.1,763.22 566.8,763.38 567.5,763.46 568.2,763.45 568.9,763.52 569.6,763.45 570.3,763.16 571,762.86 571.7,763 572.4,762.64 573.1,762.7 573.8,762.85 574.5,762.85 575.2,762.83 575.9,762.77 576.6,763.15 577.3,763.1 578,763.53 578.7,763.63 579.4,763.74 580.1,763.55 580.8,763.75 581.5,763.5 582.2,763.46 582.9,763.21 583.6,763.45 584.3,763.26 585,763.54 585.7,763.29 586.4,763.73 587.1,763.5 587.8,763.65 588.5,763.46 589.2,763.47 589.9,762.98 590.6,763 591.3,762.55 592,762.45 592.7,762.83 593.4,763.32 594.1,763.57 594.8,763.78 595.5,763.86 596.2,763.7 596.9,763.42 597.6,763.03 598.3,762.59 599,761.97 599.7,761.35 600.4,761.06 601.1,761.34 601.8,761.26 602.5,762.01 603.2,762.33 603.9,762.84 604.6,763 605.3,763.22 606,763.28 606.7,763.5 607.4,763.1 608.1,762.73 608.8,763.02 609.5,762.85 610.2,762.65 610.9,763.03 611.6,762.91 612.3,762.34 613,762.06 613.7,761.54 614.4,761.33 615.1,761.14 615.8,761.67 616.5,761.97 617.2,762.7 617.9,762.99 618.6,763.49 619.3,763.66 620,763.6 620.7,763.51 621.4,763.37 622.1,763.52 622.8,763.13 623.5,763.57 624.2,763.76 624.9,763.68 625.6,763.66 626.3,763.87 627,763.64 627.7,763.32 628.4,763.65 629.1,763.28 629.8,763.36 630.5,763.7 631.2,763.77 631.9,763.6 632.6,763.65 633.3,763.66 634,763.19 634.7,762.92 635.4,763.31 636.1,763.65 636.8,763.2 637.5,763.53 638.2,763.64 638.9,763.48 639.6,763.08 640.3,763.39 641,763.42 641.7,763.64 642.4,763.45 643.1,763.68 643.8,763.45 644.5,763.1 645.2,762.76 645.9,763.1 646.6,762.78 647.3,762.9 648,763.2 648.7,763.57 649.4,763.67 650.1,763.71 650.8,763.96 651.5,764.03 651.9,763.99 651.9,764.5" fill="#b05068" stroke="none" stroke-width="0" />
<polyline points="412.1,761.96 412.8,761.51 413.5,761.14 414.2,761.47 414.9,761.82 415.6,762.37 416.3,763.01 417,763.28 417.7,763.37 418.4,763.4 419.1,763.32 419.8,763.26 420.5,763.12 421.2,763.06 421.9,763.07 422.6,763.47 423.3,763.42 424,763.59 424.7,763.61 425.4,763.85 426.1,763.82 426.8,763.7 427.5,763.6 428.2,763.59 428.9,763.42 429.6,763.17 430.3,763.11 431,763.02 431.7,762.85 432.4,763.07 433.1,763.1 433.8,763.09 434.5,763.09 435.2,762.78 435.9,762.82 436.6,763.09 437.3,762.93 438,763.42 438.7,763.57 439.4,763.64 440.1,763.45 440.8,763.56 441.5,763.15 442.2,763.34 442.9,763.17 443.6,762.97 444.3,763.11 445,763.58 445.7,763.59 446.4,763.67 447.1,763.69 447.8,763.64 448.5,763.65 449.2,763.57 449.9,763.29 450.6,763.24 451.3,763.2 452,762.87 452.7,762.88 453.4,762.74 454.1,763.01 454.8,763.31 455.5,763.46 456.2,763.52 456.9,763.76 457.6,763.83 458.3,763.78 459,763.55 459.7,763.65 460.4,763.76 461.1,763.78 461.8,763.85 462.5,763.81 463.2,763.52 463.9,763.12 464.6,763.26 465.3,762.94 466,763.11 466.7,763.48 467.4,763.73 468.1,763.5 468.8,763.63 469.5,763.77 470.2,763.63 470.9,763.37 471.6,763.22 472.3,762.91 473,762.6 473.7,762.86 474.4,762.97 475.1,763.31 475.8,763.48 476.5,763.69 477.2,763.33 477.9,763.42 478.6,763.28 479.3,763.43 480,763.35 480.7,763.52 481.4,763.68 482.1,763.45 482.8,763.34 483.5,763.49 484.2,763.36 484.9,763.39 485.6,763.52 486.3,763.57 487,763.15 487.7,763.41 488.4,762.55 489.1,761.71 489.8,759.87 490.5,757.81 491.2,754.95 491.9,753 492.6,752.54 493.3,753.58 494,755.91 494.7,758.34 495.4,760.44 496.1,761.89 496.8,762.87 497.5,763.41 498.2,763.79 498.9,764 499.6,763.79 500.3,763.8 501,763.67 501.7,763.38 502.4,763.29 503.1,763.72 503.8,763.86 504.5,763.93 505.2,764.03 505.9,764.02 506.6,763.95 507.3,763.88 508,763.59 508.7,763.47 509.4,763.11 510.1,763.02 510.8,762.87 511.5,762.8 512.2,763.12 512.9,763.07 513.6,762.86 514.3,763.19 515,763.68 515.7,763.55 516.4,763.83 517.1,763.9 517.8,763.81 518.5,763.52 519.2,763.44 519.9,763.4 520.6,763.6 521.3,763.45 522,763.7 522.7,763.7 523.4,763.76 524.1,763.59 524.8,763.58 525.5,763.42 526.2,763.21 526.9,762.66 527.6,762.4 528.3,760.87 529,757.75 529.7,753.08 530.4,747.73 531.1,743.14 531.8,742.15 532.5,744.67 533.2,749.53 533.9,753.38 534.6,755.4 535.3,755.54 536,756.18 536.7,757.94 537.4,760.11 538.1,762.06 538.8,763.28 539.5,763.77 540.2,763.85 540.9,763.88 541.6,763.5 542.3,763.58 543,763.54 543.7,763.05 544.4,762.89 545.1,762.98 545.8,762.59 546.5,762.63 547.2,763.28 547.9,763.67 548.6,763.78 549.3,763.99 550,763.86 550.7,763.87 551.4,763.53 552.1,763.45 552.8,763.03 553.5,763.21 554.2,762.7 554.9,762.77 555.6,762.83 556.3,763.03 557,762.9 557.7,762.87 558.4,763.4 559.1,763.41 559.8,763.57 560.5,763.61 561.2,763.9 561.9,763.61 562.6,763.7 563.3,763.48 564,763.42 564.7,763.18 565.4,763.45 566.1,763.22 566.8,763.38 567.5,763.46 568.2,763.45 568.9,763.52 569.6,763.45 570.3,763.16 571,762.86 571.7,763 572.4,762.64 573.1,762.7 573.8,762.85 574.5,762.85 575.2,762.83 575.9,762.77 576.6,763.15 577.3,763.1 578,763.53 578.7,763.63 579.4,763.74 580.1,763.55 580.8,763.75 581.5,763.5 582.2,763.46 582.9,763.21 583.6,763.45 584.3,763.26 585,763.54 585.7,763.29 586.4,763.73 587.1,763.5 587.8,763.65 588.5,763.46 589.2,763.47 589.9,762.98 590.6,763 591.3,762.55 592,762.45 592.7,762.83 593.4,763.32 594.1,763.57 594.8,763.78 595.5,763.86 596.2,763.7 596.9,763.42 597.6,763.03 598.3,762.59 599,761.97 599.7,761.35 600.4,761.06 601.1,761.34 601.8,761.26 602.5,762.01 603.2,762.33 603.9,762.84 604.6,763 605.3,763.22 606,763.28 606.7,763.5 607.4,763.1 608.1,762.73 608.8,763.02 609.5,762.85 610.2,762.65 610.9,763.03 611.6,762.91 612.3,762.34 613,762.06 613.7,761.54 614.4,761.33 615.1,761.14 615.8,761.67 616.5,761.97 617.2,762.7 617.9,762.99 618.6,763.49 619.3,763.66 620,763.6 620.7,763.51 621.4,763.37 622.1,763.52 622.8,763.13 623.5,763.57 624.2,763.76 624.9,763.68 625.6,763.66 626.3,763.87 627,763.64 627.7,763.32 628.4,763.65 629.1,763.28 629.8,763.36 630.5,763.7 631.2,763.77 631.9,763.6 632.6,763.65 633.3,763.66 634,763.19 634.7,762.92 635.4,763.31 636.1,763.65 636.8,763.2 637.5,763.53 638.2,763.64 638.9,763.48 639.6,763.08 640.3,763.39 641,763.42 641.7,763.64 642.4,763.45 643.1,763.68 643.8,763.45 644.5,763.1 645.2,762.76 645.9,763.1 646.6,762.78 647.3,762.9 648,763.2 648.7,763.57 649.4,763.67 650.1,763.71 650.8,763.96 651.5,764.03 651.9,763.99" fill="none" stroke="#a0103a" stroke-width="1.25" stroke-linejoin="round"/>
<text x="103.6" y="757.8" font-size="11" text-anchor="end" fill="#231f20" stroke="#231f20" stroke-width="0.12">Ery diff. D10</text>
<polygon points="118.1,790.5 118.1,789.32 118.8,789.01 119.5,788.89 120.2,789.31 120.9,789.36 121.6,788.86 122.3,789.34 123,789.26 123.7,789.06 124.4,789.28 125.1,789.37 125.8,789.07 126.5,789.21 127.2,789.26 127.9,789.24 128.6,789.52 129.3,789.71 130,789.81 130.7,789.87 131.4,789.89 132.1,789.57 132.8,789.34 133.5,788.82 134.2,788.15 134.9,787.59 135.6,788.1 136.3,788.75 137,789.26 137.7,789.43 138.4,789.63 139.1,789.42 139.8,789.24 140.5,789.43 141.2,789.57 141.9,789.75 142.6,789.89 143.3,789.96 144,789.98 144.7,789.76 145.4,789.73 146.1,789.76 146.8,789.75 147.5,789.82 148.2,789.84 148.9,789.53 149.6,789.18 150.3,788.71 151,788.37 151.7,788.67 152.4,789.08 153.1,789.15 153.8,789.55 154.5,789.56 155.2,789.59 155.9,789.45 156.6,789.33 157.3,789.08 158,789.31 158.7,789.19 159.4,789.15 160.1,789.35 160.8,789.65 161.5,789.67 162.2,789.69 162.9,789.7 163.6,789.71 164.3,789.4 165,789.13 165.7,788.94 166.4,789.26 167.1,789.05 167.8,789.04 168.5,789.31 169.2,789.62 169.9,789.58 170.6,789.6 171.3,789.65 172,789.67 172.7,789.43 173.4,789.42 174.1,789.38 174.8,789.56 175.5,789.55 176.2,789.73 176.9,789.66 177.6,789.83 178.3,789.73 179,789.73 179.7,789.75 180.4,789.9 181.1,789.7 181.8,789.72 182.5,789.64 183.2,789.69 183.9,789.42 184.6,789.85 185.3,789.94 186,789.83 186.7,789.69 187.4,789.65 188.1,789.21 188.8,789.1 189.5,789.04 190.2,788.84 190.9,788.76 191.6,788.98 192.3,788.66 193,789.17 193.7,789.52 194.4,789.63 195.1,789.63 195.8,789.69 196.5,789.52 197.2,789.59 197.9,789.7 198.6,789.83 199.3,789.81 200,789.87 200.7,789.6 201.4,789.49 202.1,789.39 202.8,789.42 203.5,789.03 204.2,789.29 204.9,789.55 205.6,789.3 206.3,789.48 207,789.48 207.7,789.4 208.4,789.2 209.1,789.21 209.8,789.31 210.5,789.33 211.2,789.44 211.9,789.23 212.6,789.16 213.3,788.64 214,789.03 214.7,788.51 215.4,788.71 216.1,789.17 216.8,789.44 217.5,789.57 218.2,789.72 218.9,789.75 219.6,789.64 220.3,789.38 221,789.17 221.7,789.51 222.4,789.43 223.1,789.66 223.8,789.77 224.5,789.74 225.2,789.55 225.9,789.52 226.6,789.52 227.3,789.64 228,789.77 228.7,789.85 229.4,790 230.1,789.97 230.8,789.82 231.5,789.5 232.2,789.28 232.9,788.85 233.6,788.99 234.3,789.32 235,789.46 235.7,789.3 236.4,789.65 237.1,789.08 237.8,788.44 238.5,788.32 239.2,787.52 239.9,785.55 240.6,784.94 241.3,785.42 242,786.34 242.7,787.64 243.4,788.74 244.1,789.29 244.8,789.28 245.5,789.53 246.2,789.37 246.9,789.29 247.6,788.81 248.3,789.07 249,789.08 249.7,789.16 250.4,789.41 251.1,789.47 251.8,789.18 252.5,789.26 253.2,789.63 253.9,789.51 254.6,789.76 255.3,789.85 256,789.62 256.7,789.65 257.4,789.88 258.1,789.81 258.8,789.93 259.5,789.99 260.2,789.91 260.9,789.91 261.6,790.01 262.3,789.8 263,789.67 263.7,789.62 264.4,789.45 265.1,788.95 265.8,789.14 266.5,789.44 267.2,789.43 267.9,789.41 268.6,789.59 269.3,789.65 270,789.49 270.7,789.7 271.4,789.61 272.1,789.42 272.8,789.14 273.5,788.79 274.2,787.81 274.9,787.55 275.6,787.34 276.3,786.63 277,786.34 277.7,786.11 278.4,785.67 279.1,785.67 279.8,785.52 280.5,785.15 281.2,785.01 281.9,784.96 282.6,784.74 283.3,785.17 284,785.83 284.7,786.25 285.4,786.85 286.1,787.31 286.8,787.64 287.5,787.43 288.2,787.1 288.9,785.7 289.6,782.87 290.3,778.82 291,774.71 291.7,771.21 292.4,769.75 293.1,771.71 293.8,775.65 294.5,779.25 295.2,781.68 295.9,783.27 296.6,784.13 297.3,785.31 298,786.81 298.7,788.28 299.4,789.04 300.1,789.55 300.8,789.78 301.5,789.95 302.2,789.86 302.9,789.79 303.6,789.46 304.3,789.49 305,789.18 305.7,789.42 306.4,789.02 307.1,789.47 307.8,789.26 308.5,789.59 309.2,789.35 309.9,789.51 310.6,789.24 311.3,789.32 312,789.37 312.7,789.58 313.4,789.45 314.1,789.57 314.8,789.67 315.5,789.71 316.2,789.62 316.9,789.63 317.6,789.55 318.3,789.22 319,789.23 319.7,789.27 320.4,789.56 321.1,789.75 321.8,789.69 322.5,789.29 323.2,789.34 323.9,788.9 324.6,788.92 325.3,788.99 326,789.25 326.7,789.2 327.4,789.2 328.1,788.8 328.8,788.9 329.5,788.76 330.2,788.59 330.9,788.72 331.6,788.79 332.3,789.04 333,789.08 333.7,789.22 334.4,789.55 335.1,789.81 335.8,789.58 336.5,789.66 337.2,789.62 337.9,789.64 338.6,789.41 339.3,789.42 340,789.26 340.7,789.18 341.4,788.9 342.1,789.25 342.8,789.7 343.5,789.91 344.2,789.92 344.9,789.84 345.6,789.44 346.3,789 347,788.53 347.7,788.85 348.4,789.35 349.1,789.45 349.8,789.67 350.5,789.71 351.2,789.36 351.9,789.36 352.6,789.36 353.3,789.32 354,789.37 354.7,789.61 355.4,789.21 356.1,789.27 356.8,788.89 357.5,788.78 358.2,788.47 358.9,788.49 359.6,788.39 359.9,788.53 359.9,790.5" fill="#8a4048" stroke="none" stroke-width="0" />
<polyline points="118.1,789.32 118.8,789.01 119.5,788.89 120.2,789.31 120.9,789.36 121.6,788.86 122.3,789.34 123,789.26 123.7,789.06 124.4,789.28 125.1,789.37 125.8,789.07 126.5,789.21 127.2,789.26 127.9,789.24 128.6,789.52 129.3,789.71 130,789.81 130.7,789.87 131.4,789.89 132.1,789.57 132.8,789.34 133.5,788.82 134.2,788.15 134.9,787.59 135.6,788.1 136.3,788.75 137,789.26 137.7,789.43 138.4,789.63 139.1,789.42 139.8,789.24 140.5,789.43 141.2,789.57 141.9,789.75 142.6,789.89 143.3,789.96 144,789.98 144.7,789.76 145.4,789.73 146.1,789.76 146.8,789.75 147.5,789.82 148.2,789.84 148.9,789.53 149.6,789.18 150.3,788.71 151,788.37 151.7,788.67 152.4,789.08 153.1,789.15 153.8,789.55 154.5,789.56 155.2,789.59 155.9,789.45 156.6,789.33 157.3,789.08 158,789.31 158.7,789.19 159.4,789.15 160.1,789.35 160.8,789.65 161.5,789.67 162.2,789.69 162.9,789.7 163.6,789.71 164.3,789.4 165,789.13 165.7,788.94 166.4,789.26 167.1,789.05 167.8,789.04 168.5,789.31 169.2,789.62 169.9,789.58 170.6,789.6 171.3,789.65 172,789.67 172.7,789.43 173.4,789.42 174.1,789.38 174.8,789.56 175.5,789.55 176.2,789.73 176.9,789.66 177.6,789.83 178.3,789.73 179,789.73 179.7,789.75 180.4,789.9 181.1,789.7 181.8,789.72 182.5,789.64 183.2,789.69 183.9,789.42 184.6,789.85 185.3,789.94 186,789.83 186.7,789.69 187.4,789.65 188.1,789.21 188.8,789.1 189.5,789.04 190.2,788.84 190.9,788.76 191.6,788.98 192.3,788.66 193,789.17 193.7,789.52 194.4,789.63 195.1,789.63 195.8,789.69 196.5,789.52 197.2,789.59 197.9,789.7 198.6,789.83 199.3,789.81 200,789.87 200.7,789.6 201.4,789.49 202.1,789.39 202.8,789.42 203.5,789.03 204.2,789.29 204.9,789.55 205.6,789.3 206.3,789.48 207,789.48 207.7,789.4 208.4,789.2 209.1,789.21 209.8,789.31 210.5,789.33 211.2,789.44 211.9,789.23 212.6,789.16 213.3,788.64 214,789.03 214.7,788.51 215.4,788.71 216.1,789.17 216.8,789.44 217.5,789.57 218.2,789.72 218.9,789.75 219.6,789.64 220.3,789.38 221,789.17 221.7,789.51 222.4,789.43 223.1,789.66 223.8,789.77 224.5,789.74 225.2,789.55 225.9,789.52 226.6,789.52 227.3,789.64 228,789.77 228.7,789.85 229.4,790 230.1,789.97 230.8,789.82 231.5,789.5 232.2,789.28 232.9,788.85 233.6,788.99 234.3,789.32 235,789.46 235.7,789.3 236.4,789.65 237.1,789.08 237.8,788.44 238.5,788.32 239.2,787.52 239.9,785.55 240.6,784.94 241.3,785.42 242,786.34 242.7,787.64 243.4,788.74 244.1,789.29 244.8,789.28 245.5,789.53 246.2,789.37 246.9,789.29 247.6,788.81 248.3,789.07 249,789.08 249.7,789.16 250.4,789.41 251.1,789.47 251.8,789.18 252.5,789.26 253.2,789.63 253.9,789.51 254.6,789.76 255.3,789.85 256,789.62 256.7,789.65 257.4,789.88 258.1,789.81 258.8,789.93 259.5,789.99 260.2,789.91 260.9,789.91 261.6,790.01 262.3,789.8 263,789.67 263.7,789.62 264.4,789.45 265.1,788.95 265.8,789.14 266.5,789.44 267.2,789.43 267.9,789.41 268.6,789.59 269.3,789.65 270,789.49 270.7,789.7 271.4,789.61 272.1,789.42 272.8,789.14 273.5,788.79 274.2,787.81 274.9,787.55 275.6,787.34 276.3,786.63 277,786.34 277.7,786.11 278.4,785.67 279.1,785.67 279.8,785.52 280.5,785.15 281.2,785.01 281.9,784.96 282.6,784.74 283.3,785.17 284,785.83 284.7,786.25 285.4,786.85 286.1,787.31 286.8,787.64 287.5,787.43 288.2,787.1 288.9,785.7 289.6,782.87 290.3,778.82 291,774.71 291.7,771.21 292.4,769.75 293.1,771.71 293.8,775.65 294.5,779.25 295.2,781.68 295.9,783.27 296.6,784.13 297.3,785.31 298,786.81 298.7,788.28 299.4,789.04 300.1,789.55 300.8,789.78 301.5,789.95 302.2,789.86 302.9,789.79 303.6,789.46 304.3,789.49 305,789.18 305.7,789.42 306.4,789.02 307.1,789.47 307.8,789.26 308.5,789.59 309.2,789.35 309.9,789.51 310.6,789.24 311.3,789.32 312,789.37 312.7,789.58 313.4,789.45 314.1,789.57 314.8,789.67 315.5,789.71 316.2,789.62 316.9,789.63 317.6,789.55 318.3,789.22 319,789.23 319.7,789.27 320.4,789.56 321.1,789.75 321.8,789.69 322.5,789.29 323.2,789.34 323.9,788.9 324.6,788.92 325.3,788.99 326,789.25 326.7,789.2 327.4,789.2 328.1,788.8 328.8,788.9 329.5,788.76 330.2,788.59 330.9,788.72 331.6,788.79 332.3,789.04 333,789.08 333.7,789.22 334.4,789.55 335.1,789.81 335.8,789.58 336.5,789.66 337.2,789.62 337.9,789.64 338.6,789.41 339.3,789.42 340,789.26 340.7,789.18 341.4,788.9 342.1,789.25 342.8,789.7 343.5,789.91 344.2,789.92 344.9,789.84 345.6,789.44 346.3,789 347,788.53 347.7,788.85 348.4,789.35 349.1,789.45 349.8,789.67 350.5,789.71 351.2,789.36 351.9,789.36 352.6,789.36 353.3,789.32 354,789.37 354.7,789.61 355.4,789.21 356.1,789.27 356.8,788.89 357.5,788.78 358.2,788.47 358.9,788.49 359.6,788.39 359.9,788.53" fill="none" stroke="#6a0a28" stroke-width="1.25" stroke-linejoin="round"/>
<polygon points="412.1,790.5 412.1,789.78 412.8,789.51 413.5,789.28 414.2,788.61 414.9,788.71 415.6,789.05 416.3,789.25 417,789.39 417.7,789.75 418.4,789.51 419.1,789.5 419.8,789.42 420.5,789.42 421.2,789.36 421.9,789.53 422.6,789.31 423.3,789.38 424,789.56 424.7,789.21 425.4,789.26 426.1,789.46 426.8,789.68 427.5,789.36 428.2,789.49 428.9,789.31 429.6,789.2 430.3,789.14 431,789.65 431.7,789.7 432.4,789.64 433.1,789.4 433.8,789.45 434.5,789.43 435.2,789.66 435.9,789.9 436.6,789.96 437.3,789.79 438,789.46 438.7,789.28 439.4,789.27 440.1,789.2 440.8,789 441.5,789.42 442.2,789.58 442.9,789.61 443.6,789.83 444.3,789.93 445,789.74 445.7,789.68 446.4,789.65 447.1,789.55 447.8,789.38 448.5,789.2 449.2,789.28 449.9,789.27 450.6,789.42 451.3,789.42 452,789.3 452.7,788.69 453.4,788.18 454.1,787.4 454.8,787.07 455.5,787.23 456.2,787.37 456.9,787.58 457.6,788.53 458.3,788.88 459,788.91 459.7,789.19 460.4,789.27 461.1,789.07 461.8,789.09 462.5,789.11 463.2,789.5 463.9,789.57 464.6,789.54 465.3,789.74 466,789.73 466.7,789.64 467.4,789.39 468.1,789.29 468.8,789.34 469.5,789.51 470.2,789.54 470.9,789.73 471.6,789.82 472.3,789.8 473,789.83 473.7,789.78 474.4,789.57 475.1,789.69 475.8,789.33 476.5,789.35 477.2,789.32 477.9,789.75 478.6,789.58 479.3,789.61 480,789.41 480.7,789.6 481.4,789.39 482.1,789.6 482.8,789.9 483.5,790.01 484.2,789.83 484.9,789.91 485.6,789.64 486.3,789.4 487,789.23 487.7,789.18 488.4,788.38 489.1,787.7 489.8,786.43 490.5,785.18 491.2,783.66 491.9,782.82 492.6,782.59 493.3,782.89 494,783.49 494.7,784.94 495.4,786.13 496.1,787.07 496.8,787.99 497.5,788.22 498.2,787.94 498.9,788.25 499.6,788.12 500.3,787.66 501,787.38 501.7,787.47 502.4,786.71 503.1,786.15 503.8,786.18 504.5,786.41 505.2,786.02 505.9,786.33 506.6,786.7 507.3,787.05 508,787.01 508.7,787.62 509.4,787.96 510.1,788.45 510.8,788.96 511.5,789.46 512.2,789.75 512.9,789.82 513.6,789.91 514.3,789.93 515,789.72 515.7,789.44 516.4,789.76 517.1,789.81 517.8,789.53 518.5,789.49 519.2,789.42 519.9,789 520.6,788.61 521.3,789 522,788.98 522.7,788.84 523.4,788.91 524.1,789.25 524.8,788.79 525.5,789.06 526.2,789.11 526.9,789.14 527.6,788.67 528.3,787.45 529,785.28 529.7,781.61 530.4,777.3 531.1,773.73 531.8,773.16 532.5,774.69 533.2,778.65 533.9,781.72 534.6,783.1 535.3,783.83 536,784.75 536.7,785.95 537.4,787.28 538.1,788.65 538.8,788.84 539.5,788.82 540.2,789.16 540.9,789.39 541.6,789.17 542.3,789.41 543,789.47 543.7,789.06 544.4,788.28 545.1,786.95 545.8,785.66 546.5,785.05 547.2,785.56 547.9,786.64 548.6,787.86 549.3,788.81 550,789.3 550.7,789.62 551.4,789.56 552.1,789.79 552.8,789.61 553.5,789.66 554.2,789.48 554.9,789.48 555.6,789.59 556.3,789.55 557,789.23 557.7,789.01 558.4,788.96 559.1,788.31 559.8,788.53 560.5,788.75 561.2,789.21 561.9,789.36 562.6,789.45 563.3,789.22 564,789.34 564.7,789.27 565.4,789.03 566.1,789.04 566.8,789.14 567.5,789.43 568.2,788.98 568.9,788.95 569.6,789.36 570.3,789.29 571,789.28 571.7,789.5 572.4,789.76 573.1,789.37 573.8,789.58 574.5,789.03 575.2,789 575.9,788.73 576.6,789.18 577.3,789.41 578,789.84 578.7,789.74 579.4,789.65 580.1,789.54 580.8,789.53 581.5,789.36 582.2,789.62 582.9,789.77 583.6,789.77 584.3,789.47 585,789.18 585.7,789.09 586.4,789.03 587.1,788.67 587.8,789.06 588.5,789.5 589.2,789.67 589.9,789.76 590.6,790.02 591.3,789.88 592,789.55 592.7,789.57 593.4,789.7 594.1,789.44 594.8,789.52 595.5,789.87 596.2,789.84 596.9,789.87 597.6,789.98 598.3,790.04 599,790 599.7,790.01 600.4,789.85 601.1,789.66 601.8,789.46 602.5,789.36 603.2,789.32 603.9,789.42 604.6,789.63 605.3,789.77 606,789.89 606.7,789.82 607.4,789.7 608.1,789.41 608.8,789.56 609.5,789.47 610.2,789.2 610.9,789.41 611.6,789.34 612.3,789.16 613,789.05 613.7,789.4 614.4,789.44 615.1,789.49 615.8,789.4 616.5,789.49 617.2,789.38 617.9,789.33 618.6,789.53 619.3,789.74 620,789.62 620.7,789.55 621.4,789.25 622.1,789.09 622.8,789.12 623.5,789.27 624.2,789.13 624.9,789.16 625.6,789.24 626.3,788.64 627,788.7 627.7,789.1 628.4,789.49 629.1,789.58 629.8,789.6 630.5,789.67 631.2,789.39 631.9,789.2 632.6,788.96 633.3,789.2 634,788.63 634.7,789.09 635.4,788.94 636.1,789.41 636.8,789.21 637.5,789.66 638.2,789.36 638.9,789.42 639.6,788.99 640.3,788.91 641,788.23 641.7,788.56 642.4,788.7 643.1,789.03 643.8,789.13 644.5,789.25 645.2,789.16 645.9,789.08 646.6,789.12 647.3,789.4 648,789.49 648.7,789.7 649.4,789.91 650.1,789.96 650.8,789.91 651.5,789.98 651.9,789.98 651.9,790.5" fill="#8a4048" stroke="none" stroke-width="0" />
<polyline points="412.1,789.78 412.8,789.51 413.5,789.28 414.2,788.61 414.9,788.71 415.6,789.05 416.3,789.25 417,789.39 417.7,789.75 418.4,789.51 419.1,789.5 419.8,789.42 420.5,789.42 421.2,789.36 421.9,789.53 422.6,789.31 423.3,789.38 424,789.56 424.7,789.21 425.4,789.26 426.1,789.46 426.8,789.68 427.5,789.36 428.2,789.49 428.9,789.31 429.6,789.2 430.3,789.14 431,789.65 431.7,789.7 432.4,789.64 433.1,789.4 433.8,789.45 434.5,789.43 435.2,789.66 435.9,789.9 436.6,789.96 437.3,789.79 438,789.46 438.7,789.28 439.4,789.27 440.1,789.2 440.8,789 441.5,789.42 442.2,789.58 442.9,789.61 443.6,789.83 444.3,789.93 445,789.74 445.7,789.68 446.4,789.65 447.1,789.55 447.8,789.38 448.5,789.2 449.2,789.28 449.9,789.27 450.6,789.42 451.3,789.42 452,789.3 452.7,788.69 453.4,788.18 454.1,787.4 454.8,787.07 455.5,787.23 456.2,787.37 456.9,787.58 457.6,788.53 458.3,788.88 459,788.91 459.7,789.19 460.4,789.27 461.1,789.07 461.8,789.09 462.5,789.11 463.2,789.5 463.9,789.57 464.6,789.54 465.3,789.74 466,789.73 466.7,789.64 467.4,789.39 468.1,789.29 468.8,789.34 469.5,789.51 470.2,789.54 470.9,789.73 471.6,789.82 472.3,789.8 473,789.83 473.7,789.78 474.4,789.57 475.1,789.69 475.8,789.33 476.5,789.35 477.2,789.32 477.9,789.75 478.6,789.58 479.3,789.61 480,789.41 480.7,789.6 481.4,789.39 482.1,789.6 482.8,789.9 483.5,790.01 484.2,789.83 484.9,789.91 485.6,789.64 486.3,789.4 487,789.23 487.7,789.18 488.4,788.38 489.1,787.7 489.8,786.43 490.5,785.18 491.2,783.66 491.9,782.82 492.6,782.59 493.3,782.89 494,783.49 494.7,784.94 495.4,786.13 496.1,787.07 496.8,787.99 497.5,788.22 498.2,787.94 498.9,788.25 499.6,788.12 500.3,787.66 501,787.38 501.7,787.47 502.4,786.71 503.1,786.15 503.8,786.18 504.5,786.41 505.2,786.02 505.9,786.33 506.6,786.7 507.3,787.05 508,787.01 508.7,787.62 509.4,787.96 510.1,788.45 510.8,788.96 511.5,789.46 512.2,789.75 512.9,789.82 513.6,789.91 514.3,789.93 515,789.72 515.7,789.44 516.4,789.76 517.1,789.81 517.8,789.53 518.5,789.49 519.2,789.42 519.9,789 520.6,788.61 521.3,789 522,788.98 522.7,788.84 523.4,788.91 524.1,789.25 524.8,788.79 525.5,789.06 526.2,789.11 526.9,789.14 527.6,788.67 528.3,787.45 529,785.28 529.7,781.61 530.4,777.3 531.1,773.73 531.8,773.16 532.5,774.69 533.2,778.65 533.9,781.72 534.6,783.1 535.3,783.83 536,784.75 536.7,785.95 537.4,787.28 538.1,788.65 538.8,788.84 539.5,788.82 540.2,789.16 540.9,789.39 541.6,789.17 542.3,789.41 543,789.47 543.7,789.06 544.4,788.28 545.1,786.95 545.8,785.66 546.5,785.05 547.2,785.56 547.9,786.64 548.6,787.86 549.3,788.81 550,789.3 550.7,789.62 551.4,789.56 552.1,789.79 552.8,789.61 553.5,789.66 554.2,789.48 554.9,789.48 555.6,789.59 556.3,789.55 557,789.23 557.7,789.01 558.4,788.96 559.1,788.31 559.8,788.53 560.5,788.75 561.2,789.21 561.9,789.36 562.6,789.45 563.3,789.22 564,789.34 564.7,789.27 565.4,789.03 566.1,789.04 566.8,789.14 567.5,789.43 568.2,788.98 568.9,788.95 569.6,789.36 570.3,789.29 571,789.28 571.7,789.5 572.4,789.76 573.1,789.37 573.8,789.58 574.5,789.03 575.2,789 575.9,788.73 576.6,789.18 577.3,789.41 578,789.84 578.7,789.74 579.4,789.65 580.1,789.54 580.8,789.53 581.5,789.36 582.2,789.62 582.9,789.77 583.6,789.77 584.3,789.47 585,789.18 585.7,789.09 586.4,789.03 587.1,788.67 587.8,789.06 588.5,789.5 589.2,789.67 589.9,789.76 590.6,790.02 591.3,789.88 592,789.55 592.7,789.57 593.4,789.7 594.1,789.44 594.8,789.52 595.5,789.87 596.2,789.84 596.9,789.87 597.6,789.98 598.3,790.04 599,790 599.7,790.01 600.4,789.85 601.1,789.66 601.8,789.46 602.5,789.36 603.2,789.32 603.9,789.42 604.6,789.63 605.3,789.77 606,789.89 606.7,789.82 607.4,789.7 608.1,789.41 608.8,789.56 609.5,789.47 610.2,789.2 610.9,789.41 611.6,789.34 612.3,789.16 613,789.05 613.7,789.4 614.4,789.44 615.1,789.49 615.8,789.4 616.5,789.49 617.2,789.38 617.9,789.33 618.6,789.53 619.3,789.74 620,789.62 620.7,789.55 621.4,789.25 622.1,789.09 622.8,789.12 623.5,789.27 624.2,789.13 624.9,789.16 625.6,789.24 626.3,788.64 627,788.7 627.7,789.1 628.4,789.49 629.1,789.58 629.8,789.6 630.5,789.67 631.2,789.39 631.9,789.2 632.6,788.96 633.3,789.2 634,788.63 634.7,789.09 635.4,788.94 636.1,789.41 636.8,789.21 637.5,789.66 638.2,789.36 638.9,789.42 639.6,788.99 640.3,788.91 641,788.23 641.7,788.56 642.4,788.7 643.1,789.03 643.8,789.13 644.5,789.25 645.2,789.16 645.9,789.08 646.6,789.12 647.3,789.4 648,789.49 648.7,789.7 649.4,789.91 650.1,789.96 650.8,789.91 651.5,789.98 651.9,789.98" fill="none" stroke="#6a0a28" stroke-width="1.25" stroke-linejoin="round"/>
<text x="103.6" y="783.8" font-size="11" text-anchor="end" fill="#231f20" stroke="#231f20" stroke-width="0.12">Ery diff. D12</text>
<polygon points="118.1,818.5 118.1,817.15 118.8,817.1 119.5,817.19 120.2,817.15 120.9,817.41 121.6,817.39 122.3,817.34 123,817.47 123.7,817.31 124.4,816.95 125.1,817.01 125.8,817.31 126.5,817.27 127.2,817.49 127.9,817.55 128.6,817.54 129.3,817.3 130,817.4 130.7,817.3 131.4,817.57 132.1,817.87 132.8,817.94 133.5,817.93 134.2,817.96 134.9,817.92 135.6,817.84 136.3,817.7 137,817.67 137.7,817.51 138.4,817.43 139.1,817.49 139.8,817.74 140.5,817.5 141.2,817.38 141.9,817.18 142.6,816.78 143.3,816.43 144,816.81 144.7,817.22 145.4,817.32 146.1,817.47 146.8,817.44 147.5,817.08 148.2,816.68 148.9,816.35 149.6,816.29 150.3,816.38 151,816.47 151.7,816.71 152.4,816.84 153.1,816.69 153.8,816.82 154.5,817.13 155.2,817.21 155.9,817.32 156.6,817.48 157.3,817.49 158,817.47 158.7,817.27 159.4,817.23 160.1,816.99 160.8,816.65 161.5,816.93 162.2,817.15 162.9,817.11 163.6,817.36 164.3,817.54 165,817.41 165.7,817.42 166.4,817.35 167.1,817.28 167.8,817.12 168.5,816.64 169.2,816.19 169.9,816.19 170.6,815.96 171.3,815.95 172,815.93 172.7,816.39 173.4,816.76 174.1,817.09 174.8,817.17 175.5,817.14 176.2,816.97 176.9,816.96 177.6,817.2 178.3,817.55 179,817.9 179.7,818.02 180.4,818.08 181.1,818.04 181.8,818.01 182.5,817.76 183.2,817.76 183.9,817.72 184.6,817.49 185.3,817.14 186,817.4 186.7,817.17 187.4,817.01 188.1,817.33 188.8,817.65 189.5,817.81 190.2,817.64 190.9,817.37 191.6,817.09 192.3,817.18 193,816.81 193.7,817.4 194.4,817.48 195.1,817.82 195.8,817.64 196.5,817.82 197.2,817.42 197.9,817.31 198.6,817.1 199.3,816.88 200,816.39 200.7,817.01 201.4,817.04 202.1,816.72 202.8,817.18 203.5,817.25 204.2,817.17 204.9,817.62 205.6,817.79 206.3,817.83 207,817.78 207.7,817.62 208.4,817.52 209.1,817.54 209.8,817.58 210.5,817.77 211.2,817.81 211.9,817.56 212.6,817.26 213.3,816.89 214,816.83 214.7,816.62 215.4,816.81 216.1,816.92 216.8,817.1 217.5,816.8 218.2,817.25 218.9,817.36 219.6,817.65 220.3,817.64 221,817.75 221.7,817.41 222.4,817.59 223.1,817.41 223.8,817.5 224.5,817.39 225.2,817.49 225.9,816.93 226.6,816.64 227.3,816.29 228,816.74 228.7,816.76 229.4,817.11 230.1,817.48 230.8,817.59 231.5,816.89 232.2,815.96 232.9,813.96 233.6,810.72 234.3,807.07 235,804.52 235.7,803.15 236.4,802.49 237.1,800.98 237.8,797.35 238.5,795.3 239.2,795.3 239.9,795.3 240.6,795.3 241.3,795.3 242,795.3 242.7,800.62 243.4,806.74 244.1,811.14 244.8,814.17 245.5,816.23 246.2,817.23 246.9,817.71 247.6,817.94 248.3,818.02 249,817.84 249.7,817.58 250.4,817.61 251.1,817.46 251.8,817.46 252.5,817.75 253.2,817.87 253.9,817.81 254.6,817.77 255.3,817.75 256,817.68 256.7,817.85 257.4,817.83 258.1,817.84 258.8,817.8 259.5,817.81 260.2,817.55 260.9,817.5 261.6,817.26 262.3,817.32 263,817.19 263.7,817.16 264.4,816.8 265.1,816.92 265.8,816.81 266.5,816.82 267.2,816.97 267.9,817.32 268.6,817.37 269.3,817.5 270,817.78 270.7,817.87 271.4,817.6 272.1,817.56 272.8,817.08 273.5,816.08 274.2,814.65 274.9,813.54 275.6,811.75 276.3,809.92 277,809.3 277.7,809.34 278.4,809.18 279.1,807.89 279.8,804.43 280.5,797.61 281.2,795.3 281.9,795.3 282.6,795.3 283.3,795.3 284,801.55 284.7,803.01 285.4,801.4 286.1,799.31 286.8,797.77 287.5,796.47 288.2,795.3 288.9,795.3 289.6,795.3 290.3,795.3 291,795.3 291.7,795.3 292.4,799.38 293.1,805.81 293.8,810.93 294.5,814.51 295.2,815.88 295.9,816.38 296.6,817.2 297.3,817.36 298,817.45 298.7,817.71 299.4,817.64 300.1,817.64 300.8,817.6 301.5,817.51 302.2,817.37 302.9,817.63 303.6,817.35 304.3,817.65 305,817.54 305.7,817.6 306.4,817.39 307.1,817.5 307.8,816.99 308.5,816.76 309.2,816.19 309.9,816.07 310.6,815.81 311.3,816.34 312,816.81 312.7,817.04 313.4,817.08 314.1,816.96 314.8,816.82 315.5,816.61 316.2,817.04 316.9,816.99 317.6,817.08 318.3,817.01 319,817.14 319.7,817.23 320.4,817.46 321.1,817.8 321.8,817.97 322.5,817.94 323.2,817.96 323.9,818 324.6,817.86 325.3,817.68 326,817.7 326.7,817.36 327.4,817.47 328.1,817.7 328.8,817.88 329.5,817.72 330.2,817.93 330.9,817.69 331.6,817.57 332.3,817.24 333,817.41 333.7,817.42 334.4,817.33 335.1,816.88 335.8,816.8 336.5,816.83 337.2,816.53 337.9,817.01 338.6,817.12 339.3,817.43 340,817.37 340.7,817.36 341.4,816.95 342.1,817.2 342.8,817.19 343.5,816.95 344.2,817.25 344.9,817.69 345.6,817.75 346.3,817.88 347,817.88 347.7,817.75 348.4,817.38 349.1,817.52 349.8,817.29 350.5,817.36 351.2,817.61 351.9,817.64 352.6,817.16 353.3,816.9 354,817.32 354.7,817.01 355.4,817.19 356.1,817.46 356.8,817.46 357.5,817.37 358.2,817.53 358.9,817.3 359.6,817.24 359.9,817.49 359.9,818.5" fill="#f2a050" stroke="none" stroke-width="0" />
<polyline points="118.1,817.15 118.8,817.1 119.5,817.19 120.2,817.15 120.9,817.41 121.6,817.39 122.3,817.34 123,817.47 123.7,817.31 124.4,816.95 125.1,817.01 125.8,817.31 126.5,817.27 127.2,817.49 127.9,817.55 128.6,817.54 129.3,817.3 130,817.4 130.7,817.3 131.4,817.57 132.1,817.87 132.8,817.94 133.5,817.93 134.2,817.96 134.9,817.92 135.6,817.84 136.3,817.7 137,817.67 137.7,817.51 138.4,817.43 139.1,817.49 139.8,817.74 140.5,817.5 141.2,817.38 141.9,817.18 142.6,816.78 143.3,816.43 144,816.81 144.7,817.22 145.4,817.32 146.1,817.47 146.8,817.44 147.5,817.08 148.2,816.68 148.9,816.35 149.6,816.29 150.3,816.38 151,816.47 151.7,816.71 152.4,816.84 153.1,816.69 153.8,816.82 154.5,817.13 155.2,817.21 155.9,817.32 156.6,817.48 157.3,817.49 158,817.47 158.7,817.27 159.4,817.23 160.1,816.99 160.8,816.65 161.5,816.93 162.2,817.15 162.9,817.11 163.6,817.36 164.3,817.54 165,817.41 165.7,817.42 166.4,817.35 167.1,817.28 167.8,817.12 168.5,816.64 169.2,816.19 169.9,816.19 170.6,815.96 171.3,815.95 172,815.93 172.7,816.39 173.4,816.76 174.1,817.09 174.8,817.17 175.5,817.14 176.2,816.97 176.9,816.96 177.6,817.2 178.3,817.55 179,817.9 179.7,818.02 180.4,818.08 181.1,818.04 181.8,818.01 182.5,817.76 183.2,817.76 183.9,817.72 184.6,817.49 185.3,817.14 186,817.4 186.7,817.17 187.4,817.01 188.1,817.33 188.8,817.65 189.5,817.81 190.2,817.64 190.9,817.37 191.6,817.09 192.3,817.18 193,816.81 193.7,817.4 194.4,817.48 195.1,817.82 195.8,817.64 196.5,817.82 197.2,817.42 197.9,817.31 198.6,817.1 199.3,816.88 200,816.39 200.7,817.01 201.4,817.04 202.1,816.72 202.8,817.18 203.5,817.25 204.2,817.17 204.9,817.62 205.6,817.79 206.3,817.83 207,817.78 207.7,817.62 208.4,817.52 209.1,817.54 209.8,817.58 210.5,817.77 211.2,817.81 211.9,817.56 212.6,817.26 213.3,816.89 214,816.83 214.7,816.62 215.4,816.81 216.1,816.92 216.8,817.1 217.5,816.8 218.2,817.25 218.9,817.36 219.6,817.65 220.3,817.64 221,817.75 221.7,817.41 222.4,817.59 223.1,817.41 223.8,817.5 224.5,817.39 225.2,817.49 225.9,816.93 226.6,816.64 227.3,816.29 228,816.74 228.7,816.76 229.4,817.11 230.1,817.48 230.8,817.59 231.5,816.89 232.2,815.96 232.9,813.96 233.6,810.72 234.3,807.07 235,804.52 235.7,803.15 236.4,802.49 237.1,800.98 237.8,797.35 238.5,795.3 239.2,795.3 239.9,795.3 240.6,795.3 241.3,795.3 242,795.3 242.7,800.62 243.4,806.74 244.1,811.14 244.8,814.17 245.5,816.23 246.2,817.23 246.9,817.71 247.6,817.94 248.3,818.02 249,817.84 249.7,817.58 250.4,817.61 251.1,817.46 251.8,817.46 252.5,817.75 253.2,817.87 253.9,817.81 254.6,817.77 255.3,817.75 256,817.68 256.7,817.85 257.4,817.83 258.1,817.84 258.8,817.8 259.5,817.81 260.2,817.55 260.9,817.5 261.6,817.26 262.3,817.32 263,817.19 263.7,817.16 264.4,816.8 265.1,816.92 265.8,816.81 266.5,816.82 267.2,816.97 267.9,817.32 268.6,817.37 269.3,817.5 270,817.78 270.7,817.87 271.4,817.6 272.1,817.56 272.8,817.08 273.5,816.08 274.2,814.65 274.9,813.54 275.6,811.75 276.3,809.92 277,809.3 277.7,809.34 278.4,809.18 279.1,807.89 279.8,804.43 280.5,797.61 281.2,795.3 281.9,795.3 282.6,795.3 283.3,795.3 284,801.55 284.7,803.01 285.4,801.4 286.1,799.31 286.8,797.77 287.5,796.47 288.2,795.3 288.9,795.3 289.6,795.3 290.3,795.3 291,795.3 291.7,795.3 292.4,799.38 293.1,805.81 293.8,810.93 294.5,814.51 295.2,815.88 295.9,816.38 296.6,817.2 297.3,817.36 298,817.45 298.7,817.71 299.4,817.64 300.1,817.64 300.8,817.6 301.5,817.51 302.2,817.37 302.9,817.63 303.6,817.35 304.3,817.65 305,817.54 305.7,817.6 306.4,817.39 307.1,817.5 307.8,816.99 308.5,816.76 309.2,816.19 309.9,816.07 310.6,815.81 311.3,816.34 312,816.81 312.7,817.04 313.4,817.08 314.1,816.96 314.8,816.82 315.5,816.61 316.2,817.04 316.9,816.99 317.6,817.08 318.3,817.01 319,817.14 319.7,817.23 320.4,817.46 321.1,817.8 321.8,817.97 322.5,817.94 323.2,817.96 323.9,818 324.6,817.86 325.3,817.68 326,817.7 326.7,817.36 327.4,817.47 328.1,817.7 328.8,817.88 329.5,817.72 330.2,817.93 330.9,817.69 331.6,817.57 332.3,817.24 333,817.41 333.7,817.42 334.4,817.33 335.1,816.88 335.8,816.8 336.5,816.83 337.2,816.53 337.9,817.01 338.6,817.12 339.3,817.43 340,817.37 340.7,817.36 341.4,816.95 342.1,817.2 342.8,817.19 343.5,816.95 344.2,817.25 344.9,817.69 345.6,817.75 346.3,817.88 347,817.88 347.7,817.75 348.4,817.38 349.1,817.52 349.8,817.29 350.5,817.36 351.2,817.61 351.9,817.64 352.6,817.16 353.3,816.9 354,817.32 354.7,817.01 355.4,817.19 356.1,817.46 356.8,817.46 357.5,817.37 358.2,817.53 358.9,817.3 359.6,817.24 359.9,817.49" fill="none" stroke="#e88028" stroke-width="1.25" stroke-linejoin="round"/>
<polygon points="412.1,818.5 412.1,816.89 412.8,817.26 413.5,817.49 414.2,817.4 414.9,817.56 415.6,817.64 416.3,817.32 417,817.37 417.7,817.53 418.4,817.61 419.1,817.77 419.8,817.73 420.5,817.67 421.2,817.66 421.9,817.66 422.6,817.73 423.3,817.98 424,818.01 424.7,817.9 425.4,817.7 426.1,817.54 426.8,817.1 427.5,816.35 428.2,816.5 428.9,816.33 429.6,816.34 430.3,816.58 431,816.91 431.7,817.02 432.4,817.24 433.1,817.33 433.8,817.43 434.5,817.3 435.2,817.4 435.9,817.39 436.6,817.17 437.3,816.81 438,817.19 438.7,817.26 439.4,817.22 440.1,817.48 440.8,817.67 441.5,817.63 442.2,817.29 442.9,817.43 443.6,817.48 444.3,817.25 445,817.42 445.7,817.72 446.4,817.65 447.1,817.58 447.8,817.63 448.5,817.11 449.2,816.93 449.9,817.04 450.6,816.6 451.3,816.72 452,816.94 452.7,816.93 453.4,816.7 454.1,816.76 454.8,817.16 455.5,817.45 456.2,817.7 456.9,817.9 457.6,818.03 458.3,817.97 459,817.91 459.7,817.73 460.4,817.55 461.1,817.69 461.8,817.77 462.5,817.58 463.2,817.36 463.9,817.64 464.6,817.5 465.3,817.29 466,817.49 466.7,817.84 467.4,817.51 468.1,817.35 468.8,817.45 469.5,817.53 470.2,817.55 470.9,817.82 471.6,817.67 472.3,817.4 473,817.39 473.7,817.13 474.4,817.26 475.1,817.3 475.8,817.69 476.5,817.53 477.2,817.36 477.9,817.06 478.6,817.04 479.3,817.02 480,817.4 480.7,817.79 481.4,817.93 482.1,818.07 482.8,818.05 483.5,818.04 484.2,818.03 484.9,818.02 485.6,817.84 486.3,817.63 487,817.13 487.7,816.44 488.4,815.64 489.1,815.88 489.8,815.7 490.5,815.66 491.2,815.84 491.9,815.64 492.6,815.46 493.3,815.87 494,816.5 494.7,816.54 495.4,816.9 496.1,817.16 496.8,817.29 497.5,816.76 498.2,816.97 498.9,816.92 499.6,816.96 500.3,817.22 501,817.6 501.7,817.34 502.4,817.68 503.1,817.87 503.8,817.67 504.5,817.65 505.2,817.87 505.9,817.86 506.6,817.86 507.3,817.94 508,818 508.7,818.04 509.4,818.07 510.1,818.06 510.8,818.08 511.5,817.99 512.2,817.87 512.9,817.87 513.6,817.72 514.3,817.45 515,817.38 515.7,817.6 516.4,817.54 517.1,817.69 517.8,817.66 518.5,817.75 519.2,817.4 519.9,817.34 520.6,817.47 521.3,817.48 522,817.59 522.7,817.65 523.4,817.36 524.1,817.1 524.8,816.9 525.5,816.11 526.2,815.08 526.9,813.11 527.6,809.14 528.3,804.53 529,800.49 529.7,798.59 530.4,799.63 531.1,802.18 531.8,804.51 532.5,805.96 533.2,807.84 533.9,810.28 534.6,812.68 535.3,813.23 536,811.36 536.7,808.7 537.4,808.01 538.1,810.01 538.8,813.37 539.5,815.98 540.2,817.16 540.9,817.55 541.6,817.71 542.3,817.61 543,817.58 543.7,817.62 544.4,817.77 545.1,817.74 545.8,817.61 546.5,817.37 547.2,817.46 547.9,817.11 548.6,816.83 549.3,817.14 550,817.17 550.7,817.35 551.4,817.7 552.1,817.87 552.8,817.8 553.5,817.91 554.2,817.56 554.9,817.14 555.6,816.81 556.3,816.76 557,816.67 557.7,817.06 558.4,817.21 559.1,817.66 559.8,817.7 560.5,817.55 561.2,817.34 561.9,817.22 562.6,817.26 563.3,817.08 564,817.39 564.7,817.42 565.4,817.36 566.1,817.33 566.8,817.33 567.5,817.3 568.2,817.26 568.9,817.62 569.6,817.21 570.3,817.32 571,817.18 571.7,817.59 572.4,817.63 573.1,817.84 573.8,817.75 574.5,817.86 575.2,817.72 575.9,817.6 576.6,817.64 577.3,817.78 578,817.9 578.7,817.76 579.4,817.69 580.1,817.31 580.8,817.37 581.5,817.29 582.2,817.34 582.9,817.16 583.6,817.22 584.3,817.29 585,817.24 585.7,817.53 586.4,817.58 587.1,817.78 587.8,817.75 588.5,817.84 589.2,817.76 589.9,817.66 590.6,817.37 591.3,817.06 592,816.48 592.7,816.8 593.4,816.78 594.1,816.86 594.8,817.11 595.5,817.56 596.2,817.37 596.9,817.46 597.6,817.83 598.3,817.69 599,817.42 599.7,817.47 600.4,817.78 601.1,817.67 601.8,817.86 602.5,817.95 603.2,817.85 603.9,817.6 604.6,817.34 605.3,817.43 606,817.25 606.7,817.15 607.4,817.44 608.1,817.68 608.8,817.49 609.5,817.65 610.2,817.58 610.9,817.66 611.6,817.46 612.3,817.44 613,817.36 613.7,817.51 614.4,817.18 615.1,817.46 615.8,817.6 616.5,817.56 617.2,817.82 617.9,817.91 618.6,817.88 619.3,817.85 620,817.98 620.7,817.8 621.4,817.87 622.1,817.9 622.8,817.75 623.5,817.36 624.2,817.38 624.9,816.93 625.6,816.58 626.3,816.72 627,817.12 627.7,817.3 628.4,817.64 629.1,817.69 629.8,817.71 630.5,817.74 631.2,817.78 631.9,817.78 632.6,817.72 633.3,817.8 634,817.54 634.7,817.36 635.4,817.13 636.1,816.99 636.8,817.06 637.5,817.19 638.2,817.41 638.9,817.36 639.6,817.63 640.3,817.37 641,817.25 641.7,816.98 642.4,816.93 643.1,816.97 643.8,816.94 644.5,817.04 645.2,817.38 645.9,817.67 646.6,817.37 647.3,817.52 648,817.8 648.7,817.39 649.4,817.05 650.1,817.02 650.8,816.88 651.5,816.27 651.9,816.46 651.9,818.5" fill="#f2a050" stroke="none" stroke-width="0" />
<polyline points="412.1,816.89 412.8,817.26 413.5,817.49 414.2,817.4 414.9,817.56 415.6,817.64 416.3,817.32 417,817.37 417.7,817.53 418.4,817.61 419.1,817.77 419.8,817.73 420.5,817.67 421.2,817.66 421.9,817.66 422.6,817.73 423.3,817.98 424,818.01 424.7,817.9 425.4,817.7 426.1,817.54 426.8,817.1 427.5,816.35 428.2,816.5 428.9,816.33 429.6,816.34 430.3,816.58 431,816.91 431.7,817.02 432.4,817.24 433.1,817.33 433.8,817.43 434.5,817.3 435.2,817.4 435.9,817.39 436.6,817.17 437.3,816.81 438,817.19 438.7,817.26 439.4,817.22 440.1,817.48 440.8,817.67 441.5,817.63 442.2,817.29 442.9,817.43 443.6,817.48 444.3,817.25 445,817.42 445.7,817.72 446.4,817.65 447.1,817.58 447.8,817.63 448.5,817.11 449.2,816.93 449.9,817.04 450.6,816.6 451.3,816.72 452,816.94 452.7,816.93 453.4,816.7 454.1,816.76 454.8,817.16 455.5,817.45 456.2,817.7 456.9,817.9 457.6,818.03 458.3,817.97 459,817.91 459.7,817.73 460.4,817.55 461.1,817.69 461.8,817.77 462.5,817.58 463.2,817.36 463.9,817.64 464.6,817.5 465.3,817.29 466,817.49 466.7,817.84 467.4,817.51 468.1,817.35 468.8,817.45 469.5,817.53 470.2,817.55 470.9,817.82 471.6,817.67 472.3,817.4 473,817.39 473.7,817.13 474.4,817.26 475.1,817.3 475.8,817.69 476.5,817.53 477.2,817.36 477.9,817.06 478.6,817.04 479.3,817.02 480,817.4 480.7,817.79 481.4,817.93 482.1,818.07 482.8,818.05 483.5,818.04 484.2,818.03 484.9,818.02 485.6,817.84 486.3,817.63 487,817.13 487.7,816.44 488.4,815.64 489.1,815.88 489.8,815.7 490.5,815.66 491.2,815.84 491.9,815.64 492.6,815.46 493.3,815.87 494,816.5 494.7,816.54 495.4,816.9 496.1,817.16 496.8,817.29 497.5,816.76 498.2,816.97 498.9,816.92 499.6,816.96 500.3,817.22 501,817.6 501.7,817.34 502.4,817.68 503.1,817.87 503.8,817.67 504.5,817.65 505.2,817.87 505.9,817.86 506.6,817.86 507.3,817.94 508,818 508.7,818.04 509.4,818.07 510.1,818.06 510.8,818.08 511.5,817.99 512.2,817.87 512.9,817.87 513.6,817.72 514.3,817.45 515,817.38 515.7,817.6 516.4,817.54 517.1,817.69 517.8,817.66 518.5,817.75 519.2,817.4 519.9,817.34 520.6,817.47 521.3,817.48 522,817.59 522.7,817.65 523.4,817.36 524.1,817.1 524.8,816.9 525.5,816.11 526.2,815.08 526.9,813.11 527.6,809.14 528.3,804.53 529,800.49 529.7,798.59 530.4,799.63 531.1,802.18 531.8,804.51 532.5,805.96 533.2,807.84 533.9,810.28 534.6,812.68 535.3,813.23 536,811.36 536.7,808.7 537.4,808.01 538.1,810.01 538.8,813.37 539.5,815.98 540.2,817.16 540.9,817.55 541.6,817.71 542.3,817.61 543,817.58 543.7,817.62 544.4,817.77 545.1,817.74 545.8,817.61 546.5,817.37 547.2,817.46 547.9,817.11 548.6,816.83 549.3,817.14 550,817.17 550.7,817.35 551.4,817.7 552.1,817.87 552.8,817.8 553.5,817.91 554.2,817.56 554.9,817.14 555.6,816.81 556.3,816.76 557,816.67 557.7,817.06 558.4,817.21 559.1,817.66 559.8,817.7 560.5,817.55 561.2,817.34 561.9,817.22 562.6,817.26 563.3,817.08 564,817.39 564.7,817.42 565.4,817.36 566.1,817.33 566.8,817.33 567.5,817.3 568.2,817.26 568.9,817.62 569.6,817.21 570.3,817.32 571,817.18 571.7,817.59 572.4,817.63 573.1,817.84 573.8,817.75 574.5,817.86 575.2,817.72 575.9,817.6 576.6,817.64 577.3,817.78 578,817.9 578.7,817.76 579.4,817.69 580.1,817.31 580.8,817.37 581.5,817.29 582.2,817.34 582.9,817.16 583.6,817.22 584.3,817.29 585,817.24 585.7,817.53 586.4,817.58 587.1,817.78 587.8,817.75 588.5,817.84 589.2,817.76 589.9,817.66 590.6,817.37 591.3,817.06 592,816.48 592.7,816.8 593.4,816.78 594.1,816.86 594.8,817.11 595.5,817.56 596.2,817.37 596.9,817.46 597.6,817.83 598.3,817.69 599,817.42 599.7,817.47 600.4,817.78 601.1,817.67 601.8,817.86 602.5,817.95 603.2,817.85 603.9,817.6 604.6,817.34 605.3,817.43 606,817.25 606.7,817.15 607.4,817.44 608.1,817.68 608.8,817.49 609.5,817.65 610.2,817.58 610.9,817.66 611.6,817.46 612.3,817.44 613,817.36 613.7,817.51 614.4,817.18 615.1,817.46 615.8,817.6 616.5,817.56 617.2,817.82 617.9,817.91 618.6,817.88 619.3,817.85 620,817.98 620.7,817.8 621.4,817.87 622.1,817.9 622.8,817.75 623.5,817.36 624.2,817.38 624.9,816.93 625.6,816.58 626.3,816.72 627,817.12 627.7,817.3 628.4,817.64 629.1,817.69 629.8,817.71 630.5,817.74 631.2,817.78 631.9,817.78 632.6,817.72 633.3,817.8 634,817.54 634.7,817.36 635.4,817.13 636.1,816.99 636.8,817.06 637.5,817.19 638.2,817.41 638.9,817.36 639.6,817.63 640.3,817.37 641,817.25 641.7,816.98 642.4,816.93 643.1,816.97 643.8,816.94 644.5,817.04 645.2,817.38 645.9,817.67 646.6,817.37 647.3,817.52 648,817.8 648.7,817.39 649.4,817.05 650.1,817.02 650.8,816.88 651.5,816.27 651.9,816.46" fill="none" stroke="#e88028" stroke-width="1.25" stroke-linejoin="round"/>
<polygon points="118.1,844.5 118.1,843.12 118.8,843.29 119.5,843.45 120.2,843.41 120.9,843.75 121.6,843.96 122.3,844 123,843.85 123.7,843.85 124.4,843.81 125.1,843.51 125.8,843.1 126.5,843.53 127.2,843.46 127.9,842.98 128.6,843.32 129.3,843.48 130,843.14 130.7,842.92 131.4,843.48 132.1,843.28 132.8,843.14 133.5,843.21 134.2,843.24 134.9,842.63 135.6,842.16 136.3,841.73 137,841.61 137.7,841.14 138.4,841.32 139.1,841.52 139.8,841.81 140.5,841.93 141.2,842.1 141.9,841.97 142.6,842.8 143.3,843.23 144,842.97 144.7,843.39 145.4,843.62 146.1,843.36 146.8,843.39 147.5,843.47 148.2,843.5 148.9,843.42 149.6,843.46 150.3,843.61 151,843.61 151.7,843.3 152.4,843.14 153.1,843.36 153.8,843.05 154.5,843.43 155.2,843.46 155.9,843.58 156.6,843.2 157.3,843.43 158,843.37 158.7,843.69 159.4,843.55 160.1,843.66 160.8,843.66 161.5,843.43 162.2,843.21 162.9,843.51 163.6,843.43 164.3,843.08 165,843.24 165.7,843.33 166.4,843.34 167.1,843.55 167.8,843.78 168.5,843.89 169.2,843.8 169.9,843.55 170.6,843.45 171.3,843.34 172,843.41 172.7,843.21 173.4,843.56 174.1,843.69 174.8,843.55 175.5,843.06 176.2,843.53 176.9,843.64 177.6,843.68 178.3,843.55 179,843.72 179.7,843.72 180.4,843.45 181.1,843.29 181.8,843.73 182.5,843.89 183.2,843.8 183.9,843.67 184.6,843.7 185.3,843.26 186,843.06 186.7,843.09 187.4,843.58 188.1,843.49 188.8,843.84 189.5,843.62 190.2,843.47 190.9,843.51 191.6,843.5 192.3,843.34 193,843.49 193.7,843.5 194.4,843.46 195.1,843.53 195.8,843.45 196.5,843.71 197.2,843.59 197.9,843.28 198.6,843.44 199.3,843.7 200,843.56 200.7,843.67 201.4,843.71 202.1,843.74 202.8,843.5 203.5,843.43 204.2,843.65 204.9,843.7 205.6,843.47 206.3,843.39 207,843.61 207.7,843.66 208.4,843.56 209.1,843.38 209.8,843.47 210.5,843.01 211.2,842.79 211.9,843.16 212.6,843.36 213.3,843.51 214,843.52 214.7,843.33 215.4,843.39 216.1,843.57 216.8,843.3 217.5,843.7 218.2,843.88 218.9,843.89 219.6,843.76 220.3,843.69 221,843.37 221.7,842.95 222.4,842.84 223.1,842.75 223.8,842.73 224.5,842.65 225.2,843.12 225.9,843.06 226.6,842.97 227.3,843.17 228,843.41 228.7,843.39 229.4,843.52 230.1,843.6 230.8,843.64 231.5,843.75 232.2,843.8 232.9,843.37 233.6,843.29 234.3,843.6 235,843.58 235.7,843.16 236.4,843.44 237.1,843.35 237.8,842.78 238.5,842 239.2,840.96 239.9,839.95 240.6,839.18 241.3,839.05 242,840.02 242.7,841.15 243.4,841.63 244.1,842.8 244.8,843.21 245.5,843.09 246.2,843.51 246.9,843.62 247.6,843.19 248.3,842.96 249,842.73 249.7,842.6 250.4,842.68 251.1,842.73 251.8,843.12 252.5,843.15 253.2,843.14 253.9,842.97 254.6,843.29 255.3,843.15 256,843.34 256.7,843.49 257.4,843.68 258.1,843.51 258.8,843.47 259.5,843.19 260.2,842.75 260.9,843.01 261.6,843.16 262.3,843.27 263,843.73 263.7,843.66 264.4,843.41 265.1,843.51 265.8,843.42 266.5,843.03 267.2,843.14 267.9,842.98 268.6,842.79 269.3,842.87 270,842.93 270.7,843.26 271.4,843.63 272.1,843.42 272.8,843.03 273.5,842.69 274.2,841.75 274.9,840.45 275.6,839.33 276.3,838.13 277,837.33 277.7,837.39 278.4,837.91 279.1,838.65 279.8,839.95 280.5,840.5 281.2,840.67 281.9,840.84 282.6,841.13 283.3,841.57 284,842.39 284.7,843.13 285.4,843.42 286.1,843.58 286.8,843.68 287.5,843.57 288.2,843.06 288.9,843.48 289.6,843.15 290.3,842.84 291,842.55 291.7,841.84 292.4,841.17 293.1,840.94 293.8,841.38 294.5,841.98 295.2,842.78 295.9,843.3 296.6,843.6 297.3,843.56 298,843.13 298.7,843.3 299.4,842.99 300.1,843.27 300.8,843.29 301.5,843.43 302.2,843.29 302.9,842.97 303.6,842.47 304.3,841.94 305,841.92 305.7,842.1 306.4,842.64 307.1,843.07 307.8,843.2 308.5,842.85 309.2,842.63 309.9,842.05 310.6,841.31 311.3,840.97 312,841.07 312.7,841.45 313.4,841.92 314.1,842.66 314.8,843.37 315.5,843.74 316.2,843.61 316.9,843.8 317.6,843.84 318.3,843.75 319,843.69 319.7,843.76 320.4,843.77 321.1,843.81 321.8,843.71 322.5,843.8 323.2,843.67 323.9,843.3 324.6,843.33 325.3,843.37 326,842.88 326.7,843.31 327.4,843.31 328.1,843.16 328.8,843.48 329.5,843.82 330.2,843.79 330.9,843.98 331.6,843.91 332.3,843.73 333,843.38 333.7,843.2 334.4,843.16 335.1,843.5 335.8,843.34 336.5,843.6 337.2,843.46 337.9,843.6 338.6,843.51 339.3,843.49 340,843.23 340.7,843.65 341.4,843.32 342.1,842.95 342.8,843.08 343.5,843.11 344.2,843 344.9,843.17 345.6,843.19 346.3,843.22 347,843.6 347.7,843.62 348.4,843.68 349.1,843.91 349.8,844 350.5,843.97 351.2,843.75 351.9,843.76 352.6,843.38 353.3,843.07 354,842.96 354.7,843.39 355.4,843.02 356.1,843.39 356.8,843.46 357.5,843.22 358.2,843.02 358.9,843.14 359.6,842.95 359.9,842.99 359.9,844.5" fill="#f8c891" stroke="none" stroke-width="0" />
<polyline points="118.1,843.12 118.8,843.29 119.5,843.45 120.2,843.41 120.9,843.75 121.6,843.96 122.3,844 123,843.85 123.7,843.85 124.4,843.81 125.1,843.51 125.8,843.1 126.5,843.53 127.2,843.46 127.9,842.98 128.6,843.32 129.3,843.48 130,843.14 130.7,842.92 131.4,843.48 132.1,843.28 132.8,843.14 133.5,843.21 134.2,843.24 134.9,842.63 135.6,842.16 136.3,841.73 137,841.61 137.7,841.14 138.4,841.32 139.1,841.52 139.8,841.81 140.5,841.93 141.2,842.1 141.9,841.97 142.6,842.8 143.3,843.23 144,842.97 144.7,843.39 145.4,843.62 146.1,843.36 146.8,843.39 147.5,843.47 148.2,843.5 148.9,843.42 149.6,843.46 150.3,843.61 151,843.61 151.7,843.3 152.4,843.14 153.1,843.36 153.8,843.05 154.5,843.43 155.2,843.46 155.9,843.58 156.6,843.2 157.3,843.43 158,843.37 158.7,843.69 159.4,843.55 160.1,843.66 160.8,843.66 161.5,843.43 162.2,843.21 162.9,843.51 163.6,843.43 164.3,843.08 165,843.24 165.7,843.33 166.4,843.34 167.1,843.55 167.8,843.78 168.5,843.89 169.2,843.8 169.9,843.55 170.6,843.45 171.3,843.34 172,843.41 172.7,843.21 173.4,843.56 174.1,843.69 174.8,843.55 175.5,843.06 176.2,843.53 176.9,843.64 177.6,843.68 178.3,843.55 179,843.72 179.7,843.72 180.4,843.45 181.1,843.29 181.8,843.73 182.5,843.89 183.2,843.8 183.9,843.67 184.6,843.7 185.3,843.26 186,843.06 186.7,843.09 187.4,843.58 188.1,843.49 188.8,843.84 189.5,843.62 190.2,843.47 190.9,843.51 191.6,843.5 192.3,843.34 193,843.49 193.7,843.5 194.4,843.46 195.1,843.53 195.8,843.45 196.5,843.71 197.2,843.59 197.9,843.28 198.6,843.44 199.3,843.7 200,843.56 200.7,843.67 201.4,843.71 202.1,843.74 202.8,843.5 203.5,843.43 204.2,843.65 204.9,843.7 205.6,843.47 206.3,843.39 207,843.61 207.7,843.66 208.4,843.56 209.1,843.38 209.8,843.47 210.5,843.01 211.2,842.79 211.9,843.16 212.6,843.36 213.3,843.51 214,843.52 214.7,843.33 215.4,843.39 216.1,843.57 216.8,843.3 217.5,843.7 218.2,843.88 218.9,843.89 219.6,843.76 220.3,843.69 221,843.37 221.7,842.95 222.4,842.84 223.1,842.75 223.8,842.73 224.5,842.65 225.2,843.12 225.9,843.06 226.6,842.97 227.3,843.17 228,843.41 228.7,843.39 229.4,843.52 230.1,843.6 230.8,843.64 231.5,843.75 232.2,843.8 232.9,843.37 233.6,843.29 234.3,843.6 235,843.58 235.7,843.16 236.4,843.44 237.1,843.35 237.8,842.78 238.5,842 239.2,840.96 239.9,839.95 240.6,839.18 241.3,839.05 242,840.02 242.7,841.15 243.4,841.63 244.1,842.8 244.8,843.21 245.5,843.09 246.2,843.51 246.9,843.62 247.6,843.19 248.3,842.96 249,842.73 249.7,842.6 250.4,842.68 251.1,842.73 251.8,843.12 252.5,843.15 253.2,843.14 253.9,842.97 254.6,843.29 255.3,843.15 256,843.34 256.7,843.49 257.4,843.68 258.1,843.51 258.8,843.47 259.5,843.19 260.2,842.75 260.9,843.01 261.6,843.16 262.3,843.27 263,843.73 263.7,843.66 264.4,843.41 265.1,843.51 265.8,843.42 266.5,843.03 267.2,843.14 267.9,842.98 268.6,842.79 269.3,842.87 270,842.93 270.7,843.26 271.4,843.63 272.1,843.42 272.8,843.03 273.5,842.69 274.2,841.75 274.9,840.45 275.6,839.33 276.3,838.13 277,837.33 277.7,837.39 278.4,837.91 279.1,838.65 279.8,839.95 280.5,840.5 281.2,840.67 281.9,840.84 282.6,841.13 283.3,841.57 284,842.39 284.7,843.13 285.4,843.42 286.1,843.58 286.8,843.68 287.5,843.57 288.2,843.06 288.9,843.48 289.6,843.15 290.3,842.84 291,842.55 291.7,841.84 292.4,841.17 293.1,840.94 293.8,841.38 294.5,841.98 295.2,842.78 295.9,843.3 296.6,843.6 297.3,843.56 298,843.13 298.7,843.3 299.4,842.99 300.1,843.27 300.8,843.29 301.5,843.43 302.2,843.29 302.9,842.97 303.6,842.47 304.3,841.94 305,841.92 305.7,842.1 306.4,842.64 307.1,843.07 307.8,843.2 308.5,842.85 309.2,842.63 309.9,842.05 310.6,841.31 311.3,840.97 312,841.07 312.7,841.45 313.4,841.92 314.1,842.66 314.8,843.37 315.5,843.74 316.2,843.61 316.9,843.8 317.6,843.84 318.3,843.75 319,843.69 319.7,843.76 320.4,843.77 321.1,843.81 321.8,843.71 322.5,843.8 323.2,843.67 323.9,843.3 324.6,843.33 325.3,843.37 326,842.88 326.7,843.31 327.4,843.31 328.1,843.16 328.8,843.48 329.5,843.82 330.2,843.79 330.9,843.98 331.6,843.91 332.3,843.73 333,843.38 333.7,843.2 334.4,843.16 335.1,843.5 335.8,843.34 336.5,843.6 337.2,843.46 337.9,843.6 338.6,843.51 339.3,843.49 340,843.23 340.7,843.65 341.4,843.32 342.1,842.95 342.8,843.08 343.5,843.11 344.2,843 344.9,843.17 345.6,843.19 346.3,843.22 347,843.6 347.7,843.62 348.4,843.68 349.1,843.91 349.8,844 350.5,843.97 351.2,843.75 351.9,843.76 352.6,843.38 353.3,843.07 354,842.96 354.7,843.39 355.4,843.02 356.1,843.39 356.8,843.46 357.5,843.22 358.2,843.02 358.9,843.14 359.6,842.95 359.9,842.99" fill="none" stroke="#f2b06a" stroke-width="1.25" stroke-linejoin="round"/>
<polygon points="412.1,844.5 412.1,843.73 412.8,843.49 413.5,843.58 414.2,843.38 414.9,843.2 415.6,842.77 416.3,842.34 417,841.35 417.7,840.94 418.4,841.29 419.1,841.74 419.8,842.1 420.5,842.97 421.2,843.14 421.9,843.15 422.6,843.22 423.3,843.56 424,843.52 424.7,843.64 425.4,843.77 426.1,843.61 426.8,843.54 427.5,843.6 428.2,843.49 428.9,843.35 429.6,843.18 430.3,842.95 431,842.6 431.7,842.75 432.4,842.59 433.1,843.08 433.8,843.19 434.5,843.05 435.2,843.04 435.9,843.06 436.6,842.57 437.3,842.68 438,842.67 438.7,842.52 439.4,842.99 440.1,843.04 440.8,843.08 441.5,843.27 442.2,843.54 442.9,843.02 443.6,843.33 444.3,843.32 445,843.31 445.7,843.27 446.4,843.72 447.1,843.8 447.8,843.81 448.5,843.76 449.2,843.86 449.9,843.6 450.6,843.54 451.3,843.55 452,843.73 452.7,843.72 453.4,843.61 454.1,843.42 454.8,843.65 455.5,843.61 456.2,843.61 456.9,843.71 457.6,843.6 458.3,843.39 459,843.44 459.7,843.48 460.4,843.34 461.1,843.62 461.8,843.61 462.5,843.4 463.2,843.38 463.9,843.66 464.6,843.35 465.3,843.17 466,843.22 466.7,843.24 467.4,843.3 468.1,843.64 468.8,843.76 469.5,843.71 470.2,843.53 470.9,843.23 471.6,842.72 472.3,842.76 473,843.01 473.7,842.68 474.4,843.18 475.1,843.57 475.8,843.68 476.5,843.6 477.2,843.66 477.9,843.59 478.6,843.66 479.3,843.6 480,843.84 480.7,843.84 481.4,843.9 482.1,843.88 482.8,843.85 483.5,843.71 484.2,843.82 484.9,843.56 485.6,843.49 486.3,843.3 487,843.07 487.7,842.9 488.4,843.09 489.1,842.69 489.8,843.2 490.5,843.43 491.2,843.48 491.9,843.44 492.6,843.71 493.3,843.4 494,843.23 494.7,843.2 495.4,843.12 496.1,842.82 496.8,843.06 497.5,843.43 498.2,843.26 498.9,843.54 499.6,843.77 500.3,843.52 501,843.33 501.7,843.78 502.4,843.76 503.1,843.71 503.8,843.97 504.5,843.95 505.2,843.77 505.9,843.66 506.6,843.54 507.3,843.58 508,843.37 508.7,843.59 509.4,843.39 510.1,843.43 510.8,842.98 511.5,843.26 512.2,842.9 512.9,842.98 513.6,842.97 514.3,843.34 515,843.58 515.7,843.49 516.4,843.59 517.1,843.59 517.8,843.36 518.5,843.17 519.2,843.51 519.9,843.37 520.6,843.43 521.3,843.61 522,843.33 522.7,843 523.4,843.14 524.1,842.74 524.8,842.46 525.5,842.77 526.2,842.78 526.9,842.13 527.6,842.02 528.3,841.51 529,840.78 529.7,840.61 530.4,840.95 531.1,841.37 531.8,842 532.5,842.85 533.2,843.27 533.9,843.51 534.6,843.4 535.3,843.22 536,842.77 536.7,842.65 537.4,842.74 538.1,843.27 538.8,843.39 539.5,843.4 540.2,843.59 540.9,843.74 541.6,843.38 542.3,843.43 543,843.72 543.7,843.75 544.4,843.49 545.1,843.82 545.8,843.85 546.5,843.84 547.2,843.8 547.9,843.78 548.6,843.52 549.3,843.43 550,843.01 550.7,842.5 551.4,842.33 552.1,841.68 552.8,840.49 553.5,840.23 554.2,840.11 554.9,840.92 555.6,841.69 556.3,842.65 557,842.97 557.7,843.47 558.4,843.26 559.1,843.17 559.8,843.12 560.5,843.44 561.2,843.12 561.9,842.96 562.6,843.24 563.3,843.4 564,843.35 564.7,843.4 565.4,843.75 566.1,843.74 566.8,843.63 567.5,843.39 568.2,843.55 568.9,843.03 569.6,842.71 570.3,843.09 571,842.92 571.7,842.95 572.4,843.4 573.1,843.59 573.8,843.3 574.5,843.74 575.2,843.68 575.9,843.53 576.6,843.72 577.3,843.74 578,843.42 578.7,843.52 579.4,843.71 580.1,843.68 580.8,843.73 581.5,843.9 582.2,843.74 582.9,843.78 583.6,843.62 584.3,843.8 585,843.64 585.7,843.54 586.4,843.41 587.1,843.33 587.8,843.16 588.5,843.5 589.2,843.84 589.9,843.81 590.6,843.93 591.3,843.93 592,843.94 592.7,843.73 593.4,843.66 594.1,843.66 594.8,843.52 595.5,843.33 596.2,843.55 596.9,843.64 597.6,843.37 598.3,843.63 599,843.72 599.7,843.6 600.4,843.56 601.1,843.87 601.8,843.53 602.5,843.29 603.2,843.19 603.9,843.17 604.6,842.61 605.3,842.57 606,842.83 606.7,843.3 607.4,843.09 608.1,842.98 608.8,843.05 609.5,842.63 610.2,841.89 610.9,842.19 611.6,842.22 612.3,842.24 613,842.59 613.7,842.62 614.4,842.81 615.1,842.84 615.8,843.15 616.5,843.42 617.2,843.73 617.9,843.73 618.6,843.95 619.3,843.8 620,843.8 620.7,843.76 621.4,843.56 622.1,843.34 622.8,843.3 623.5,843.01 624.2,842.99 624.9,843.03 625.6,842.86 626.3,843.31 627,843.23 627.7,843.19 628.4,843.53 629.1,843.77 629.8,843.85 630.5,843.85 631.2,843.85 631.9,843.85 632.6,843.6 633.3,843.35 634,843.32 634.7,843.53 635.4,843.14 636.1,843.6 636.8,843.68 637.5,843.81 638.2,843.7 638.9,843.72 639.6,843.68 640.3,843.46 641,843.43 641.7,843.42 642.4,843.48 643.1,843.42 643.8,843.45 644.5,843.63 645.2,843.72 645.9,843.59 646.6,843.54 647.3,843.59 648,843.48 648.7,843.54 649.4,843.53 650.1,843.67 650.8,843.49 651.5,843.36 651.9,842.84 651.9,844.5" fill="#f8c891" stroke="none" stroke-width="0" />
<polyline points="412.1,843.73 412.8,843.49 413.5,843.58 414.2,843.38 414.9,843.2 415.6,842.77 416.3,842.34 417,841.35 417.7,840.94 418.4,841.29 419.1,841.74 419.8,842.1 420.5,842.97 421.2,843.14 421.9,843.15 422.6,843.22 423.3,843.56 424,843.52 424.7,843.64 425.4,843.77 426.1,843.61 426.8,843.54 427.5,843.6 428.2,843.49 428.9,843.35 429.6,843.18 430.3,842.95 431,842.6 431.7,842.75 432.4,842.59 433.1,843.08 433.8,843.19 434.5,843.05 435.2,843.04 435.9,843.06 436.6,842.57 437.3,842.68 438,842.67 438.7,842.52 439.4,842.99 440.1,843.04 440.8,843.08 441.5,843.27 442.2,843.54 442.9,843.02 443.6,843.33 444.3,843.32 445,843.31 445.7,843.27 446.4,843.72 447.1,843.8 447.8,843.81 448.5,843.76 449.2,843.86 449.9,843.6 450.6,843.54 451.3,843.55 452,843.73 452.7,843.72 453.4,843.61 454.1,843.42 454.8,843.65 455.5,843.61 456.2,843.61 456.9,843.71 457.6,843.6 458.3,843.39 459,843.44 459.7,843.48 460.4,843.34 461.1,843.62 461.8,843.61 462.5,843.4 463.2,843.38 463.9,843.66 464.6,843.35 465.3,843.17 466,843.22 466.7,843.24 467.4,843.3 468.1,843.64 468.8,843.76 469.5,843.71 470.2,843.53 470.9,843.23 471.6,842.72 472.3,842.76 473,843.01 473.7,842.68 474.4,843.18 475.1,843.57 475.8,843.68 476.5,843.6 477.2,843.66 477.9,843.59 478.6,843.66 479.3,843.6 480,843.84 480.7,843.84 481.4,843.9 482.1,843.88 482.8,843.85 483.5,843.71 484.2,843.82 484.9,843.56 485.6,843.49 486.3,843.3 487,843.07 487.7,842.9 488.4,843.09 489.1,842.69 489.8,843.2 490.5,843.43 491.2,843.48 491.9,843.44 492.6,843.71 493.3,843.4 494,843.23 494.7,843.2 495.4,843.12 496.1,842.82 496.8,843.06 497.5,843.43 498.2,843.26 498.9,843.54 499.6,843.77 500.3,843.52 501,843.33 501.7,843.78 502.4,843.76 503.1,843.71 503.8,843.97 504.5,843.95 505.2,843.77 505.9,843.66 506.6,843.54 507.3,843.58 508,843.37 508.7,843.59 509.4,843.39 510.1,843.43 510.8,842.98 511.5,843.26 512.2,842.9 512.9,842.98 513.6,842.97 514.3,843.34 515,843.58 515.7,843.49 516.4,843.59 517.1,843.59 517.8,843.36 518.5,843.17 519.2,843.51 519.9,843.37 520.6,843.43 521.3,843.61 522,843.33 522.7,843 523.4,843.14 524.1,842.74 524.8,842.46 525.5,842.77 526.2,842.78 526.9,842.13 527.6,842.02 528.3,841.51 529,840.78 529.7,840.61 530.4,840.95 531.1,841.37 531.8,842 532.5,842.85 533.2,843.27 533.9,843.51 534.6,843.4 535.3,843.22 536,842.77 536.7,842.65 537.4,842.74 538.1,843.27 538.8,843.39 539.5,843.4 540.2,843.59 540.9,843.74 541.6,843.38 542.3,843.43 543,843.72 543.7,843.75 544.4,843.49 545.1,843.82 545.8,843.85 546.5,843.84 547.2,843.8 547.9,843.78 548.6,843.52 549.3,843.43 550,843.01 550.7,842.5 551.4,842.33 552.1,841.68 552.8,840.49 553.5,840.23 554.2,840.11 554.9,840.92 555.6,841.69 556.3,842.65 557,842.97 557.7,843.47 558.4,843.26 559.1,843.17 559.8,843.12 560.5,843.44 561.2,843.12 561.9,842.96 562.6,843.24 563.3,843.4 564,843.35 564.7,843.4 565.4,843.75 566.1,843.74 566.8,843.63 567.5,843.39 568.2,843.55 568.9,843.03 569.6,842.71 570.3,843.09 571,842.92 571.7,842.95 572.4,843.4 573.1,843.59 573.8,843.3 574.5,843.74 575.2,843.68 575.9,843.53 576.6,843.72 577.3,843.74 578,843.42 578.7,843.52 579.4,843.71 580.1,843.68 580.8,843.73 581.5,843.9 582.2,843.74 582.9,843.78 583.6,843.62 584.3,843.8 585,843.64 585.7,843.54 586.4,843.41 587.1,843.33 587.8,843.16 588.5,843.5 589.2,843.84 589.9,843.81 590.6,843.93 591.3,843.93 592,843.94 592.7,843.73 593.4,843.66 594.1,843.66 594.8,843.52 595.5,843.33 596.2,843.55 596.9,843.64 597.6,843.37 598.3,843.63 599,843.72 599.7,843.6 600.4,843.56 601.1,843.87 601.8,843.53 602.5,843.29 603.2,843.19 603.9,843.17 604.6,842.61 605.3,842.57 606,842.83 606.7,843.3 607.4,843.09 608.1,842.98 608.8,843.05 609.5,842.63 610.2,841.89 610.9,842.19 611.6,842.22 612.3,842.24 613,842.59 613.7,842.62 614.4,842.81 615.1,842.84 615.8,843.15 616.5,843.42 617.2,843.73 617.9,843.73 618.6,843.95 619.3,843.8 620,843.8 620.7,843.76 621.4,843.56 622.1,843.34 622.8,843.3 623.5,843.01 624.2,842.99 624.9,843.03 625.6,842.86 626.3,843.31 627,843.23 627.7,843.19 628.4,843.53 629.1,843.77 629.8,843.85 630.5,843.85 631.2,843.85 631.9,843.85 632.6,843.6 633.3,843.35 634,843.32 634.7,843.53 635.4,843.14 636.1,843.6 636.8,843.68 637.5,843.81 638.2,843.7 638.9,843.72 639.6,843.68 640.3,843.46 641,843.43 641.7,843.42 642.4,843.48 643.1,843.42 643.8,843.45 644.5,843.63 645.2,843.72 645.9,843.59 646.6,843.54 647.3,843.59 648,843.48 648.7,843.54 649.4,843.53 650.1,843.67 650.8,843.49 651.5,843.36 651.9,842.84" fill="none" stroke="#f2b06a" stroke-width="1.25" stroke-linejoin="round"/>
<text x="103.6" y="803.7" font-size="10.9" text-anchor="end" fill="#231f20" stroke="#231f20" stroke-width="0.12">HUDEP-2</text>
<text x="103.6" y="812.8" font-size="10.9" text-anchor="end" fill="#231f20" stroke="#231f20" stroke-width="0.12">GATA1−CUT&amp;RUN</text>
<text x="103.6" y="830" font-size="10.9" text-anchor="end" fill="#231f20" stroke="#231f20" stroke-width="0.12">HUDEP-2</text>
<text x="103.6" y="839.1" font-size="10.9" text-anchor="end" fill="#231f20" stroke="#231f20" stroke-width="0.12">H3K27Ac−CUT&amp;RUN</text>
<line x1="131.4" y1="623.8" x2="161.5" y2="623.8" stroke="#222" stroke-width="0.9" />
<line x1="131.4" y1="621.5" x2="131.4" y2="626.1" stroke="#222" stroke-width="0.9" />
<line x1="161.5" y1="621.5" x2="161.5" y2="626.1" stroke="#222" stroke-width="0.9" />
<text x="146.5" y="621.6" font-size="7.7" text-anchor="middle" fill="#231f20" stroke="#231f20" stroke-width="0.12">2.5 kb</text>
<line x1="597.3" y1="624" x2="645.2" y2="624" stroke="#222" stroke-width="0.9" />
<line x1="597.3" y1="621.7" x2="597.3" y2="626.3" stroke="#222" stroke-width="0.9" />
<line x1="645.2" y1="621.7" x2="645.2" y2="626.3" stroke="#222" stroke-width="0.9" />
<text x="621.2" y="621.9" font-size="7.7" text-anchor="middle" fill="#231f20" stroke="#231f20" stroke-width="0.12">1kb</text>
<rect x="239.3" y="610.6" width="3.6" height="234.2" fill="rgba(110,175,220,0.30)" stroke="none" stroke-width="0" />
<rect x="528.6" y="610.6" width="6.7" height="234.2" fill="rgba(110,175,220,0.30)" stroke="none" stroke-width="0" />
<rect x="117.5" y="610.5" width="243" height="24" fill="none" stroke="#222" stroke-width="1.0" />
<rect x="411.5" y="610.5" width="241" height="24" fill="none" stroke="#222" stroke-width="1.0" />
<rect x="117.5" y="636.5" width="243" height="24" fill="none" stroke="#222" stroke-width="1.0" />
<rect x="411.5" y="636.5" width="241" height="24" fill="none" stroke="#222" stroke-width="1.0" />
<rect x="117.5" y="663.5" width="243" height="23" fill="none" stroke="#222" stroke-width="1.0" />
<rect x="411.5" y="663.5" width="241" height="23" fill="none" stroke="#222" stroke-width="1.0" />
<rect x="117.5" y="689.5" width="243" height="23" fill="none" stroke="#222" stroke-width="1.0" />
<rect x="411.5" y="689.5" width="241" height="23" fill="none" stroke="#222" stroke-width="1.0" />
<rect x="117.5" y="715.5" width="243" height="23" fill="none" stroke="#222" stroke-width="1.0" />
<rect x="411.5" y="715.5" width="241" height="23" fill="none" stroke="#222" stroke-width="1.0" />
<rect x="117.5" y="741.5" width="243" height="23" fill="none" stroke="#222" stroke-width="1.0" />
<rect x="411.5" y="741.5" width="241" height="23" fill="none" stroke="#222" stroke-width="1.0" />
<rect x="117.5" y="767.5" width="243" height="23" fill="none" stroke="#222" stroke-width="1.0" />
<rect x="411.5" y="767.5" width="241" height="23" fill="none" stroke="#222" stroke-width="1.0" />
<rect x="117.5" y="795.5" width="243" height="23" fill="none" stroke="#222" stroke-width="1.0" />
<rect x="411.5" y="795.5" width="241" height="23" fill="none" stroke="#222" stroke-width="1.0" />
<rect x="117.5" y="821.5" width="243" height="23" fill="none" stroke="#222" stroke-width="1.0" />
<rect x="411.5" y="821.5" width="241" height="23" fill="none" stroke="#222" stroke-width="1.0" />
<polygon points="239,844.8 243.2,844.8 243.2,850.4 244.4,850.4 312.6,862.3 312.6,902.5 172.9,902.5 172.9,862.3 239,850.4" fill="#d5e5ef" stroke="none" stroke-width="0" />
<polyline points="172.9,862.3 239.4,850.4 244.4,850.4 312.6,862.3" fill="none" stroke="#707070" stroke-width="1.5" stroke-dasharray="4.2 2.4"/>
<polygon points="528.6,844.8 535.3,844.8 535.3,846.5 604.2,860.4 604.2,899.9 460,899.9 460,860.4 528.6,846.5" fill="#d5e5ef" stroke="none" stroke-width="0" />
<polyline points="460,860.4 528.2,846.4 535.6,846.4 604.2,860.4" fill="none" stroke="#707070" stroke-width="1.5" stroke-dasharray="4.2 2.4"/>
<text x="204.3" y="872.8" font-size="10.7" fill="#231f20" stroke="#231f20" stroke-width="0.12">ETS/2;ZNF384/2</text>
<rect x="289.3" y="867.1" width="16.2" height="4.4" fill="#e8262b" stroke="none" stroke-width="0" rx="2.2"/>
<rect x="247.2" y="876.35" width="4.8" height="3.7" fill="#e8262b" stroke="none" stroke-width="0" rx="1.85"/>
<rect x="264.3" y="876.35" width="5.2" height="3.7" fill="#e8262b" stroke="none" stroke-width="0" rx="1.85"/>
<text x="272" y="881.4" font-size="10.7" fill="#231f20" stroke="#231f20" stroke-width="0.12">GC−tract;NR/17</text>
<text x="160.6" y="891.2" font-size="10.7" fill="#231f20" stroke="#231f20" stroke-width="0.12">GATA</text>
<rect x="188.1" y="885.8" width="19.2" height="4.4" fill="#e8262b" stroke="none" stroke-width="0" rx="2.2"/>
<rect x="211" y="885.8" width="10" height="4.4" fill="#e8262b" stroke="none" stroke-width="0" rx="2.2"/>
<rect x="168.4" y="896.5" width="10.5" height="4.4" fill="#e8262b" stroke="none" stroke-width="0" rx="2.2"/>
<text x="183.9" y="901.6" font-size="10.7" fill="#231f20" stroke="#231f20" stroke-width="0.12">GC−tract;RUNX/1</text>
<text x="103.9" y="879.6" font-size="10.7" text-anchor="end" fill="#231f20" stroke="#231f20" stroke-width="0.12">Consensus footprints</text>
<text x="103.5" y="889.5" font-size="10.7" text-anchor="end" fill="#231f20" stroke="#231f20" stroke-width="0.12">and collapsed motifs</text>
<text x="428.4" y="872.6" font-size="11.1" fill="#231f20" stroke="#231f20" stroke-width="0.12">HIC/1;SCRT1;ZNF53</text>
<rect x="532.4" y="867" width="10.2" height="3.8" fill="#e8262b" stroke="none" stroke-width="0" rx="1.9"/>
<rect x="555.8" y="867" width="7.2" height="3.8" fill="#e8262b" stroke="none" stroke-width="0" rx="1.9"/>
<rect x="571.2" y="867" width="5" height="3.8" fill="#e8262b" stroke="none" stroke-width="0" rx="1.9"/>
<rect x="594.6" y="867" width="9.9" height="3.8" fill="#e8262b" stroke="none" stroke-width="0" rx="1.9"/>
<rect x="496.5" y="879.4" width="15.5" height="3.8" fill="#e8262b" stroke="none" stroke-width="0" rx="1.9"/>
<text x="518.2" y="883.7" font-size="10.7" fill="#231f20" stroke="#231f20" stroke-width="0.12">GATA;KLF/SP/1</text>
<rect x="463.2" y="895.5" width="15.2" height="3.6" fill="#e8262b" stroke="none" stroke-width="0" rx="1.8"/>
<text x="484.6" y="899.8" font-size="10.7" fill="#231f20" stroke="#231f20" stroke-width="0.12">HD/1;POU/1;STAT/2</text>
<rect x="188.9" y="978.6" width="5.9" height="144.4" fill="#d8e9f5" stroke="none" stroke-width="0" />
<rect x="508.7" y="971.5" width="8.5" height="151.5" fill="#d8e9f5" stroke="none" stroke-width="0" />
<text x="190.1" y="955" font-size="13" text-anchor="middle" fill="#231f20" stroke="#231f20" stroke-width="0.12">chr8</text>
<line x1="105" y1="977.6" x2="277.5" y2="977.6" stroke="#231f20" stroke-width="1.2" />
<line x1="147.7" y1="973.7" x2="147.7" y2="977.6" stroke="#231f20" stroke-width="1.2" />
<line x1="190.7" y1="973.7" x2="190.7" y2="977.6" stroke="#231f20" stroke-width="1.2" />
<line x1="233.7" y1="973.7" x2="233.7" y2="977.6" stroke="#231f20" stroke-width="1.2" />
<line x1="276.4" y1="973.7" x2="276.4" y2="977.6" stroke="#231f20" stroke-width="1.2" />
<text x="148.1" y="970.3" font-size="9" text-anchor="middle" fill="#231f20" stroke="#231f20" stroke-width="0.12">128,040,000</text>
<text x="233.6" y="970.3" font-size="9" text-anchor="middle" fill="#231f20" stroke="#231f20" stroke-width="0.12">128,050,000</text>
<line x1="107" y1="996.6" x2="276.5" y2="996.6" stroke="#c4c4c4" stroke-width="1.7" />
<polygon points="276,994 281,996.6 276,999.2" fill="#c4c4c4" stroke="none" stroke-width="0" />
<polygon points="105,994.4 108.6,996.6 105,998.8" fill="#9a9a9a" stroke="none" stroke-width="0" />
<line x1="107" y1="1005.5" x2="276.5" y2="1005.5" stroke="#c4c4c4" stroke-width="1.7" />
<polygon points="276,1002.9 281,1005.5 276,1008.1" fill="#c4c4c4" stroke="none" stroke-width="0" />
<polygon points="105,1003.3 108.6,1005.5 105,1007.7" fill="#9a9a9a" stroke="none" stroke-width="0" />
<text x="103.2" y="1001" font-size="10.7" text-anchor="end" font-style="italic" fill="#231f20" stroke="#231f20" stroke-width="0.12">PVT1</text>
<text x="103.2" y="1009.6" font-size="10.7" text-anchor="end" font-style="italic" fill="#231f20" stroke="#231f20" stroke-width="0.12">PVT1</text>
<text x="179.4" y="1017.4" font-size="10.7" font-style="italic" fill="#231f20" stroke="#231f20" stroke-width="0.12">MIR1207</text>
<rect x="225.8" y="1011" width="1.4" height="7" fill="#f5a623" stroke="none" stroke-width="0" rx="0.6"/>
<polygon points="227.2,1012.1 232.3,1014.4 227.2,1016.7" fill="#c4c4c4" stroke="none" stroke-width="0" />
<text transform="translate(59.4,1002) rotate(-90)" x="0" y="0" font-size="10.8" text-anchor="middle" fill="#231f20" stroke="#231f20" stroke-width="0.12">GENCODE</text>
<text transform="translate(60,1079.5) rotate(-90)" x="0" y="0" font-size="10.8" text-anchor="middle" fill="#231f20" stroke="#231f20" stroke-width="0.12">DNase I density</text>
<text x="507.3" y="950.7" font-size="13" text-anchor="middle" fill="#231f20" stroke="#231f20" stroke-width="0.12">chr22</text>
<line x1="425.3" y1="971.5" x2="590.8" y2="971.5" stroke="#231f20" stroke-width="1.2" />
<line x1="449.8" y1="967.5" x2="449.8" y2="971.5" stroke="#231f20" stroke-width="1.2" />
<text x="449.8" y="963.2" font-size="9" text-anchor="middle" fill="#231f20" stroke="#231f20" stroke-width="0.12">46,235,000</text>
<line x1="497.9" y1="967.5" x2="497.9" y2="971.5" stroke="#231f20" stroke-width="1.2" />
<text x="497.9" y="963.2" font-size="9" text-anchor="middle" fill="#231f20" stroke="#231f20" stroke-width="0.12">46,240,000</text>
<line x1="546.3" y1="967.5" x2="546.3" y2="971.5" stroke="#231f20" stroke-width="1.2" />
<text x="546.3" y="963.2" font-size="9" text-anchor="middle" fill="#231f20" stroke="#231f20" stroke-width="0.12">46,245,000</text>
<line x1="547" y1="977.4" x2="579" y2="977.4" stroke="#c4c4c4" stroke-width="1.6" />
<rect x="536.5" y="974.2" width="11.4" height="6.4" fill="#f5a623" stroke="none" stroke-width="0" />
<polygon points="536.6,974.8 532,977.4 536.6,980" fill="#c4c4c4" stroke="none" stroke-width="0" />
<polygon points="582.5,974.8 578.3,977.4 582.5,980" fill="#c4c4c4" stroke="none" stroke-width="0" />
<rect x="562" y="974.2" width="1.3" height="6.4" fill="#f5a623" stroke="none" stroke-width="0" />
<rect x="566.6" y="974.2" width="1.3" height="6.4" fill="#f5a623" stroke="none" stroke-width="0" />
<rect x="575.8" y="974.2" width="1.3" height="6.4" fill="#f5a623" stroke="none" stroke-width="0" />
<text x="528.2" y="981.4" font-size="9.5" text-anchor="end" font-style="italic" fill="#231f20" stroke="#231f20" stroke-width="0.12">CDPF1</text>
<line x1="547" y1="987.5" x2="590.5" y2="987.5" stroke="#c4c4c4" stroke-width="1.6" />
<rect x="536.5" y="984.3" width="11.4" height="6.4" fill="#f5a623" stroke="none" stroke-width="0" />
<polygon points="536.6,984.9 532,987.5 536.6,990.1" fill="#c4c4c4" stroke="none" stroke-width="0" />
<polygon points="594,984.9 589.8,987.5 594,990.1" fill="#c4c4c4" stroke="none" stroke-width="0" />
<rect x="562" y="984.3" width="1.3" height="6.4" fill="#f5a623" stroke="none" stroke-width="0" />
<rect x="566.6" y="984.3" width="1.3" height="6.4" fill="#f5a623" stroke="none" stroke-width="0" />
<rect x="575.8" y="984.3" width="1.3" height="6.4" fill="#f5a623" stroke="none" stroke-width="0" />
<text x="528.2" y="991.5" font-size="9.5" text-anchor="end" font-style="italic" fill="#231f20" stroke="#231f20" stroke-width="0.12">CDPF1</text>
<line x1="547" y1="997.6" x2="579" y2="997.6" stroke="#c4c4c4" stroke-width="1.6" />
<rect x="536.5" y="994.4" width="11.4" height="6.4" fill="#f5a623" stroke="none" stroke-width="0" />
<polygon points="536.6,995 532,997.6 536.6,1000.2" fill="#c4c4c4" stroke="none" stroke-width="0" />
<polygon points="582.5,995 578.3,997.6 582.5,1000.2" fill="#c4c4c4" stroke="none" stroke-width="0" />
<rect x="562" y="994.4" width="1.3" height="6.4" fill="#f5a623" stroke="none" stroke-width="0" />
<rect x="566.6" y="994.4" width="1.3" height="6.4" fill="#f5a623" stroke="none" stroke-width="0" />
<rect x="575.8" y="994.4" width="1.3" height="6.4" fill="#f5a623" stroke="none" stroke-width="0" />
<text x="528.2" y="1001.6" font-size="9.5" text-anchor="end" font-style="italic" fill="#231f20" stroke="#231f20" stroke-width="0.12">CDPF1</text>
<line x1="416" y1="1008.1" x2="452" y2="1008.1" stroke="#c4c4c4" stroke-width="1.6" />
<polygon points="410.8,1005.8 414.6,1008.1 410.8,1010.4" fill="#c4c4c4" stroke="none" stroke-width="0" />
<rect x="416" y="1005.2" width="5.9" height="5.8" fill="#f5a623" stroke="none" stroke-width="0" />
<rect x="451.1" y="1005.2" width="2.9" height="5.8" fill="#f5a623" stroke="none" stroke-width="0" />
<polygon points="454,1005.5 457.8,1008.1 454,1010.7" fill="#c4c4c4" stroke="none" stroke-width="0" />
<text x="462.2" y="1011.9" font-size="10.7" font-style="italic" fill="#231f20" stroke="#231f20" stroke-width="0.12">PPARA</text>
<line x1="416" y1="1018.9" x2="452" y2="1018.9" stroke="#c4c4c4" stroke-width="1.6" />
<polygon points="410.8,1016.6 414.6,1018.9 410.8,1021.2" fill="#c4c4c4" stroke="none" stroke-width="0" />
<rect x="416" y="1016" width="5.9" height="5.8" fill="#f5a623" stroke="none" stroke-width="0" />
<rect x="451.1" y="1015.5" width="83.2" height="6.8" fill="#f5a623" stroke="none" stroke-width="0" />
<polygon points="534.3,1016.3 538.9,1018.9 534.3,1021.5" fill="#c4c4c4" stroke="none" stroke-width="0" />
<text x="543" y="1022.7" font-size="10.7" font-style="italic" fill="#231f20" stroke="#231f20" stroke-width="0.12">PPARA</text>
<line x1="416" y1="1029.5" x2="452" y2="1029.5" stroke="#c4c4c4" stroke-width="1.6" />
<polygon points="410.8,1027.2 414.6,1029.5 410.8,1031.8" fill="#c4c4c4" stroke="none" stroke-width="0" />
<rect x="416" y="1026.6" width="5.9" height="5.8" fill="#f5a623" stroke="none" stroke-width="0" />
<rect x="451.1" y="1026.1" width="83.2" height="6.8" fill="#f5a623" stroke="none" stroke-width="0" />
<polygon points="534.3,1026.9 538.9,1029.5 534.3,1032.1" fill="#c4c4c4" stroke="none" stroke-width="0" />
<text x="543" y="1033.3" font-size="10.7" font-style="italic" fill="#231f20" stroke="#231f20" stroke-width="0.12">PPARA</text>
<rect x="508.7" y="1015.5" width="8.5" height="6.8" fill="rgba(110,175,220,0.35)" stroke="none" stroke-width="0" />
<rect x="508.7" y="1026.1" width="8.5" height="6.8" fill="rgba(110,175,220,0.35)" stroke="none" stroke-width="0" />
<line x1="105.2" y1="1037.2" x2="105.2" y2="1077.5" stroke="#231f20" stroke-width="1.3" />
<line x1="100.7" y1="1037.8" x2="105.2" y2="1037.8" stroke="#231f20" stroke-width="1.3" />
<line x1="100.7" y1="1076.9" x2="105.2" y2="1076.9" stroke="#231f20" stroke-width="1.3" />
<text x="99" y="1042.4" font-size="7.1" text-anchor="end" fill="#231f20" stroke="#231f20" stroke-width="0.12">234.8</text>
<text x="99" y="1078.2" font-size="7.1" text-anchor="end" fill="#231f20" stroke="#231f20" stroke-width="0.12">0</text>
<polygon points="105.6,1076.8 105.6,1075.97 106.2,1076.08 106.8,1076.12 107.4,1076.06 108,1076.23 108.6,1076.39 109.2,1076.33 109.8,1076.21 110.4,1076.41 111,1076.36 111.6,1076.51 112.2,1076.45 112.8,1076.48 113.4,1076.5 114,1076.25 114.6,1075.82 115.2,1075.91 115.8,1075.95 116.4,1075.89 117,1076.34 117.6,1076.49 118.2,1076.65 118.8,1076.73 119.4,1076.71 120,1076.71 120.6,1076.72 121.2,1076.65 121.8,1076.47 122.4,1076.38 123,1076.12 123.6,1076.07 124.2,1075.85 124.8,1075.74 125.4,1075.21 126,1074.02 126.6,1072.53 127.2,1071.49 127.8,1071.19 128.4,1071.89 129,1073.52 129.6,1074.97 130.2,1075.98 130.8,1076.36 131.4,1076.48 132,1076.3 132.6,1076.19 133.2,1075.52 133.8,1074.94 134.4,1074.36 135,1073.87 135.6,1073.32 136.2,1073.85 136.8,1074.57 137.4,1075.19 138,1075.78 138.6,1076.16 139.2,1076.11 139.8,1076.42 140.4,1076.5 141,1076.33 141.6,1075.97 142.2,1075.49 142.8,1074.81 143.4,1074.04 144,1073.82 144.6,1074.37 145.2,1075.08 145.8,1075.78 146.4,1076.11 147,1075.96 147.6,1075.42 148.2,1074.77 148.8,1074.46 149.4,1074.76 150,1075.56 150.6,1076.07 151.2,1076.5 151.8,1076.56 152.4,1076.48 153,1076.23 153.6,1076.28 154.2,1075.96 154.8,1075.99 155.4,1076.26 156,1076.24 156.6,1076.09 157.2,1076.41 157.8,1076.09 158.4,1076.17 159,1076.41 159.6,1076.36 160.2,1076.27 160.8,1076.52 161.4,1076.56 162,1076.6 162.6,1076.65 163.2,1076.67 163.8,1076.59 164.4,1076.49 165,1076.3 165.6,1075.92 166.2,1075.35 166.8,1074.72 167.4,1073.98 168,1074.12 168.6,1074.96 169.2,1075.43 169.8,1075.79 170.4,1076.27 171,1076.35 171.6,1076.12 172.2,1076.11 172.8,1076.37 173.4,1076.07 174,1075.7 174.6,1075.78 175.2,1076.05 175.8,1076.1 176.4,1076.46 177,1076.44 177.6,1076.55 178.2,1076.46 178.8,1076.41 179.4,1076.09 180,1076.25 180.6,1076.23 181.2,1076.43 181.8,1076.23 182.4,1076.39 183,1076.08 183.6,1075.05 184.2,1073.42 184.8,1072.45 185.4,1072.59 186,1073.54 186.6,1075.03 187.2,1076.11 187.8,1076.44 188.4,1076.18 189,1075.15 189.6,1071.31 190.2,1062.77 190.8,1050.13 191.4,1039.22 192,1037.4 192.6,1045.66 193.2,1058.27 193.8,1068.21 194.4,1072.61 195,1073.31 195.6,1072.94 196.2,1072.83 196.8,1073.62 197.4,1074.82 198,1075.82 198.6,1076.01 199.2,1076.09 199.8,1075.65 200.4,1075.5 201,1074.92 201.6,1074.48 202.2,1073.4 202.8,1073.28 203.4,1073.33 204,1073.81 204.6,1074.21 205.2,1074.92 205.8,1074.86 206.4,1074.59 207,1073.96 207.6,1073.53 208.2,1072.81 208.8,1072.27 209.4,1072.31 210,1073.16 210.6,1073.74 211.2,1074.42 211.8,1075.19 212.4,1075.65 213,1075.76 213.6,1075.68 214.2,1075.2 214.8,1074.32 215.4,1072.98 216,1071.76 216.6,1071.62 217.2,1072.52 217.8,1073.66 218.4,1074.56 219,1074.75 219.6,1073.17 220.2,1069.01 220.8,1064.1 221.4,1061.64 222,1063.89 222.6,1067.72 223.2,1069.31 223.8,1067 224.4,1062.92 225,1058.64 225.6,1054.37 226.2,1049.39 226.8,1045.6 227.4,1045.53 228,1049.54 228.6,1056.37 229.2,1063.89 229.8,1069.75 230.4,1073.21 231,1075 231.6,1075.92 232.2,1075.87 232.8,1075.71 233.4,1075.41 234,1074.8 234.6,1073.84 235.2,1073.34 235.8,1073.37 236.4,1074.15 237,1074.96 237.6,1075.44 238.2,1075.95 238.8,1076.36 239.4,1076.5 240,1076.32 240.6,1076.11 241.2,1075.66 241.8,1074.64 242.4,1073.93 243,1073.45 243.6,1073.28 244.2,1073.79 244.8,1074.83 245.4,1075.64 246,1076.08 246.6,1076.34 247.2,1076.42 247.8,1076.2 248.4,1075.86 249,1075.72 249.6,1075.37 250.2,1074.52 250.8,1073.31 251.4,1072.75 252,1072.68 252.6,1073.38 253.2,1074.47 253.8,1075.47 254.4,1076.02 255,1076.44 255.6,1076.55 256.2,1076.63 256.8,1076.63 257.4,1076.57 258,1076.57 258.6,1076.67 259.2,1076.52 259.8,1076.62 260.4,1076.51 261,1076.34 261.6,1076 262.2,1075.82 262.8,1075.66 263.4,1075.82 264,1075.7 264.6,1075.57 265.2,1075.29 265.8,1074.82 266.4,1074.53 267,1074.92 267.6,1075.47 268.2,1075.91 268.8,1076.18 269.4,1076.4 270,1076.3 270.6,1076.11 271.2,1076.09 271.8,1076.04 272.4,1075.84 273,1076.11 273.6,1076.03 274.2,1075.85 274.8,1076.18 275.4,1076.37 276,1076.14 276.6,1076.15 277.2,1076.3 277.8,1076.1 278.4,1075.99 278.5,1076.8" fill="rgba(60,60,60,0.72)" stroke="none" stroke-width="0" />
<polyline points="105.6,1075.97 106.2,1076.08 106.8,1076.12 107.4,1076.06 108,1076.23 108.6,1076.39 109.2,1076.33 109.8,1076.21 110.4,1076.41 111,1076.36 111.6,1076.51 112.2,1076.45 112.8,1076.48 113.4,1076.5 114,1076.25 114.6,1075.82 115.2,1075.91 115.8,1075.95 116.4,1075.89 117,1076.34 117.6,1076.49 118.2,1076.65 118.8,1076.73 119.4,1076.71 120,1076.71 120.6,1076.72 121.2,1076.65 121.8,1076.47 122.4,1076.38 123,1076.12 123.6,1076.07 124.2,1075.85 124.8,1075.74 125.4,1075.21 126,1074.02 126.6,1072.53 127.2,1071.49 127.8,1071.19 128.4,1071.89 129,1073.52 129.6,1074.97 130.2,1075.98 130.8,1076.36 131.4,1076.48 132,1076.3 132.6,1076.19 133.2,1075.52 133.8,1074.94 134.4,1074.36 135,1073.87 135.6,1073.32 136.2,1073.85 136.8,1074.57 137.4,1075.19 138,1075.78 138.6,1076.16 139.2,1076.11 139.8,1076.42 140.4,1076.5 141,1076.33 141.6,1075.97 142.2,1075.49 142.8,1074.81 143.4,1074.04 144,1073.82 144.6,1074.37 145.2,1075.08 145.8,1075.78 146.4,1076.11 147,1075.96 147.6,1075.42 148.2,1074.77 148.8,1074.46 149.4,1074.76 150,1075.56 150.6,1076.07 151.2,1076.5 151.8,1076.56 152.4,1076.48 153,1076.23 153.6,1076.28 154.2,1075.96 154.8,1075.99 155.4,1076.26 156,1076.24 156.6,1076.09 157.2,1076.41 157.8,1076.09 158.4,1076.17 159,1076.41 159.6,1076.36 160.2,1076.27 160.8,1076.52 161.4,1076.56 162,1076.6 162.6,1076.65 163.2,1076.67 163.8,1076.59 164.4,1076.49 165,1076.3 165.6,1075.92 166.2,1075.35 166.8,1074.72 167.4,1073.98 168,1074.12 168.6,1074.96 169.2,1075.43 169.8,1075.79 170.4,1076.27 171,1076.35 171.6,1076.12 172.2,1076.11 172.8,1076.37 173.4,1076.07 174,1075.7 174.6,1075.78 175.2,1076.05 175.8,1076.1 176.4,1076.46 177,1076.44 177.6,1076.55 178.2,1076.46 178.8,1076.41 179.4,1076.09 180,1076.25 180.6,1076.23 181.2,1076.43 181.8,1076.23 182.4,1076.39 183,1076.08 183.6,1075.05 184.2,1073.42 184.8,1072.45 185.4,1072.59 186,1073.54 186.6,1075.03 187.2,1076.11 187.8,1076.44 188.4,1076.18 189,1075.15 189.6,1071.31 190.2,1062.77 190.8,1050.13 191.4,1039.22 192,1037.4 192.6,1045.66 193.2,1058.27 193.8,1068.21 194.4,1072.61 195,1073.31 195.6,1072.94 196.2,1072.83 196.8,1073.62 197.4,1074.82 198,1075.82 198.6,1076.01 199.2,1076.09 199.8,1075.65 200.4,1075.5 201,1074.92 201.6,1074.48 202.2,1073.4 202.8,1073.28 203.4,1073.33 204,1073.81 204.6,1074.21 205.2,1074.92 205.8,1074.86 206.4,1074.59 207,1073.96 207.6,1073.53 208.2,1072.81 208.8,1072.27 209.4,1072.31 210,1073.16 210.6,1073.74 211.2,1074.42 211.8,1075.19 212.4,1075.65 213,1075.76 213.6,1075.68 214.2,1075.2 214.8,1074.32 215.4,1072.98 216,1071.76 216.6,1071.62 217.2,1072.52 217.8,1073.66 218.4,1074.56 219,1074.75 219.6,1073.17 220.2,1069.01 220.8,1064.1 221.4,1061.64 222,1063.89 222.6,1067.72 223.2,1069.31 223.8,1067 224.4,1062.92 225,1058.64 225.6,1054.37 226.2,1049.39 226.8,1045.6 227.4,1045.53 228,1049.54 228.6,1056.37 229.2,1063.89 229.8,1069.75 230.4,1073.21 231,1075 231.6,1075.92 232.2,1075.87 232.8,1075.71 233.4,1075.41 234,1074.8 234.6,1073.84 235.2,1073.34 235.8,1073.37 236.4,1074.15 237,1074.96 237.6,1075.44 238.2,1075.95 238.8,1076.36 239.4,1076.5 240,1076.32 240.6,1076.11 241.2,1075.66 241.8,1074.64 242.4,1073.93 243,1073.45 243.6,1073.28 244.2,1073.79 244.8,1074.83 245.4,1075.64 246,1076.08 246.6,1076.34 247.2,1076.42 247.8,1076.2 248.4,1075.86 249,1075.72 249.6,1075.37 250.2,1074.52 250.8,1073.31 251.4,1072.75 252,1072.68 252.6,1073.38 253.2,1074.47 253.8,1075.47 254.4,1076.02 255,1076.44 255.6,1076.55 256.2,1076.63 256.8,1076.63 257.4,1076.57 258,1076.57 258.6,1076.67 259.2,1076.52 259.8,1076.62 260.4,1076.51 261,1076.34 261.6,1076 262.2,1075.82 262.8,1075.66 263.4,1075.82 264,1075.7 264.6,1075.57 265.2,1075.29 265.8,1074.82 266.4,1074.53 267,1074.92 267.6,1075.47 268.2,1075.91 268.8,1076.18 269.4,1076.4 270,1076.3 270.6,1076.11 271.2,1076.09 271.8,1076.04 272.4,1075.84 273,1076.11 273.6,1076.03 274.2,1075.85 274.8,1076.18 275.4,1076.37 276,1076.14 276.6,1076.15 277.2,1076.3 277.8,1076.1 278.4,1075.99" fill="none" stroke="#111" stroke-width="1.1" stroke-linejoin="round"/>
<line x1="105.2" y1="1081" x2="105.2" y2="1121.2" stroke="#231f20" stroke-width="1.3" />
<line x1="100.7" y1="1081.6" x2="105.2" y2="1081.6" stroke="#231f20" stroke-width="1.3" />
<line x1="100.7" y1="1120.6" x2="105.2" y2="1120.6" stroke="#231f20" stroke-width="1.3" />
<text x="99" y="1086.2" font-size="7.1" text-anchor="end" fill="#231f20" stroke="#231f20" stroke-width="0.12">234.8</text>
<text x="99" y="1121.9" font-size="7.1" text-anchor="end" fill="#231f20" stroke="#231f20" stroke-width="0.12">0</text>
<polygon points="105.6,1120.6 105.6,1119.84 106.2,1120.01 106.8,1119.99 107.4,1119.66 108,1119.19 108.6,1118.45 109.2,1117.62 109.8,1117.02 110.4,1117.01 111,1117.3 111.6,1118.3 112.2,1118.99 112.8,1119.46 113.4,1119.27 114,1119.05 114.6,1118.18 115.2,1117.66 115.8,1117.11 116.4,1117.39 117,1117.77 117.6,1118.46 118.2,1119.16 118.8,1119.85 119.4,1119.95 120,1120 120.6,1120.18 121.2,1119.63 121.8,1118.79 122.4,1118.62 123,1118.07 123.6,1117.64 124.2,1117.82 124.8,1118.23 125.4,1118.76 126,1119.27 126.6,1119.76 127.2,1120.07 127.8,1120.07 128.4,1119.8 129,1119.4 129.6,1118.46 130.2,1117.53 130.8,1117.22 131.4,1117.45 132,1117.97 132.6,1118.65 133.2,1119.06 133.8,1119.16 134.4,1118.7 135,1118.04 135.6,1116.89 136.2,1115.86 136.8,1115.69 137.4,1116.28 138,1117.18 138.6,1117.6 139.2,1116.97 139.8,1115.75 140.4,1115.18 141,1115.43 141.6,1116.72 142.2,1118.15 142.8,1118.92 143.4,1118.63 144,1118.09 144.6,1117.31 145.2,1117.35 145.8,1117.8 146.4,1118.76 147,1119.43 147.6,1120.12 148.2,1120.27 148.8,1120.39 149.4,1120.28 150,1120.45 150.6,1120.35 151.2,1120.37 151.8,1120.39 152.4,1120.43 153,1120.14 153.6,1120.14 154.2,1119.8 154.8,1119.86 155.4,1119.63 156,1119.93 156.6,1120.06 157.2,1120.14 157.8,1119.81 158.4,1120.21 159,1120.24 159.6,1120.01 160.2,1120.13 160.8,1120.17 161.4,1119.69 162,1118.93 162.6,1118.17 163.2,1117.86 163.8,1118.22 164.4,1118.87 165,1119.45 165.6,1119.73 166.2,1119.53 166.8,1118.89 167.4,1117.97 168,1117.47 168.6,1117.78 169.2,1118.8 169.8,1119.61 170.4,1120.1 171,1119.93 171.6,1119.77 172.2,1119.93 172.8,1120.08 173.4,1119.8 174,1120.1 174.6,1120.07 175.2,1119.88 175.8,1119.53 176.4,1119.2 177,1118.51 177.6,1118.1 178.2,1118.07 178.8,1118.63 179.4,1119.41 180,1119.93 180.6,1119.79 181.2,1119.36 181.8,1118.69 182.4,1117.74 183,1116.9 183.6,1117.54 184.2,1118.49 184.8,1119.02 185.4,1119.12 186,1119.39 186.6,1119.51 187.2,1119.53 187.8,1120.3 188.4,1120.3 189,1120.3 189.6,1120.3 190.2,1120.3 190.8,1120.3 191.4,1120.3 192,1120.3 192.6,1120.3 193.2,1120.3 193.8,1120.3 194.4,1120.3 195,1120.3 195.6,1119.27 196.2,1119.3 196.8,1119.46 197.4,1119.68 198,1119.61 198.6,1119.33 199.2,1118.95 199.8,1118.66 200.4,1118.51 201,1118.63 201.6,1119.07 202.2,1119.58 202.8,1119.83 203.4,1120.03 204,1120.24 204.6,1120.17 205.2,1120.25 205.8,1120.26 206.4,1120.34 207,1120.38 207.6,1120.41 208.2,1120.3 208.8,1120.28 209.4,1120.09 210,1119.7 210.6,1119.67 211.2,1120 211.8,1120.11 212.4,1120.19 213,1120.42 213.6,1120.34 214.2,1120.24 214.8,1120.32 215.4,1120.35 216,1120.09 216.6,1120.32 217.2,1120.32 217.8,1120.3 218.4,1120.29 219,1120.19 219.6,1119.43 220.2,1117.83 220.8,1116.01 221.4,1114.99 222,1115.92 222.6,1117.54 223.2,1119.03 223.8,1119.31 224.4,1118.93 225,1117.18 225.6,1114.25 226.2,1110.83 226.8,1108.6 227.4,1108.06 228,1109.84 228.6,1113.27 229.2,1116.39 229.8,1118.24 230.4,1119.06 231,1119.58 231.6,1119.56 232.2,1119.76 232.8,1119.73 233.4,1120.04 234,1120.06 234.6,1120.19 235.2,1120.2 235.8,1120.36 236.4,1120.33 237,1120.2 237.6,1120.01 238.2,1119.75 238.8,1119.23 239.4,1118.92 240,1118.67 240.6,1118.64 241.2,1118.78 241.8,1119.11 242.4,1119.09 243,1119.64 243.6,1119.97 244.2,1119.92 244.8,1119.95 245.4,1120.08 246,1119.88 246.6,1119.73 247.2,1119.75 247.8,1120.02 248.4,1120.11 249,1120.25 249.6,1120.26 250.2,1120.32 250.8,1120.12 251.4,1120.17 252,1120.13 252.6,1120 253.2,1119.55 253.8,1119.37 254.4,1119.17 255,1118.84 255.6,1118.64 256.2,1118.96 256.8,1119.32 257.4,1119.22 258,1119.67 258.6,1120.09 259.2,1120.11 259.8,1119.93 260.4,1120.16 261,1119.91 261.6,1119.97 262.2,1120.19 262.8,1120.43 263.4,1120.44 264,1120.56 264.6,1120.45 265.2,1120.45 265.8,1120.41 266.4,1120.41 267,1120.37 267.6,1120.33 268.2,1120.23 268.8,1120.26 269.4,1120.07 270,1119.98 270.6,1120.15 271.2,1120.18 271.8,1119.95 272.4,1119.9 273,1119.91 273.6,1119.82 274.2,1119.85 274.8,1119.86 275.4,1120.05 276,1120.08 276.6,1120.13 277.2,1120.03 277.8,1120.08 278.4,1120 278.5,1120.6" fill="rgba(60,60,60,0.72)" stroke="none" stroke-width="0" />
<polyline points="105.6,1119.84 106.2,1120.01 106.8,1119.99 107.4,1119.66 108,1119.19 108.6,1118.45 109.2,1117.62 109.8,1117.02 110.4,1117.01 111,1117.3 111.6,1118.3 112.2,1118.99 112.8,1119.46 113.4,1119.27 114,1119.05 114.6,1118.18 115.2,1117.66 115.8,1117.11 116.4,1117.39 117,1117.77 117.6,1118.46 118.2,1119.16 118.8,1119.85 119.4,1119.95 120,1120 120.6,1120.18 121.2,1119.63 121.8,1118.79 122.4,1118.62 123,1118.07 123.6,1117.64 124.2,1117.82 124.8,1118.23 125.4,1118.76 126,1119.27 126.6,1119.76 127.2,1120.07 127.8,1120.07 128.4,1119.8 129,1119.4 129.6,1118.46 130.2,1117.53 130.8,1117.22 131.4,1117.45 132,1117.97 132.6,1118.65 133.2,1119.06 133.8,1119.16 134.4,1118.7 135,1118.04 135.6,1116.89 136.2,1115.86 136.8,1115.69 137.4,1116.28 138,1117.18 138.6,1117.6 139.2,1116.97 139.8,1115.75 140.4,1115.18 141,1115.43 141.6,1116.72 142.2,1118.15 142.8,1118.92 143.4,1118.63 144,1118.09 144.6,1117.31 145.2,1117.35 145.8,1117.8 146.4,1118.76 147,1119.43 147.6,1120.12 148.2,1120.27 148.8,1120.39 149.4,1120.28 150,1120.45 150.6,1120.35 151.2,1120.37 151.8,1120.39 152.4,1120.43 153,1120.14 153.6,1120.14 154.2,1119.8 154.8,1119.86 155.4,1119.63 156,1119.93 156.6,1120.06 157.2,1120.14 157.8,1119.81 158.4,1120.21 159,1120.24 159.6,1120.01 160.2,1120.13 160.8,1120.17 161.4,1119.69 162,1118.93 162.6,1118.17 163.2,1117.86 163.8,1118.22 164.4,1118.87 165,1119.45 165.6,1119.73 166.2,1119.53 166.8,1118.89 167.4,1117.97 168,1117.47 168.6,1117.78 169.2,1118.8 169.8,1119.61 170.4,1120.1 171,1119.93 171.6,1119.77 172.2,1119.93 172.8,1120.08 173.4,1119.8 174,1120.1 174.6,1120.07 175.2,1119.88 175.8,1119.53 176.4,1119.2 177,1118.51 177.6,1118.1 178.2,1118.07 178.8,1118.63 179.4,1119.41 180,1119.93 180.6,1119.79 181.2,1119.36 181.8,1118.69 182.4,1117.74 183,1116.9 183.6,1117.54 184.2,1118.49 184.8,1119.02 185.4,1119.12 186,1119.39 186.6,1119.51 187.2,1119.53 187.8,1120.3 188.4,1120.3 189,1120.3 189.6,1120.3 190.2,1120.3 190.8,1120.3 191.4,1120.3 192,1120.3 192.6,1120.3 193.2,1120.3 193.8,1120.3 194.4,1120.3 195,1120.3 195.6,1119.27 196.2,1119.3 196.8,1119.46 197.4,1119.68 198,1119.61 198.6,1119.33 199.2,1118.95 199.8,1118.66 200.4,1118.51 201,1118.63 201.6,1119.07 202.2,1119.58 202.8,1119.83 203.4,1120.03 204,1120.24 204.6,1120.17 205.2,1120.25 205.8,1120.26 206.4,1120.34 207,1120.38 207.6,1120.41 208.2,1120.3 208.8,1120.28 209.4,1120.09 210,1119.7 210.6,1119.67 211.2,1120 211.8,1120.11 212.4,1120.19 213,1120.42 213.6,1120.34 214.2,1120.24 214.8,1120.32 215.4,1120.35 216,1120.09 216.6,1120.32 217.2,1120.32 217.8,1120.3 218.4,1120.29 219,1120.19 219.6,1119.43 220.2,1117.83 220.8,1116.01 221.4,1114.99 222,1115.92 222.6,1117.54 223.2,1119.03 223.8,1119.31 224.4,1118.93 225,1117.18 225.6,1114.25 226.2,1110.83 226.8,1108.6 227.4,1108.06 228,1109.84 228.6,1113.27 229.2,1116.39 229.8,1118.24 230.4,1119.06 231,1119.58 231.6,1119.56 232.2,1119.76 232.8,1119.73 233.4,1120.04 234,1120.06 234.6,1120.19 235.2,1120.2 235.8,1120.36 236.4,1120.33 237,1120.2 237.6,1120.01 238.2,1119.75 238.8,1119.23 239.4,1118.92 240,1118.67 240.6,1118.64 241.2,1118.78 241.8,1119.11 242.4,1119.09 243,1119.64 243.6,1119.97 244.2,1119.92 244.8,1119.95 245.4,1120.08 246,1119.88 246.6,1119.73 247.2,1119.75 247.8,1120.02 248.4,1120.11 249,1120.25 249.6,1120.26 250.2,1120.32 250.8,1120.12 251.4,1120.17 252,1120.13 252.6,1120 253.2,1119.55 253.8,1119.37 254.4,1119.17 255,1118.84 255.6,1118.64 256.2,1118.96 256.8,1119.32 257.4,1119.22 258,1119.67 258.6,1120.09 259.2,1120.11 259.8,1119.93 260.4,1120.16 261,1119.91 261.6,1119.97 262.2,1120.19 262.8,1120.43 263.4,1120.44 264,1120.56 264.6,1120.45 265.2,1120.45 265.8,1120.41 266.4,1120.41 267,1120.37 267.6,1120.33 268.2,1120.23 268.8,1120.26 269.4,1120.07 270,1119.98 270.6,1120.15 271.2,1120.18 271.8,1119.95 272.4,1119.9 273,1119.91 273.6,1119.82 274.2,1119.85 274.8,1119.86 275.4,1120.05 276,1120.08 276.6,1120.13 277.2,1120.03 277.8,1120.08 278.4,1120" fill="none" stroke="#111" stroke-width="1.1" stroke-linejoin="round"/>
<line x1="425" y1="1039.8" x2="425" y2="1078.7" stroke="#231f20" stroke-width="1.3" />
<line x1="420.5" y1="1040.4" x2="425" y2="1040.4" stroke="#231f20" stroke-width="1.3" />
<line x1="420.5" y1="1078.1" x2="425" y2="1078.1" stroke="#231f20" stroke-width="1.3" />
<text x="419.6" y="1046.7" font-size="7.8" text-anchor="end" fill="#231f20" stroke="#231f20" stroke-width="0.12">31</text>
<text x="419.6" y="1079.7" font-size="7.8" text-anchor="end" fill="#231f20" stroke="#231f20" stroke-width="0.12">0</text>
<polygon points="426.2,1078.2 426.2,1077.61 426.8,1077.43 427.4,1077.63 428,1077.64 428.6,1077.84 429.2,1077.97 429.8,1077.98 430.4,1077.95 431,1077.75 431.6,1077.32 432.2,1075.95 432.8,1072.45 433.4,1064.94 434,1054.09 434.6,1043.45 435.2,1041.2 435.8,1042.23 436.4,1051.65 437,1061.24 437.6,1067.2 438.2,1069.7 438.8,1070.15 439.4,1070.25 440,1070.42 440.6,1071.1 441.2,1071.63 441.8,1072.46 442.4,1073.34 443,1074.23 443.6,1074.88 444.2,1075.75 444.8,1076.32 445.4,1076.91 446,1077.36 446.6,1077.47 447.2,1077.47 447.8,1077.32 448.4,1077.14 449,1076.66 449.6,1075.66 450.2,1072.89 450.8,1066.51 451.4,1057.64 452,1050.84 452.6,1051.01 453.2,1057.84 453.8,1066.94 454.4,1073.46 455,1076.48 455.6,1077.45 456.2,1077.77 456.8,1077.59 457.4,1077.37 458,1076.99 458.6,1076.45 459.2,1075.85 459.8,1075.62 460.4,1075.6 461,1075.8 461.6,1076.31 462.2,1076.73 462.8,1076.7 463.4,1077.27 464,1077.73 464.6,1077.62 465.2,1077.58 465.8,1077.71 466.4,1077.64 467,1077.46 467.6,1077.25 468.2,1076.85 468.8,1076.2 469.4,1075.63 470,1075.15 470.6,1075.66 471.2,1076.29 471.8,1077.13 472.4,1077.18 473,1077.48 473.6,1077.38 474.2,1077.64 474.8,1077.42 475.4,1077.6 476,1077.61 476.6,1077.75 477.2,1077.54 477.8,1077.64 478.4,1077.69 479,1077.58 479.6,1076.87 480.2,1076.18 480.8,1075.57 481.4,1075.77 482,1076.44 482.6,1077.3 483.2,1077.65 483.8,1077.88 484.4,1077.79 485,1077.87 485.6,1077.83 486.2,1077.32 486.8,1075.67 487.4,1073.65 488,1072.13 488.6,1072.43 489.2,1074.11 489.8,1076.19 490.4,1076.69 491,1075.76 491.6,1073.72 492.2,1072.44 492.8,1072.36 493.4,1073.25 494,1072.99 494.6,1070.97 495.2,1066.85 495.8,1062.54 496.4,1060.19 497,1061.08 497.6,1064.33 498.2,1068.63 498.8,1072.62 499.4,1075.36 500,1076.52 500.6,1076.96 501.2,1077.5 501.8,1077.63 502.4,1077.6 503,1077.78 503.6,1077.96 504.2,1077.96 504.8,1077.94 505.4,1077.65 506,1076.49 506.6,1074.21 507.2,1071.3 507.8,1069.91 508.4,1071.22 509,1073.74 509.6,1075.32 510.2,1074.13 510.8,1068.48 511.4,1058.17 512,1047.33 512.6,1042.35 513.2,1047.36 513.8,1058.28 514.4,1068.62 515,1074.47 515.6,1076.97 516.2,1077.6 516.8,1077.9 517.4,1077.95 518,1078.11 518.6,1078.08 519.2,1078.05 519.8,1077.93 520.4,1077.57 521,1077.61 521.6,1077.53 522.2,1077.67 522.8,1077.7 523.4,1077.93 524,1077.62 524.6,1077.62 525.2,1077.61 525.8,1077.86 526.4,1077.75 527,1077.39 527.6,1076.76 528.2,1075.66 528.8,1074.63 529.4,1074.32 530,1074.88 530.6,1075.86 531.2,1076.72 531.8,1077.2 532.4,1077.19 533,1077.42 533.6,1077.06 534.2,1077.23 534.8,1077.28 535.4,1077.44 536,1077.28 536.6,1077.29 537.2,1077.46 537.8,1077.65 538.4,1077.69 539,1077.7 539.6,1077.84 540.2,1077.77 540.8,1077.41 541.4,1077.52 542,1077.82 542.6,1077.97 543.2,1078.04 543.8,1078.09 544.4,1078.12 545,1077.99 545.6,1077.72 546.2,1077.27 546.8,1077.22 547.4,1077.04 548,1077.09 548.6,1077.11 549.2,1077.27 549.8,1077.53 550.4,1077.37 551,1077.6 551.6,1077.77 552.2,1077.55 552.8,1077.17 553.4,1076.8 554,1075.79 554.6,1075.13 555.2,1075.42 555.8,1076.01 556.4,1076.75 557,1077.48 557.6,1077.77 558.2,1077.87 558.8,1077.63 559.4,1077.37 560,1077.32 560.6,1077.29 561.2,1076.94 561.8,1077.02 562.4,1076.96 563,1076.26 563.6,1075.42 564.2,1074.8 564.8,1074.8 565.4,1075.31 566,1076.19 566.6,1077.2 567.2,1077.65 567.8,1077.9 568.4,1077.83 569,1077.94 569.6,1077.97 570.2,1077.96 570.8,1077.88 571.4,1077.85 572,1077.7 572.6,1077.39 573.2,1076.88 573.8,1076.17 574.4,1075.26 575,1074.55 575.6,1074.73 576.2,1075.49 576.8,1076.46 577.4,1076.84 578,1076.75 578.6,1075.53 579.2,1074.41 579.8,1073.44 580.4,1073.76 581,1074.73 581.6,1076.35 582.2,1077.2 582.8,1077.41 583.4,1077.65 584,1077.83 584.6,1077.92 585.2,1077.93 585.8,1077.88 586.4,1077.84 587,1077.89 587.6,1077.7 588.2,1077.2 588.8,1076.58 589.4,1075.62 590,1075.06 590.6,1075.38 591.2,1076.23 591.8,1076.86 592,1078.2" fill="rgba(60,60,60,0.72)" stroke="none" stroke-width="0" />
<polyline points="426.2,1077.61 426.8,1077.43 427.4,1077.63 428,1077.64 428.6,1077.84 429.2,1077.97 429.8,1077.98 430.4,1077.95 431,1077.75 431.6,1077.32 432.2,1075.95 432.8,1072.45 433.4,1064.94 434,1054.09 434.6,1043.45 435.2,1041.2 435.8,1042.23 436.4,1051.65 437,1061.24 437.6,1067.2 438.2,1069.7 438.8,1070.15 439.4,1070.25 440,1070.42 440.6,1071.1 441.2,1071.63 441.8,1072.46 442.4,1073.34 443,1074.23 443.6,1074.88 444.2,1075.75 444.8,1076.32 445.4,1076.91 446,1077.36 446.6,1077.47 447.2,1077.47 447.8,1077.32 448.4,1077.14 449,1076.66 449.6,1075.66 450.2,1072.89 450.8,1066.51 451.4,1057.64 452,1050.84 452.6,1051.01 453.2,1057.84 453.8,1066.94 454.4,1073.46 455,1076.48 455.6,1077.45 456.2,1077.77 456.8,1077.59 457.4,1077.37 458,1076.99 458.6,1076.45 459.2,1075.85 459.8,1075.62 460.4,1075.6 461,1075.8 461.6,1076.31 462.2,1076.73 462.8,1076.7 463.4,1077.27 464,1077.73 464.6,1077.62 465.2,1077.58 465.8,1077.71 466.4,1077.64 467,1077.46 467.6,1077.25 468.2,1076.85 468.8,1076.2 469.4,1075.63 470,1075.15 470.6,1075.66 471.2,1076.29 471.8,1077.13 472.4,1077.18 473,1077.48 473.6,1077.38 474.2,1077.64 474.8,1077.42 475.4,1077.6 476,1077.61 476.6,1077.75 477.2,1077.54 477.8,1077.64 478.4,1077.69 479,1077.58 479.6,1076.87 480.2,1076.18 480.8,1075.57 481.4,1075.77 482,1076.44 482.6,1077.3 483.2,1077.65 483.8,1077.88 484.4,1077.79 485,1077.87 485.6,1077.83 486.2,1077.32 486.8,1075.67 487.4,1073.65 488,1072.13 488.6,1072.43 489.2,1074.11 489.8,1076.19 490.4,1076.69 491,1075.76 491.6,1073.72 492.2,1072.44 492.8,1072.36 493.4,1073.25 494,1072.99 494.6,1070.97 495.2,1066.85 495.8,1062.54 496.4,1060.19 497,1061.08 497.6,1064.33 498.2,1068.63 498.8,1072.62 499.4,1075.36 500,1076.52 500.6,1076.96 501.2,1077.5 501.8,1077.63 502.4,1077.6 503,1077.78 503.6,1077.96 504.2,1077.96 504.8,1077.94 505.4,1077.65 506,1076.49 506.6,1074.21 507.2,1071.3 507.8,1069.91 508.4,1071.22 509,1073.74 509.6,1075.32 510.2,1074.13 510.8,1068.48 511.4,1058.17 512,1047.33 512.6,1042.35 513.2,1047.36 513.8,1058.28 514.4,1068.62 515,1074.47 515.6,1076.97 516.2,1077.6 516.8,1077.9 517.4,1077.95 518,1078.11 518.6,1078.08 519.2,1078.05 519.8,1077.93 520.4,1077.57 521,1077.61 521.6,1077.53 522.2,1077.67 522.8,1077.7 523.4,1077.93 524,1077.62 524.6,1077.62 525.2,1077.61 525.8,1077.86 526.4,1077.75 527,1077.39 527.6,1076.76 528.2,1075.66 528.8,1074.63 529.4,1074.32 530,1074.88 530.6,1075.86 531.2,1076.72 531.8,1077.2 532.4,1077.19 533,1077.42 533.6,1077.06 534.2,1077.23 534.8,1077.28 535.4,1077.44 536,1077.28 536.6,1077.29 537.2,1077.46 537.8,1077.65 538.4,1077.69 539,1077.7 539.6,1077.84 540.2,1077.77 540.8,1077.41 541.4,1077.52 542,1077.82 542.6,1077.97 543.2,1078.04 543.8,1078.09 544.4,1078.12 545,1077.99 545.6,1077.72 546.2,1077.27 546.8,1077.22 547.4,1077.04 548,1077.09 548.6,1077.11 549.2,1077.27 549.8,1077.53 550.4,1077.37 551,1077.6 551.6,1077.77 552.2,1077.55 552.8,1077.17 553.4,1076.8 554,1075.79 554.6,1075.13 555.2,1075.42 555.8,1076.01 556.4,1076.75 557,1077.48 557.6,1077.77 558.2,1077.87 558.8,1077.63 559.4,1077.37 560,1077.32 560.6,1077.29 561.2,1076.94 561.8,1077.02 562.4,1076.96 563,1076.26 563.6,1075.42 564.2,1074.8 564.8,1074.8 565.4,1075.31 566,1076.19 566.6,1077.2 567.2,1077.65 567.8,1077.9 568.4,1077.83 569,1077.94 569.6,1077.97 570.2,1077.96 570.8,1077.88 571.4,1077.85 572,1077.7 572.6,1077.39 573.2,1076.88 573.8,1076.17 574.4,1075.26 575,1074.55 575.6,1074.73 576.2,1075.49 576.8,1076.46 577.4,1076.84 578,1076.75 578.6,1075.53 579.2,1074.41 579.8,1073.44 580.4,1073.76 581,1074.73 581.6,1076.35 582.2,1077.2 582.8,1077.41 583.4,1077.65 584,1077.83 584.6,1077.92 585.2,1077.93 585.8,1077.88 586.4,1077.84 587,1077.89 587.6,1077.7 588.2,1077.2 588.8,1076.58 589.4,1075.62 590,1075.06 590.6,1075.38 591.2,1076.23 591.8,1076.86" fill="none" stroke="#111" stroke-width="1.1" stroke-linejoin="round"/>
<line x1="425" y1="1082.9" x2="425" y2="1121.7" stroke="#231f20" stroke-width="1.3" />
<line x1="420.5" y1="1083.5" x2="425" y2="1083.5" stroke="#231f20" stroke-width="1.3" />
<line x1="420.5" y1="1121.1" x2="425" y2="1121.1" stroke="#231f20" stroke-width="1.3" />
<text x="419.6" y="1089.8" font-size="7.8" text-anchor="end" fill="#231f20" stroke="#231f20" stroke-width="0.12">31</text>
<text x="419.6" y="1122.7" font-size="7.8" text-anchor="end" fill="#231f20" stroke="#231f20" stroke-width="0.12">0</text>
<polygon points="426.2,1120.6 426.2,1120.13 426.8,1119.88 427.4,1120.03 428,1119.96 428.6,1119.95 429.2,1119.95 429.8,1120.2 430.4,1120.03 431,1119.87 431.6,1119.36 432.2,1117.89 432.8,1113.71 433.4,1106.45 434,1098.78 434.6,1095.52 435.2,1098.71 435.8,1106.22 436.4,1113.71 437,1117.81 437.6,1119.2 438.2,1119.52 438.8,1118.74 439.4,1117.72 440,1117.3 440.6,1117.95 441.2,1118.98 441.8,1119.77 442.4,1120.11 443,1120 443.6,1119.87 444.2,1119.66 444.8,1119.72 445.4,1119.57 446,1120.01 446.6,1119.94 447.2,1119.93 447.8,1120.21 448.4,1120.38 449,1120.04 449.6,1119.51 450.2,1117.52 450.8,1111.99 451.4,1103.25 452,1095.94 452.6,1095.94 453.2,1103.32 453.8,1111.88 454.4,1117.37 455,1119.68 455.6,1120.35 456.2,1120.28 456.8,1120.47 457.4,1120.37 458,1120.42 458.6,1120.29 459.2,1120.25 459.8,1119.9 460.4,1119.36 461,1118.22 461.6,1117.29 462.2,1117.16 462.8,1118.08 463.4,1119.13 464,1119.92 464.6,1120.09 465.2,1120.04 465.8,1120.06 466.4,1120.19 467,1119.98 467.6,1119.99 468.2,1119.92 468.8,1119.02 469.4,1117.82 470,1117.53 470.6,1118.04 471.2,1118.67 471.8,1119.27 472.4,1119.94 473,1120.1 473.6,1120.19 474.2,1120.17 474.8,1120.32 475.4,1120.32 476,1120.23 476.6,1120.01 477.2,1119.19 477.8,1116.96 478.4,1113.5 479,1110.29 479.6,1108.88 480.2,1110.82 480.8,1114.66 481.4,1117.85 482,1119.53 482.6,1120.29 483.2,1120.33 483.8,1119.65 484.4,1117.95 485,1115.06 485.6,1112.17 486.2,1111.4 486.8,1113.85 487.4,1116.7 488,1118.73 488.6,1119.62 489.2,1119.92 489.8,1119.31 490.4,1118.38 491,1116.66 491.6,1114.92 492.2,1114.77 492.8,1116.32 493.4,1117.97 494,1119.15 494.6,1119.67 495.2,1119.74 495.8,1119.13 496.4,1118.31 497,1116.37 497.6,1113.2 498.2,1110.08 498.8,1109.06 499.4,1110.49 500,1113.57 500.6,1116.88 501.2,1118.91 501.8,1119.96 502.4,1120.32 503,1120.33 503.6,1120.3 504.2,1120.3 504.8,1120.3 505.4,1120.3 506,1120.3 506.6,1120.3 507.2,1120.3 507.8,1120.3 508.4,1120.3 509,1120.3 509.6,1120.3 510.2,1120.3 510.8,1120.3 511.4,1120.3 512,1120.3 512.6,1120.3 513.2,1120.3 513.8,1120.3 514.4,1120.3 515,1120.3 515.6,1120.3 516.2,1120.3 516.8,1120.3 517.4,1120.3 518,1120.3 518.6,1120.3 519.2,1120.3 519.8,1120.3 520.4,1119.84 521,1120.17 521.6,1119.82 522.2,1119.94 522.8,1119.92 523.4,1119.76 524,1119.33 524.6,1119.29 525.2,1119.51 525.8,1119.62 526.4,1119.91 527,1120.2 527.6,1120.37 528.2,1120.21 528.8,1120.44 529.4,1120.41 530,1120.21 530.6,1120.17 531.2,1120.19 531.8,1120.08 532.4,1119.84 533,1120.08 533.6,1120.01 534.2,1119.95 534.8,1120.08 535.4,1120.07 536,1120.07 536.6,1119.92 537.2,1119.63 537.8,1118.51 538.4,1116.96 539,1114 539.6,1111.57 540.2,1111.37 540.8,1113.53 541.4,1116.7 542,1117.96 542.6,1116.52 543.2,1113.89 543.8,1113.08 544.4,1114.4 545,1116.88 545.6,1118.65 546.2,1119.35 546.8,1118.88 547.4,1118.04 548,1115.78 548.6,1113.67 549.2,1113.12 549.8,1115.09 550.4,1117.29 551,1118.7 551.6,1119.5 552.2,1119.98 552.8,1120.17 553.4,1120.11 554,1120.28 554.6,1120.29 555.2,1120.19 555.8,1120.15 556.4,1120.36 557,1120.42 557.6,1120.45 558.2,1120.37 558.8,1120.34 559.4,1120.37 560,1120.17 560.6,1120.05 561.2,1120.34 561.8,1120.21 562.4,1119.96 563,1120 563.6,1119.69 564.2,1118.79 564.8,1117.56 565.4,1115.79 566,1114.98 566.6,1115.83 567.2,1117.67 567.8,1119.06 568.4,1119.78 569,1120.06 569.6,1119.97 570.2,1119.3 570.8,1117.98 571.4,1116.73 572,1116.03 572.6,1116.59 573.2,1118.05 573.8,1119.43 574.4,1119.9 575,1120.21 575.6,1120.24 576.2,1120.25 576.8,1119.94 577.4,1119.85 578,1119.33 578.6,1118.27 579.2,1116.34 579.8,1115.25 580.4,1115.49 581,1116.99 581.6,1118.43 582.2,1119.6 582.8,1119.81 583.4,1120.15 584,1120.11 584.6,1120.4 585.2,1120.41 585.8,1120.46 586.4,1120.21 587,1120.28 587.6,1120.15 588.2,1119.93 588.8,1119.41 589.4,1117.76 590,1113.74 590.6,1109.17 591.2,1108.31 591.8,1111.98 592,1120.6" fill="rgba(60,60,60,0.72)" stroke="none" stroke-width="0" />
<polyline points="426.2,1120.13 426.8,1119.88 427.4,1120.03 428,1119.96 428.6,1119.95 429.2,1119.95 429.8,1120.2 430.4,1120.03 431,1119.87 431.6,1119.36 432.2,1117.89 432.8,1113.71 433.4,1106.45 434,1098.78 434.6,1095.52 435.2,1098.71 435.8,1106.22 436.4,1113.71 437,1117.81 437.6,1119.2 438.2,1119.52 438.8,1118.74 439.4,1117.72 440,1117.3 440.6,1117.95 441.2,1118.98 441.8,1119.77 442.4,1120.11 443,1120 443.6,1119.87 444.2,1119.66 444.8,1119.72 445.4,1119.57 446,1120.01 446.6,1119.94 447.2,1119.93 447.8,1120.21 448.4,1120.38 449,1120.04 449.6,1119.51 450.2,1117.52 450.8,1111.99 451.4,1103.25 452,1095.94 452.6,1095.94 453.2,1103.32 453.8,1111.88 454.4,1117.37 455,1119.68 455.6,1120.35 456.2,1120.28 456.8,1120.47 457.4,1120.37 458,1120.42 458.6,1120.29 459.2,1120.25 459.8,1119.9 460.4,1119.36 461,1118.22 461.6,1117.29 462.2,1117.16 462.8,1118.08 463.4,1119.13 464,1119.92 464.6,1120.09 465.2,1120.04 465.8,1120.06 466.4,1120.19 467,1119.98 467.6,1119.99 468.2,1119.92 468.8,1119.02 469.4,1117.82 470,1117.53 470.6,1118.04 471.2,1118.67 471.8,1119.27 472.4,1119.94 473,1120.1 473.6,1120.19 474.2,1120.17 474.8,1120.32 475.4,1120.32 476,1120.23 476.6,1120.01 477.2,1119.19 477.8,1116.96 478.4,1113.5 479,1110.29 479.6,1108.88 480.2,1110.82 480.8,1114.66 481.4,1117.85 482,1119.53 482.6,1120.29 483.2,1120.33 483.8,1119.65 484.4,1117.95 485,1115.06 485.6,1112.17 486.2,1111.4 486.8,1113.85 487.4,1116.7 488,1118.73 488.6,1119.62 489.2,1119.92 489.8,1119.31 490.4,1118.38 491,1116.66 491.6,1114.92 492.2,1114.77 492.8,1116.32 493.4,1117.97 494,1119.15 494.6,1119.67 495.2,1119.74 495.8,1119.13 496.4,1118.31 497,1116.37 497.6,1113.2 498.2,1110.08 498.8,1109.06 499.4,1110.49 500,1113.57 500.6,1116.88 501.2,1118.91 501.8,1119.96 502.4,1120.32 503,1120.33 503.6,1120.3 504.2,1120.3 504.8,1120.3 505.4,1120.3 506,1120.3 506.6,1120.3 507.2,1120.3 507.8,1120.3 508.4,1120.3 509,1120.3 509.6,1120.3 510.2,1120.3 510.8,1120.3 511.4,1120.3 512,1120.3 512.6,1120.3 513.2,1120.3 513.8,1120.3 514.4,1120.3 515,1120.3 515.6,1120.3 516.2,1120.3 516.8,1120.3 517.4,1120.3 518,1120.3 518.6,1120.3 519.2,1120.3 519.8,1120.3 520.4,1119.84 521,1120.17 521.6,1119.82 522.2,1119.94 522.8,1119.92 523.4,1119.76 524,1119.33 524.6,1119.29 525.2,1119.51 525.8,1119.62 526.4,1119.91 527,1120.2 527.6,1120.37 528.2,1120.21 528.8,1120.44 529.4,1120.41 530,1120.21 530.6,1120.17 531.2,1120.19 531.8,1120.08 532.4,1119.84 533,1120.08 533.6,1120.01 534.2,1119.95 534.8,1120.08 535.4,1120.07 536,1120.07 536.6,1119.92 537.2,1119.63 537.8,1118.51 538.4,1116.96 539,1114 539.6,1111.57 540.2,1111.37 540.8,1113.53 541.4,1116.7 542,1117.96 542.6,1116.52 543.2,1113.89 543.8,1113.08 544.4,1114.4 545,1116.88 545.6,1118.65 546.2,1119.35 546.8,1118.88 547.4,1118.04 548,1115.78 548.6,1113.67 549.2,1113.12 549.8,1115.09 550.4,1117.29 551,1118.7 551.6,1119.5 552.2,1119.98 552.8,1120.17 553.4,1120.11 554,1120.28 554.6,1120.29 555.2,1120.19 555.8,1120.15 556.4,1120.36 557,1120.42 557.6,1120.45 558.2,1120.37 558.8,1120.34 559.4,1120.37 560,1120.17 560.6,1120.05 561.2,1120.34 561.8,1120.21 562.4,1119.96 563,1120 563.6,1119.69 564.2,1118.79 564.8,1117.56 565.4,1115.79 566,1114.98 566.6,1115.83 567.2,1117.67 567.8,1119.06 568.4,1119.78 569,1120.06 569.6,1119.97 570.2,1119.3 570.8,1117.98 571.4,1116.73 572,1116.03 572.6,1116.59 573.2,1118.05 573.8,1119.43 574.4,1119.9 575,1120.21 575.6,1120.24 576.2,1120.25 576.8,1119.94 577.4,1119.85 578,1119.33 578.6,1118.27 579.2,1116.34 579.8,1115.25 580.4,1115.49 581,1116.99 581.6,1118.43 582.2,1119.6 582.8,1119.81 583.4,1120.15 584,1120.11 584.6,1120.4 585.2,1120.41 585.8,1120.46 586.4,1120.21 587,1120.28 587.6,1120.15 588.2,1119.93 588.8,1119.41 589.4,1117.76 590,1113.74 590.6,1109.17 591.2,1108.31 591.8,1111.98" fill="none" stroke="#111" stroke-width="1.1" stroke-linejoin="round"/>
<rect x="67.4" y="1050.1" width="23.7" height="14.6" fill="#111" stroke="none" stroke-width="0" rx="3"/>
<text x="79.25" y="1061.7" font-size="12" text-anchor="middle" fill="white" stroke="white" stroke-width="0.12">WT</text>
<rect x="66.3" y="1094" width="26.6" height="15.3" fill="#111" stroke="none" stroke-width="0" rx="3"/>
<text x="79.6" y="1105.95" font-size="12" text-anchor="middle" fill="white" stroke="white" stroke-width="0.12">ΔHS</text>
<rect x="387" y="1051.8" width="23.5" height="13.5" fill="#111" stroke="none" stroke-width="0" rx="3"/>
<text x="398.75" y="1062.85" font-size="12" text-anchor="middle" fill="white" stroke="white" stroke-width="0.12">WT</text>
<rect x="385.8" y="1094.2" width="27.2" height="14.5" fill="#111" stroke="none" stroke-width="0" rx="3"/>
<text x="399.4" y="1105.75" font-size="12" text-anchor="middle" fill="white" stroke="white" stroke-width="0.12">ΔHS</text>
<polygon points="186.1,1126.7 187.44,1130.64 190.93,1137.39 194.82,1141.25 195.98,1140.15 192.67,1136.41 188.75,1129.9" fill="#111"/><polygon points="197.5,1126.7 194.85,1129.9 190.93,1136.41 187.69,1140.59 188.91,1141.61 192.67,1137.39 196.16,1130.64" fill="#111"/><circle cx="187.3" cy="1143.1" r="1.9" fill="none" stroke="#111" stroke-width="1.1"/><ellipse cx="196.3" cy="1142.5" rx="1.7" ry="3.0" transform="rotate(-35 196.3 1142.5)" fill="none" stroke="#111" stroke-width="1.1"/>
<polygon points="507.3,1127.1 508.65,1130.87 512.14,1137.31 515.99,1141.61 517.21,1140.59 513.86,1136.29 509.94,1130.12" fill="#111"/><polygon points="518.7,1127.1 516.06,1130.12 512.14,1136.29 508.86,1141.02 510.14,1141.98 513.86,1137.31 517.35,1130.87" fill="#111"/><circle cx="508.5" cy="1142.5" r="2.2" fill="#111"/><ellipse cx="517.4" cy="1142.3" rx="2.1" ry="3.3" transform="rotate(-38 517.4 1142.3)" fill="#111"/>
<text x="195.1" y="1158.4" font-size="13" text-anchor="middle" fill="#231f20" stroke="#231f20" stroke-width="0.12">TALEN</text>
<text x="515.6" y="1158.4" font-size="13" text-anchor="middle" fill="#231f20" stroke="#231f20" stroke-width="0.12">TALEN</text>
<text x="323.7" y="1005.1" font-size="10.8" text-anchor="middle" fill="#231f20" stroke="#231f20" stroke-width="0.12">Normalized</text>
<text x="325.7" y="1018.5" font-size="11" text-anchor="middle" font-style="italic" fill="#231f20" stroke="#231f20" stroke-width="0.12">PVT1</text>
<text x="324.9" y="1031" font-size="10.9" text-anchor="middle" fill="#231f20" stroke="#231f20" stroke-width="0.12">expression</text>
<line x1="286.1" y1="1050.9" x2="286.1" y2="1054.4" stroke="#231f20" stroke-width="1.0" />
<text transform="translate(284.1,1050.2) rotate(90)" x="0" y="0" font-size="9.2" text-anchor="end" fill="#231f20">0</text>
<line x1="300.26" y1="1050.9" x2="300.26" y2="1054.4" stroke="#231f20" stroke-width="1.0" />
<text transform="translate(298.26,1050.2) rotate(90)" x="0" y="0" font-size="9.2" text-anchor="end" fill="#231f20">10</text>
<line x1="314.42" y1="1050.9" x2="314.42" y2="1054.4" stroke="#231f20" stroke-width="1.0" />
<text transform="translate(312.42,1050.2) rotate(90)" x="0" y="0" font-size="9.2" text-anchor="end" fill="#231f20">20</text>
<line x1="328.58" y1="1050.9" x2="328.58" y2="1054.4" stroke="#231f20" stroke-width="1.0" />
<text transform="translate(326.58,1050.2) rotate(90)" x="0" y="0" font-size="9.2" text-anchor="end" fill="#231f20">30</text>
<line x1="342.74" y1="1050.9" x2="342.74" y2="1054.4" stroke="#231f20" stroke-width="1.0" />
<text transform="translate(340.74,1050.2) rotate(90)" x="0" y="0" font-size="9.2" text-anchor="end" fill="#231f20">40</text>
<line x1="356.9" y1="1050.9" x2="356.9" y2="1054.4" stroke="#231f20" stroke-width="1.0" />
<text transform="translate(354.9,1050.2) rotate(90)" x="0" y="0" font-size="9.2" text-anchor="end" fill="#231f20">50</text>
<line x1="286.1" y1="1054.4" x2="368" y2="1054.4" stroke="#231f20" stroke-width="1.3" />
<rect x="286.1" y="1059.1" width="78.59" height="17.5" fill="#e4e4e4" stroke="#333" stroke-width="1.0" />
<rect x="286.1" y="1101.1" width="26.48" height="18.3" fill="#e4e4e4" stroke="#333" stroke-width="1.0" />
<line x1="286.1" y1="1053.2" x2="286.1" y2="1123" stroke="#231f20" stroke-width="1.3" />
<circle cx="359" cy="1065.7" r="2" fill="white" stroke="#222" stroke-width="0.8"/>
<circle cx="359.2" cy="1069.8" r="2" fill="white" stroke="#222" stroke-width="0.8"/>
<circle cx="365.4" cy="1068.9" r="2" fill="white" stroke="#222" stroke-width="0.8"/>
<circle cx="368" cy="1065.3" r="2" fill="white" stroke="#222" stroke-width="0.8"/>
<circle cx="313.9" cy="1108.3" r="2" fill="white" stroke="#222" stroke-width="0.8"/>
<circle cx="312.2" cy="1112.6" r="2" fill="white" stroke="#222" stroke-width="0.8"/>
<text x="635.8" y="1007.1" font-size="10.8" text-anchor="middle" fill="#231f20" stroke="#231f20" stroke-width="0.12">Normalized</text>
<text x="636.3" y="1020.2" font-size="11" text-anchor="middle" font-style="italic" fill="#231f20" stroke="#231f20" stroke-width="0.12">PPARA</text>
<text x="637" y="1031.6" font-size="10.9" text-anchor="middle" fill="#231f20" stroke="#231f20" stroke-width="0.12">expression</text>
<line x1="597.4" y1="1052.9" x2="597.4" y2="1056.4" stroke="#231f20" stroke-width="1.0" />
<text transform="translate(595.4,1052.2) rotate(90)" x="0" y="0" font-size="9.2" text-anchor="end" fill="#231f20">0</text>
<line x1="616.78" y1="1052.9" x2="616.78" y2="1056.4" stroke="#231f20" stroke-width="1.0" />
<text transform="translate(614.78,1052.2) rotate(90)" x="0" y="0" font-size="9.2" text-anchor="end" fill="#231f20">100</text>
<line x1="636.16" y1="1052.9" x2="636.16" y2="1056.4" stroke="#231f20" stroke-width="1.0" />
<text transform="translate(634.16,1052.2) rotate(90)" x="0" y="0" font-size="9.2" text-anchor="end" fill="#231f20">200</text>
<line x1="655.54" y1="1052.9" x2="655.54" y2="1056.4" stroke="#231f20" stroke-width="1.0" />
<text transform="translate(653.54,1052.2) rotate(90)" x="0" y="0" font-size="9.2" text-anchor="end" fill="#231f20">300</text>
<line x1="674.92" y1="1052.9" x2="674.92" y2="1056.4" stroke="#231f20" stroke-width="1.0" />
<text transform="translate(672.92,1052.2) rotate(90)" x="0" y="0" font-size="9.2" text-anchor="end" fill="#231f20">400</text>
<line x1="597.4" y1="1056.4" x2="685" y2="1056.4" stroke="#231f20" stroke-width="1.3" />
<rect x="597.4" y="1060.5" width="67.64" height="17.8" fill="#e4e4e4" stroke="#333" stroke-width="1.0" />
<rect x="597.4" y="1103.6" width="18.99" height="17.8" fill="#e4e4e4" stroke="#333" stroke-width="1.0" />
<line x1="597.4" y1="1055.2" x2="597.4" y2="1123" stroke="#231f20" stroke-width="1.3" />
<circle cx="646.6" cy="1067.7" r="2" fill="white" stroke="#222" stroke-width="0.8"/>
<circle cx="653.6" cy="1067.7" r="2" fill="white" stroke="#222" stroke-width="0.8"/>
<circle cx="674" cy="1065.9" r="2" fill="white" stroke="#222" stroke-width="0.8"/>
<circle cx="674.6" cy="1068.8" r="2" fill="white" stroke="#222" stroke-width="0.8"/>
<circle cx="612" cy="1110.9" r="2" fill="white" stroke="#222" stroke-width="0.8"/>
<circle cx="615" cy="1114" r="2" fill="white" stroke="#222" stroke-width="0.8"/>
<circle cx="622.2" cy="1114.2" r="2" fill="white" stroke="#222" stroke-width="0.8"/>
<line x1="362.2" y1="1068.1" x2="368.5" y2="1068.1" stroke="#222" stroke-width="0.9" />
<line x1="656.5" y1="1069.6" x2="674" y2="1069.6" stroke="#222" stroke-width="0.9" />
<line x1="674" y1="1067.4" x2="674" y2="1071.8" stroke="#222" stroke-width="0.9" />
<line x1="656.5" y1="1067.4" x2="656.5" y2="1071.8" stroke="#222" stroke-width="0.9" />
<line x1="612.2" y1="1112" x2="618.2" y2="1112" stroke="#222" stroke-width="0.9" />
<line x1="284.3" y1="1067.8" x2="286.1" y2="1067.8" stroke="#231f20" stroke-width="0.8" />
<line x1="284.3" y1="1110.5" x2="286.1" y2="1110.5" stroke="#231f20" stroke-width="0.8" />
<line x1="595.6" y1="1069.4" x2="597.4" y2="1069.4" stroke="#231f20" stroke-width="0.8" />
<line x1="595.6" y1="1112.5" x2="597.4" y2="1112.5" stroke="#231f20" stroke-width="0.8" />
</svg>
</body></html>
